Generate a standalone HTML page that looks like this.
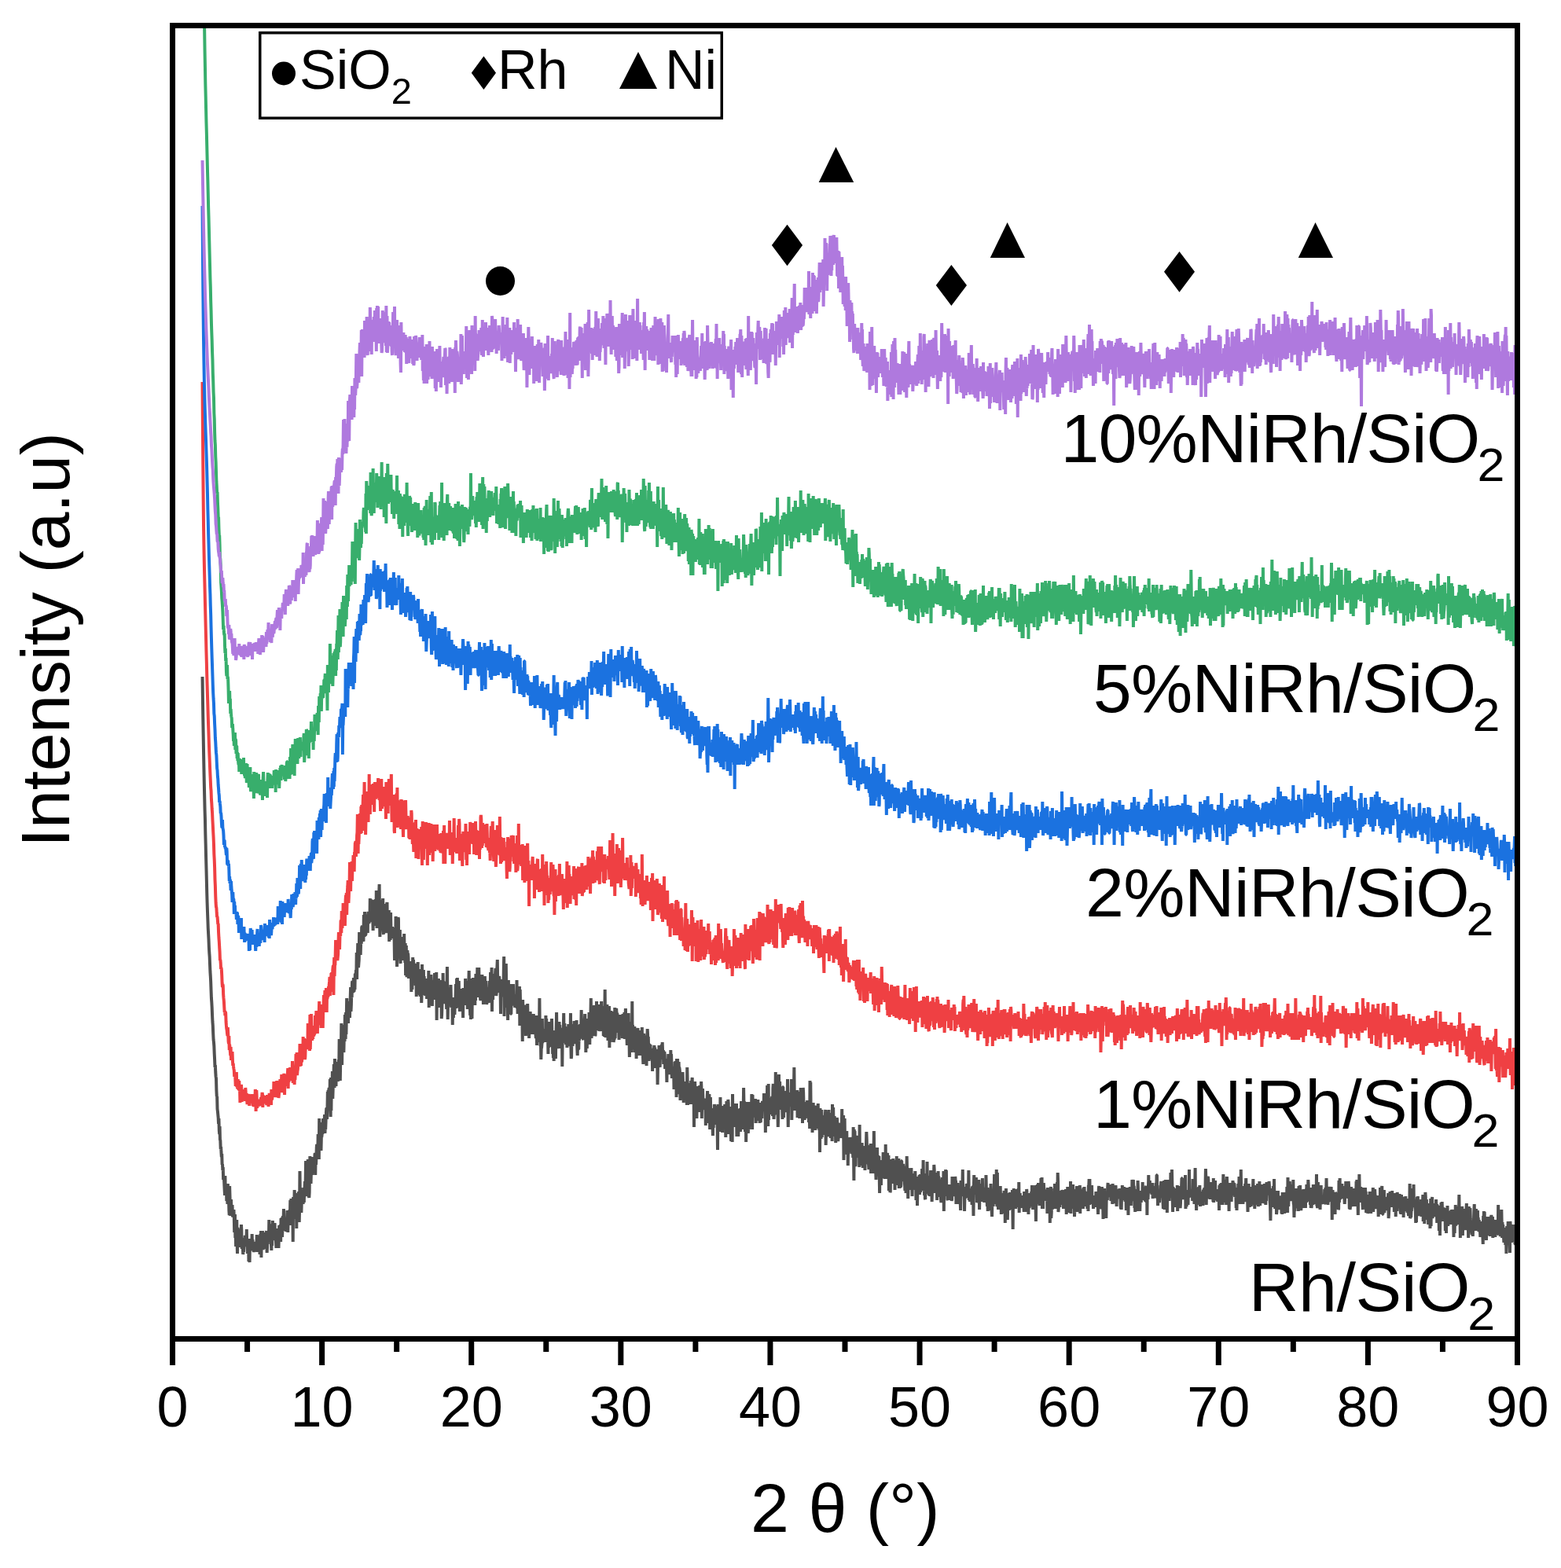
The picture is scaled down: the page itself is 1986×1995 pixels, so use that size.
<!DOCTYPE html>
<html><head><meta charset="utf-8"><title>XRD patterns</title>
<style>
html,body{margin:0;padding:0;background:#fff;}
body{width:1986px;height:1995px;overflow:hidden;}
svg{display:block;}
text{font-family:"Liberation Sans",Arial,sans-serif;fill:#000;}
</style></head>
<body>
<svg xmlns="http://www.w3.org/2000/svg" width="1986" height="1995" viewBox="0 0 1986 1995">
<defs><clipPath id="pa"><rect x="219.5" y="32.5" width="1711" height="1671"/></clipPath></defs>
<g clip-path="url(#pa)">
<path transform="translate(257.522,0) scale(0.38022,1)" vector-effect="non-scaling-stroke" fill="none" stroke="#505050" stroke-width="4" stroke-linejoin="bevel" d="M0,861l1,27 1,25 1,22 1,22 1,20 1,19 1,17 1,17 1,12 1,19 1,14 1,16 1,14 1,15 1,16 1,13 1,11 1,10 1,11 1,7 1,7 1,10 1,7 1,5 1,10 1,9 1,6 1,7 1,11 1,10 1,5 1,7 1,10 1,8 1,5 1,10 1,8 1,3 1,5 1,10 1,7 1,10 1,-3 1,9 1,6 1,2 1,15 1,8 1,0 1,16 1,3 1,4 1,4 1,8 1,-7 1,15 1,5 1,-10 1,17 1,1 1,11 1,-3 1,7 1,6 1,-4 1,14 1,-1 1,8 1,-4 1,16 1,-1 1,-3 1,9 1,8 1,7 1,-25 1,22 1,-2 1,-3 1,-7 1,22 1,-22 1,18 1,8 1,-26 1,13 1,-9 1,16 1,14 1,6 1,-37 1,13 1,14 1,11 1,-11 1,-10 1,12 1,-1 1,0 1,-4 1,14 1,1 1,-2 1,1 1,-8 1,10 1,19 1,-12 1,-11 1,30 1,-7 1,18 1,-20 1,-4 1,-10 1,30 1,13 1,-33 1,2 1,14 1,-14 1,7 1,0 1,6 1,10 1,-10 1,10 1,-13 1,8 1,-24 1,7 1,24 1,-14 1,12 1,0 1,9 1,-5 1,2 1,-11 1,-6 1,0 1,2 1,-6 1,6 1,5 1,3 1,-6 1,-16 1,19 1,3 1,9 1,-5 1,-12 1,-1 1,28 1,-13 1,11 1,3 1,-30 1,13 1,0 1,1 1,0 1,-3 1,0 1,-17 1,13 1,-6 1,9 1,-6 1,11 1,2 1,-5 1,0 1,-2 1,-6 1,3 1,-3 1,9 1,-4 1,6 1,-20 1,22 1,-17 1,1 1,5 1,-4 1,8 1,-9 1,-5 1,2 1,22 1,-13 1,-13 1,12 1,-16 1,34 1,-34 1,20 1,0 1,-20 1,17 1,7 1,-6 1,-2 1,7 1,-9 1,2 1,-5 1,8 1,-17 1,18 1,-14 1,-6 1,15 1,13 1,-7 1,-16 1,12 1,-12 1,4 1,2 1,-25 1,25 1,-13 1,4 1,-9 1,0 1,5 1,19 1,8 1,-18 1,12 1,-15 1,-17 1,21 1,3 1,-9 1,7 1,3 1,-16 1,-6 1,13 1,-1 1,-1 1,13 1,8 1,-23 1,11 1,3 1,-3 1,3 1,-16 1,12 1,13 1,-13 1,-16 1,13 1,7 1,-11 1,-10 1,22 1,-30 1,18 1,-6 1,-13 1,25 1,-10 1,-17 1,19 1,-12 1,-16 1,12 1,10 1,4 1,-6 1,-2 1,4 1,-8 1,15 1,-12 1,1 1,2 1,-18 1,3 1,25 1,-14 1,-8 1,6 1,-10 1,8 1,-11 1,10 1,-22 1,32 1,-21 1,-13 1,15 1,-3 1,5 1,-15 1,17 1,36 1,-57 1,18 1,-8 1,5 1,-24 1,7 1,18 1,-7 1,19 1,-28 1,9 1,31 1,-43 1,-2 1,9 1,-1 1,10 1,-9 1,-11 1,11 1,28 1,-17 1,-48 1,30 1,-9 1,17 1,-10 1,25 1,-13 1,-1 1,-9 1,-3 1,4 1,11 1,-10 1,-11 1,19 1,-14 1,-4 1,-9 1,2 1,-2 1,-26 1,45 1,-6 1,-10 1,14 1,-8 1,-2 1,-35 1,26 1,9 1,12 1,2 1,-7 1,-32 1,-14 1,33 1,-8 1,10 1,-15 1,3 1,-22 1,23 1,-13 1,9 1,0 1,-9 1,4 1,-6 1,9 1,-5 1,-15 1,-2 1,28 1,-25 1,12 1,-9 1,-13 1,-4 1,9 1,1 1,3 1,-26 1,7 1,5 1,20 1,-52 1,34 1,-14 1,11 1,-13 1,9 1,14 1,-17 1,0 1,-3 1,-16 1,15 1,-11 1,-9 1,8 1,-4 1,11 1,-12 1,-8 1,24 1,-7 1,2 1,-10 1,-11 1,-6 1,0 1,14 1,-12 1,-23 1,18 1,-20 1,19 1,-20 1,-2 1,16 1,-4 1,-23 1,31 1,17 1,-50 1,42 1,-35 1,1 1,3 1,-19 1,35 1,-12 1,-19 1,5 1,-18 1,14 1,16 1,-37 1,15 1,7 1,10 1,3 1,-26 1,-5 1,14 1,-12 1,-1 1,18 1,6 1,-20 1,-8 1,9 1,-35 1,24 1,-16 1,45 1,-24 1,-10 1,-6 1,-33 1,42 1,11 1,-34 1,17 1,-1 1,-33 1,31 1,4 1,-17 1,-7 1,10 1,-34 1,20 1,11 1,-34 1,28 1,-21 1,-25 1,25 1,-14 1,15 1,-22 1,28 1,-26 1,13 1,-15 1,2 1,19 1,-15 1,-11 1,-13 1,31 1,-8 1,-16 1,6 1,-19 1,-2 1,1 1,14 1,-3 1,-16 1,18 1,-2 1,-10 1,9 1,-20 1,0 1,5 1,-10 1,9 1,-31 1,34 1,-33 1,6 1,-19 1,24 1,7 1,-5 1,-5 1,-35 1,9 1,2 1,-8 1,26 1,-14 1,-5 1,5 1,-21 1,-1 1,-1 1,17 1,-4 1,2 1,5 1,-34 1,9 1,8 1,-21 1,10 1,20 1,0 1,-2 1,-15 1,-4 1,17 1,-21 1,9 1,13 1,-23 1,-4 1,7 1,8 1,-2 1,-5 1,5 1,-30 1,10 1,13 1,-15 1,-6 1,1 1,4 1,10 1,-12 1,17 1,19 1,-25 1,19 1,-14 1,-19 1,12 1,-10 1,24 1,-27 1,34 1,-10 1,-35 1,38 1,10 1,-32 1,25 1,-38 1,28 1,-26 1,29 1,-31 1,-11 1,41 1,26 1,-39 1,20 1,-10 1,-6 1,13 1,14 1,-39 1,25 1,-3 1,-24 1,42 1,4 1,-39 1,37 1,-22 1,-3 1,23 1,-17 1,2 1,17 1,-2 1,-5 1,-30 1,-2 1,38 1,-27 1,15 1,-16 1,13 1,-13 1,40 1,-35 1,13 1,0 1,20 1,-35 1,20 1,-1 1,11 1,0 1,-12 1,10 1,-7 1,12 1,-7 1,-7 1,10 1,6 1,26 1,-37 1,12 1,16 1,-47 1,5 1,9 1,15 1,35 1,-27 1,12 1,-19 1,-29 1,2 1,46 1,-10 1,-20 1,34 1,-36 1,37 1,6 1,-30 1,-4 1,27 1,-25 1,27 1,-27 1,28 1,-9 1,-7 1,-5 1,16 1,-29 1,23 1,-1 1,15 1,-25 1,41 1,-27 1,-11 1,35 1,5 1,-25 1,-9 1,13 1,-9 1,6 1,26 1,-15 1,-3 1,3 1,-4 1,12 1,2 1,-17 1,7 1,32 1,-26 1,-8 1,31 1,-27 1,-14 1,24 1,-21 1,7 1,11 1,-5 1,-8 1,3 1,1 1,24 1,-25 1,3 1,36 1,-35 1,29 1,-2 1,-19 1,-17 1,26 1,4 1,4 1,-11 1,16 1,3 1,-33 1,35 1,-17 1,-9 1,4 1,30 1,-12 1,-37 1,26 1,-2 1,0 1,-4 1,-13 1,32 1,-24 1,8 1,-2 1,-2 1,21 1,-5 1,-14 1,-3 1,7 1,19 1,-11 1,2 1,-7 1,1 1,6 1,-27 1,47 1,-33 1,3 1,27 1,-15 1,-3 1,-8 1,-13 1,24 1,14 1,-29 1,31 1,-33 1,5 1,17 1,-7 1,10 1,-19 1,-4 1,-11 1,9 1,2 1,-5 1,24 1,-13 1,-18 1,61 1,-45 1,-6 1,34 1,0 1,-32 1,-4 1,7 1,29 1,-20 1,-6 1,10 1,17 1,-35 1,14 1,-14 1,49 1,-5 1,-12 1,-14 1,11 1,-38 1,33 1,-22 1,0 1,9 1,4 1,13 1,2 1,-6 1,-16 1,22 1,-11 1,18 1,-29 1,-25 1,31 1,36 1,-23 1,-9 1,15 1,-5 1,-1 1,-13 1,8 1,2 1,-11 1,-7 1,17 1,12 1,-5 1,-2 1,0 1,29 1,-32 1,11 1,12 1,-26 1,3 1,11 1,8 1,-18 1,0 1,-4 1,-17 1,31 1,-18 1,-20 1,21 1,-22 1,10 1,14 1,-13 1,27 1,-34 1,23 1,4 1,12 1,-7 1,-10 1,-2 1,-2 1,16 1,-24 1,16 1,-9 1,5 1,-7 1,32 1,-38 1,13 1,0 1,4 1,-2 1,-1 1,8 1,-34 1,20 1,-17 1,20 1,-19 1,3 1,12 1,20 1,-12 1,-4 1,15 1,-32 1,-16 1,23 1,2 1,20 1,12 1,-47 1,52 1,-13 1,-10 1,-6 1,28 1,-32 1,-8 1,8 1,-20 1,24 1,-8 1,6 1,1 1,-20 1,32 1,-31 1,25 1,-34 1,27 1,-16 1,11 1,-9 1,-21 1,14 1,16 1,8 1,-29 1,-9 1,17 1,9 1,-6 1,-2 1,22 1,2 1,-3 1,-23 1,14 1,-4 1,-17 1,31 1,-11 1,-7 1,25 1,-9 1,2 1,4 1,-6 1,-27 1,11 1,19 1,-24 1,11 1,5 1,14 1,-2 1,-6 1,-14 1,15 1,-6 1,-9 1,20 1,-11 1,-17 1,27 1,-21 1,12 1,-29 1,20 1,-12 1,-1 1,-13 1,56 1,-32 1,6 1,11 1,-16 1,8 1,-25 1,21 1,-8 1,12 1,-4 1,-22 1,-6 1,11 1,24 1,-4 1,0 1,-33 1,-9 1,28 1,4 1,-3 1,13 1,-7 1,-14 1,4 1,14 1,0 1,-2 1,32 1,-34 1,5 1,-15 1,9 1,12 1,1 1,-10 1,8 1,-4 1,-26 1,-19 1,76 1,-20 1,-11 1,-23 1,7 1,36 1,-56 1,33 1,17 1,-10 1,9 1,-12 1,35 1,-46 1,-5 1,23 1,16 1,-20 1,16 1,-22 1,-8 1,35 1,3 1,0 1,-27 1,-9 1,0 1,13 1,12 1,-1 1,-26 1,23 1,-2 1,1 1,-1 1,-2 1,11 1,-6 1,1 1,-12 1,15 1,-6 1,-27 1,36 1,-10 1,17 1,-15 1,2 1,4 1,-2 1,-6 1,-18 1,50 1,-46 1,18 1,14 1,-4 1,3 1,4 1,7 1,-13 1,37 1,-53 1,17 1,-7 1,-2 1,12 1,16 1,-29 1,1 1,20 1,-2 1,20 1,-12 1,-10 1,-7 1,8 1,-5 1,-15 1,19 1,-2 1,0 1,-2 1,29 1,-13 1,4 1,-20 1,-5 1,10 1,8 1,-8 1,3 1,16 1,-8 1,-17 1,8 1,-3 1,12 1,-18 1,14 1,12 1,-8 1,-13 1,5 1,10 1,6 1,5 1,-13 1,-16 1,38 1,-15 1,1 1,-1 1,-18 1,10 1,8 1,11 1,-13 1,-43 1,40 1,8 1,13 1,-7 1,24 1,-14 1,-1 1,-5 1,-32 1,31 1,-3 1,-15 1,15 1,-2 1,-11 1,4 1,-1 1,7 1,-9 1,14 1,-34 1,23 1,-19 1,16 1,14 1,-6 1,-2 1,3 1,20 1,-36 1,28 1,-33 1,15 1,8 1,-13 1,14 1,8 1,-26 1,15 1,-4 1,-21 1,24 1,-8 1,29 1,-30 1,35 1,-30 1,34 1,-19 1,-1 1,4 1,2 1,7 1,4 1,-28 1,-12 1,-19 1,31 1,15 1,-5 1,-3 1,-7 1,-4 1,5 1,9 1,-29 1,34 1,-30 1,18 1,-7 1,4 1,-10 1,-1 1,12 1,-11 1,48 1,-39 1,-4 1,2 1,-8 1,-19 1,30 1,8 1,-25 1,21 1,-17 1,16 1,5 1,2 1,-1 1,-16 1,21 1,-18 1,11 1,5 1,-14 1,-14 1,26 1,-24 1,3 1,-3 1,26 1,-13 1,-29 1,40 1,18 1,-3 1,-33 1,9 1,6 1,5 1,-12 1,-16 1,25 1,-2 1,-27 1,13 1,9 1,-4 1,7 1,4 1,-4 1,-9 1,-17 1,26 1,11 1,8 1,-28 1,0 1,20 1,0 1,-15 1,4 1,-20 1,18 1,-19 1,9 1,0 1,-5 1,-22 1,17 1,16 1,-6 1,-5 1,11 1,4 1,1 1,-22 1,11 1,-5 1,-8 1,-9 1,19 1,-11 1,41 1,-31 1,-2 1,-2 1,30 1,-38 1,10 1,-8 1,8 1,1 1,15 1,-34 1,19 1,22 1,-29 1,4 1,-10 1,-24 1,34 1,17 1,-22 1,-19 1,28 1,-3 1,13 1,-2 1,-16 1,9 1,-30 1,39 1,-12 1,12 1,-1 1,-18 1,1 1,-10 1,-16 1,26 1,4 1,-17 1,24 1,-8 1,5 1,-17 1,-13 1,34 1,-2 1,-10 1,-4 1,2 1,2 1,-5 1,-21 1,38 1,-31 1,16 1,0 1,8 1,-25 1,38 1,-7 1,1 1,7 1,-28 1,-32 1,47 1,14 1,-2 1,-23 1,6 1,5 1,-28 1,15 1,1 1,30 1,-30 1,30 1,-21 1,-23 1,53 1,-43 1,21 1,15 1,-30 1,-10 1,31 1,-13 1,-17 1,2 1,9 1,19 1,-17 1,13 1,13 1,-5 1,2 1,-2 1,-39 1,39 1,-12 1,-6 1,-13 1,-7 1,6 1,15 1,-15 1,5 1,3 1,17 1,-13 1,2 1,20 1,-22 1,13 1,-23 1,19 1,-3 1,1 1,-8 1,-8 1,10 1,-2 1,21 1,-2 1,-29 1,26 1,-15 1,13 1,-13 1,-13 1,34 1,-8 1,-22 1,-9 1,19 1,-9 1,12 1,13 1,12 1,-24 1,23 1,-2 1,-22 1,-16 1,35 1,-3 1,24 1,-12 1,-9 1,13 1,-37 1,17 1,-6 1,28 1,-16 1,-49 1,61 1,-31 1,24 1,-17 1,10 1,6 1,-6 1,-15 1,33 1,-14 1,-5 1,10 1,-16 1,33 1,-22 1,2 1,0 1,-16 1,-3 1,19 1,2 1,14 1,-12 1,-20 1,22 1,4 1,3 1,-9 1,-20 1,32 1,-25 1,18 1,-29 1,32 1,-21 1,26 1,10 1,-8 1,-31 1,3 1,1 1,21 1,-4 1,-2 1,2 1,4 1,2 1,14 1,-23 1,3 1,-27 1,7 1,9 1,-6 1,19 1,12 1,-20 1,-1 1,0 1,9 1,-9 1,14 1,-1 1,0 1,6 1,-9 1,2 1,22 1,-24 1,11 1,-9 1,-7 1,0 1,-4 1,11 1,-8 1,3 1,23 1,-19 1,18 1,-12 1,9 1,-20 1,11 1,34 1,-24 1,2 1,-10 1,9 1,-27 1,5 1,17 1,6 1,-16 1,3 1,-2 1,3 1,-14 1,-3 1,19 1,-22 1,11 1,4 1,-5 1,18 1,-9 1,6 1,-13 1,4 1,18 1,-2 1,-11 1,12 1,-2 1,0 1,20 1,-27 1,12 1,0 1,-8 1,-13 1,26 1,-5 1,-3 1,0 1,1 1,-12 1,16 1,-28 1,25 1,-20 1,16 1,15 1,-13 1,-2 1,14 1,-10 1,-2 1,1 1,26 1,-11 1,-2 1,-22 1,25 1,-26 1,25 1,-21 1,42 1,-49 1,40 1,-5 1,-35 1,21 1,24 1,-4 1,-37 1,15 1,-8 1,3 1,5 1,34 1,-22 1,-5 1,-1 1,14 1,1 1,-21 1,32 1,-34 1,12 1,10 1,17 1,-27 1,9 1,14 1,-9 1,8 1,-1 1,-10 1,5 1,4 1,-12 1,22 1,-48 1,15 1,33 1,-14 1,-14 1,14 1,10 1,-22 1,19 1,-12 1,1 1,1 1,16 1,-30 1,11 1,14 1,-25 1,-4 1,29 1,-7 1,-2 1,5 1,-15 1,53 1,-53 1,8 1,-13 1,14 1,27 1,-20 1,8 1,-14 1,32 1,-22 1,-19 1,28 1,-16 1,14 1,-6 1,2 1,-1 1,-14 1,-8 1,34 1,-14 1,6 1,-10 1,-21 1,10 1,37 1,-29 1,6 1,-15 1,13 1,3 1,2 1,2 1,-7 1,1 1,8 1,5 1,-6 1,26 1,-21 1,0 1,-11 1,23 1,-27 1,-8 1,9 1,22 1,-23 1,33 1,-17 1,-20 1,17 1,28 1,-36 1,-5 1,25 1,11 1,-4 1,-18 1,8 1,2 1,12 1,13 1,-30 1,20 1,-22 1,13 1,-21 1,3 1,16 1,-17 1,24 1,-19 1,9 1,-2 1,-3 1,6 1,13 1,28 1,-58 1,21 1,-7 1,-9 1,16 1,-15 1,11 1,18 1,-44 1,31 1,3 1,-19 1,20 1,-2 1,-9 1,21 1,-34 1,26 1,-11 1,-11 1,12 1,-3 1,16 1,-31 1,18 1,-4 1,28 1,-37 1,30 1,-39 1,29 1,-7 1,7 1,-14 1,-17 1,5 1,39 1,-15 1,-15 1,24 1,-22 1,0 1,-7 1,33 1,11 1,-40 1,17 1,9 1,15 1,-61 1,34 1,7 1,-29 1,26 1,-3 1,7 1,-18 1,14 1,-14 1,16 1,-6 1,-7 1,-15 1,42 1,-7 1,-4 1,-21 1,5 1,27 1,-13 1,-22 1,13 1,1 1,-5 1,-10 1,30 1,-9 1,-11 1,-19 1,13 1,8 1,12 1,-17 1,20 1,-13 1,-12 1,-28 1,22 1,-5 1,18 1,7 1,14 1,-19 1,-16 1,48 1,-28 1,-8 1,0 1,-15 1,27 1,-3 1,16 1,-7 1,-3 1,5 1,-21 1,-2 1,5 1,-17 1,15 1,-3 1,14 1,-10 1,-26 1,26 1,19 1,-44 1,14 1,10 1,-18 1,10 1,8 1,-19 1,22 1,1 1,-23 1,17 1,14 1,-17 1,8 1,2 1,-12 1,16 1,-8 1,-19 1,20 1,5 1,-1 1,-20 1,14 1,12 1,-15 1,12 1,2 1,-19 1,9 1,-13 1,18 1,-16 1,-6 1,6 1,0 1,5 1,1 1,-22 1,7 1,13 1,2 1,-6 1,34 1,-20 1,-17 1,11 1,8 1,-14 1,-28 1,24 1,0 1,28 1,-54 1,46 1,-24 1,15 1,-17 1,6 1,13 1,-14 1,13 1,-16 1,-4 1,2 1,-4 1,5 1,20 1,-35 1,-6 1,22 1,23 1,-9 1,3 1,-1 1,-27 1,12 1,-38 1,27 1,17 1,-30 1,-7 1,10 1,21 1,13 1,19 1,-16 1,-40 1,-11 1,33 1,12 1,-36 1,15 1,1 1,6 1,-3 1,9 1,8 1,-14 1,9 1,17 1,-41 1,0 1,21 1,18 1,-23 1,12 1,-19 1,17 1,-21 1,18 1,-4 1,0 1,13 1,-4 1,-23 1,20 1,-35 1,37 1,24 1,-30 1,-1 1,-6 1,11 1,-18 1,16 1,-13 1,-2 1,7 1,-2 1,-23 1,52 1,-26 1,-25 1,38 1,-15 1,4 1,7 1,-22 1,-28 1,39 1,5 1,11 1,-24 1,7 1,9 1,-9 1,1 1,7 1,-17 1,35 1,-33 1,13 1,-5 1,-5 1,18 1,6 1,7 1,-12 1,-14 1,19 1,-32 1,21 1,7 1,1 1,-23 1,-5 1,44 1,-30 1,-15 1,6 1,17 1,17 1,-16 1,17 1,-13 1,3 1,8 1,-19 1,10 1,-9 1,-3 1,18 1,-20 1,13 1,-12 1,10 1,-6 1,23 1,-14 1,0 1,22 1,-61 1,24 1,-22 1,38 1,6 1,3 1,-4 1,-16 1,37 1,-20 1,-7 1,-11 1,21 1,-12 1,1 1,10 1,0 1,-13 1,28 1,-30 1,-1 1,20 1,-2 1,0 1,-6 1,7 1,-8 1,-14 1,32 1,-23 1,11 1,14 1,-9 1,37 1,-56 1,9 1,12 1,18 1,-22 1,-15 1,35 1,-28 1,10 1,15 1,-21 1,3 1,13 1,-9 1,7 1,-17 1,11 1,-13 1,-6 1,45 1,-18 1,6 1,-25 1,13 1,-3 1,-16 1,26 1,-17 1,7 1,-18 1,34 1,-3 1,-6 1,-17 1,5 1,23 1,-20 1,7 1,-2 1,-17 1,36 1,-47 1,29 1,-4 1,-21 1,26 1,3 1,-6 1,-12 1,17 1,9 1,-12 1,20 1,-12 1,-1 1,9 1,-28 1,2 1,15 1,0 1,13 1,-4 1,-12 1,1 1,-6 1,-1 1,-1 1,19 1,-18 1,3 1,7 1,-8 1,4 1,-25 1,35 1,-9 1,8 1,3 1,-29 1,57 1,-29 1,1 1,-25 1,32 1,-2 1,-9 1,8 1,15 1,-21 1,-7 1,30 1,-14 1,-5 1,33 1,-28 1,-3 1,6 1,-9 1,9 1,0 1,-11 1,6 1,8 1,1 1,3 1,3 1,-6 1,4 1,-12 1,2 1,17 1,-39 1,31 1,37 1,-65 1,44 1,-42 1,28 1,17 1,-2 1,-31 1,-5 1,-1 1,28 1,-14 1,6 1,3 1,2 1,2 1,-5 1,-22 1,40 1,-54 1,52 1,-24 1,6 1,-4 1,2 1,5 1,-4 1,-10 1,26 1,-19 1,25 1,-19 1,-7 1,15 1,6 1,-23 1,9 1,22 1,-31 1,2 1,13 1,-17 1,-16 1,10 1,27 1,3 1,0 1,-3 1,-20 1,24 1,7 1,-24 1,21 1,-16 1,7 1,2 1,-23 1,38 1,-30 1,10 1,-5 1,13 1,-1 1,-5 1,18 1,-14 1,-9 1,-31 1,33 1,0 1,-7 1,0 1,19 1,6 1,11 1,-10 1,-23 1,13 1,-21 1,27 1,-5 1,-12 1,7 1,-2 1,-4 1,24 1,23 1,-28 1,3 1,-11 1,-6 1,32 1,-32 1,10 1,-7 1,9 1,-7 1,8 1,-23 1,15 1,18 1,-29 1,4 1,26 1,-12 1,9 1,-41 1,30 1,-18 1,-1 1,23 1,10 1,-33 1,5 1,7 1,6 1,-15 1,45 1,-21 1,-11 1,-2 1,36 1,-1 1,-34 1,11 1,12 1,-30 1,7 1,24 1,-25 1,4 1,-11 1,7 1,19 1,-19 1,-5 1,8 1,30 1,-19 1,-9 1,9 1,4 1,-4 1,-24 1,27 1,-7 1,14 1,-27 1,30 1,-19 1,-15 1,38 1,-23 1,11 1,-6 1,16 1,0 1,0 1,-4 1,-29 1,0 1,23 1,-14 1,17 1,-3 1,-19 1,5 1,-2 1,4 1,8 1,11 1,8 1,-28 1,5 1,26 1,-8 1,-7 1,-32 1,17 1,14 1,-9 1,32 1,-23 1,2 1,-16 1,0 1,5 1,1 1,5 1,7 1,-1 1,9 1,-28 1,19 1,0 1,17 1,-22 1,7 1,-14 1,15 1,0 1,-12 1,2 1,5 1,7 1,-20 1,24 1,-14 1,27 1,-5 1,-23 1,-2 1,37 1,-22 1,-1 1,-11 1,3 1,12 1,-3 1,-17 1,25 1,-11 1,-15 1,23 1,-13 1,11 1,-16 1,11 1,-23 1,24 1,-23 1,20 1,-32 1,30 1,9 1,-3 1,9 1,-27 1,31 1,1 1,-33 1,5 1,2 1,7 1,3 1,-32 1,36 1,-9 1,-9 1,23 1,-15 1,17 1,-7 1,-10 1,18 1,-5 1,-15 1,-13 1,13 1,14 1,-10 1,23 1,-17 1,-1 1,2 1,-15 1,9 1,-6 1,-19 1,6 1,30 1,-14 1,4 1,-16 1,10 1,16 1,-8 1,-7 1,24 1,-18 1,-4 1,18 1,-33 1,26 1,-19 1,4 1,1 1,9 1,0 1,3 1,-2 1,14 1,4 1,-12 1,1 1,-13 1,-8 1,19 1,-6 1,9 1,-30 1,51 1,-45 1,15 1,11 1,-27 1,10 1,-17 1,7 1,-6 1,24 1,2 1,-7 1,18 1,1 1,-15 1,-3 1,0 1,-2 1,20 1,-12 1,-7 1,2 1,8 1,-10 1,8 1,-4 1,16 1,-2 1,-29 1,14 1,10 1,-13 1,14 1,-5 1,3 1,-8 1,5 1,2 1,-22 1,6 1,-1 1,30 1,-15 1,1 1,-2 1,-8 1,-3 1,18 1,-13 1,22 1,-16 1,-1 1,-3 1,1 1,2 1,16 1,9 1,-38 1,15 1,5 1,-17 1,3 1,2 1,-22 1,34 1,-8 1,0 1,2 1,2 1,23 1,-24 1,8 1,-15 1,9 1,-7 1,2 1,-8 1,1 1,14 1,3 1,-3 1,-12 1,11 1,-31 1,38 1,-11 1,3 1,10 1,-17 1,15 1,-15 1,11 1,-11 1,8 1,13 1,-23 1,0 1,4 1,6 1,27 1,-36 1,-16 1,15 1,-9 1,11 1,6 1,-11 1,4 1,-13 1,22 1,-10 1,20 1,-1 1,-20 1,5 1,5 1,8 1,-26 1,17 1,21 1,-21 1,3 1,-2 1,-13 1,23 1,-7 1,-1 1,6 1,1 1,-29 1,26 1,-12 1,8 1,-9 1,-1 1,19 1,-10 1,-3 1,0 1,4 1,-1 1,-25 1,16 1,7 1,10 1,7 1,-24 1,30 1,-19 1,4 1,-11 1,0 1,22 1,-18 1,1 1,14 1,6 1,-34 1,14 1,2 1,19 1,7 1,-26 1,4 1,6 1,3 1,-16 1,13 1,-17 1,-21 1,14 1,17 1,7 1,-33 1,5 1,19 1,-35 1,42 1,5 1,-43 1,40 1,-10 1,17 1,-12 1,-5 1,4 1,9 1,-8 1,-2 1,-16 1,21 1,-5 1,20 1,-20 1,-1 1,-5 1,14 1,-10 1,-5 1,24 1,2 1,-23 1,-6 1,23 1,-21 1,39 1,-32 1,12 1,-24 1,13 1,12 1,-7 1,-10 1,32 1,-18 1,-11 1,-4 1,4 1,17 1,-22 1,8 1,-9 1,22 1,-15 1,11 1,-3 1,-12 1,13 1,3 1,-22 1,19 1,31 1,-41 1,10 1,-21 1,19 1,-11 1,14 1,-9 1,-12 1,25 1,-14 1,-9 1,12 1,-11 1,14 1,-5 1,-3 1,11 1,-21 1,24 1,-32 1,39 1,-15 1,-5 1,-5 1,14 1,-8 1,0 1,13 1,-16 1,2 1,7 1,7 1,-13 1,4 1,-2 1,8 1,8 1,-26 1,8 1,1 1,7 1,10 1,-16 1,2 1,10 1,-25 1,5 1,3 1,5 1,2 1,-8 1,25 1,-27 1,6 1,13 1,-3 1,-8 1,4 1,5 1,-9 1,7 1,-17 1,11 1,-19 1,8 1,-3 1,26 1,-18 1,8 1,-13 1,8 1,-1 1,-7 1,19 1,-27 1,24 1,22 1,-37 1,9 1,-17 1,16 1,-18 1,25 1,-12 1,-15 1,6 1,-3 1,14 1,12 1,-13 1,-9 1,4 1,10 1,-27 1,32 1,-2 1,-31 1,40 1,-31 1,16 1,15 1,-31 1,-2 1,8 1,0 1,10 1,-4 1,0 1,0 1,4 1,-8 1,13 1,-3 1,-11 1,30 1,-33 1,22 1,-16 1,12 1,1 1,4 1,6 1,-24 1,40 1,-27 1,-13 1,-6 1,40 1,-7 1,-18 1,8 1,6 1,-13 1,-6 1,5 1,9 1,-9 1,-13 1,21 1,-27 1,11 1,21 1,-10 1,0 1,-2 1,10 1,-12 1,-20 1,24 1,-36 1,11 1,39 1,-6 1,-16 1,4 1,2 1,10 1,-19 1,-2 1,3 1,8 1,2 1,-7 1,12 1,-19 1,10 1,-7 1,-3 1,24 1,-17 1,-7 1,11 1,-11 1,17 1,3 1,2 1,-23 1,10 1,22 1,-22 1,16 1,3 1,-32 1,28 1,-5 1,2 1,8 1,-13 1,-4 1,6 1,-11 1,9 1,-27 1,41 1,-25 1,12 1,-3 1,-2 1,0 1,0 1,-19 1,12 1,19 1,-24 1,0 1,34 1,-10 1,4 1,-17 1,3 1,5 1,-2 1,-7 1,-15 1,8 1,-8 1,33 1,-21 1,2 1,5 1,-3 1,6 1,-13 1,-10 1,36 1,-27 1,3 1,-4 1,3 1,6 1,8 1,-20 1,15 1,-11 1,21 1,-27 1,15 1,6 1,-22 1,16 1,0 1,-10 1,6 1,13 1,-8 1,-7 1,2 1,7 1,9 1,-5 1,-1 1,9 1,-33 1,1 1,-9 1,33 1,-33 1,24 1,8 1,-23 1,8 1,5 1,10 1,-24 1,20 1,4 1,-6 1,0 1,12 1,-11 1,-3 1,-3 1,10 1,-10 1,10 1,-6 1,11 1,-20 1,9 1,3 1,1 1,7 1,-8 1,6 1,11 1,-12 1,-20 1,-4 1,22 1,-11 1,7 1,-5 1,16 1,-1 1,-25 1,15 1,-6 1,-11 1,21 1,-8 1,6 1,22 1,-13 1,-2 1,-16 1,-8 1,25 1,-16 1,4 1,-5 1,5 1,25 1,-29 1,0 1,5 1,1 1,-16 1,-6 1,13 1,4 1,-6 1,-3 1,1 1,6 1,3 1,-16 1,11 1,10 1,-6 1,-13 1,11 1,3 1,9 1,-26 1,25 1,-12 1,7 1,5 1,-17 1,1 1,7 1,9 1,-14 1,-9 1,8 1,11 1,8 1,-18 1,2 1,2 1,0 1,-8 1,5 1,7 1,-1 1,-1 1,-11 1,4 1,-1 1,18 1,5 1,-12 1,13 1,-20 1,0 1,-11 1,16 1,-7 1,6 1,4 1,-8 1,-9 1,11 1,0 1,1 1,7 1,-10 1,0 1,21 1,-7 1,-13 1,-9 1,5 1,9 1,5 1,16 1,-28 1,5 1,-6 1,5 1,-5 1,-7 1,22 1,-10 1,12 1,-19 1,8 1,5 1,-27 1,6 1,21 1,-6 1,-21 1,12 1,-4 1,6 1,22 1,-23 1,28 1,-24 1,-5 1,24 1,-7 1,5 1,6 1,-10 1,2 1,-31 1,10 1,13 1,-3 1,6 1,-13 1,17 1,9 1,-15 1,3 1,-3 1,4 1,-8 1,-7 1,7 1,-1 1,-17 1,19 1,-3 1,2 1,-8 1,11 1,2 1,-14 1,10 1,5 1,0 1,-18 1,-1 1,11 1,-11 1,37 1,-35 1,0 1,15 1,-11 1,-20 1,23 1,-9 1,5 1,-12 1,8 1,7 1,1 1,-11 1,4 1,-1 1,10 1,-3 1,-12 1,20 1,-14 1,11 1,-13 1,12 1,-4 1,2 1,5 1,-1 1,-3 1,0 1,-15 1,12 1,-22 1,0 1,20 1,1 1,18 1,-9 1,5 1,-15 1,8 1,7 1,-6 1,-2 1,-3 1,-11 1,1 1,-6 1,19 1,-7 1,-4 1,11 1,-10 1,17 1,9 1,-15 1,-12 1,-9 1,37 1,-16 1,-17 1,23 1,-28 1,12 1,3 1,-2 1,-8 1,37 1,-29 1,8 1,-4 1,-17 1,11 1,8 1,8 1,-14 1,8 1,-8 1,10 1,-32 1,32 1,-13 1,1 1,-24 1,19 1,17 1,18 1,-31 1,0 1,12 1,-2 1,-9 1,4 1,-2 1,10 1,2 1,10 1,-8 1,-3 1,-5 1,8 1,-20 1,33 1,-20 1,12 1,-23 1,19 1,-7 1,-6 1,-5 1,-2 1,28 1,-6 1,-12 1,1 1,-10 1,-11 1,0 1,13 1,4 1,-10 1,20 1,-3 1,-3 1,-21 1,17 1,2 1,-13 1,-10 1,43 1,-13 1,-11 1,21 1,-5 1,-7 1,-3 1,6 1,7 1,-14 1,-3 1,8 1,-36 1,31 1,-5 1,4 1,-2 1,6 1,-3 1,0 1,-2 1,6 1,-10 1,15 1,-28 1,20 1,3 1,-18 1,8 1,19 1,-15 1,-8 1,-23 1,36 1,-3 1,5 1,16 1,-22 1,1 1,-8 1,6 1,1 1,8 1,-2 1,-14 1,3 1,20 1,-25 1,18 1,9 1,-10 1,-4 1,11 1,-10 1,-4 1,-2 1,14 1,-5 1,9 1,-20 1,1 1,-2 1,8 1,-10 1,17 1,-6 1,-14 1,-21 1,12 1,34 1,-16 1,3 1,-7 1,9 1,-24 1,-1 1,4 1,18 1,6 1,-2 1,-6 1,-13 1,22 1,-11 1,3 1,-1 1,-4 1,-3 1,2 1,-8 1,17 1,-5 1,13 1,-30 1,31 1,-13 1,-1 1,-7 1,0 1,-7 1,25 1,-11 1,10 1,1 1,-14 1,2 1,-1 1,15 1,-10 1,1 1,6 1,-9 1,23 1,-32 1,23 1,2 1,-27 1,21 1,-6 1,6 1,-22 1,16 1,-13 1,6 1,19 1,-16 1,-23 1,9 1,3 1,23 1,-18 1,-10 1,29 1,-9 1,1 1,-12 1,23 1,-16 1,-20 1,9 1,3 1,7 1,10 1,-16 1,2 1,29 1,-22 1,-7 1,6 1,-13 1,19 1,4 1,-16 1,17 1,-14 1,6 1,-11 1,0 1,-8 1,18 1,-5 1,0 1,-9 1,0 1,5 1,12 1,-2 1,-10 1,10 1,16 1,-18 1,21 1,-17 1,9 1,-19 1,18 1,-25 1,15 1,-6 1,-18 1,7 1,26 1,-6 1,8 1,-11 1,-33 1,33 1,-8 1,0 1,1 1,-3 1,-2 1,23 1,-8 1,-12 1,2 1,15 1,-6 1,-2 1,-15 1,9 1,-8 1,-8 1,30 1,-13 1,-1 1,-6 1,18 1,15 1,-16 1,3 1,-23 1,16 1,0 1,14 1,-16 1,-10 1,9 1,-4 1,20 1,-8 1,-3 1,-2 1,7 1,-14 1,-4 1,-11 1,33 1,-7 1,1 1,-6 1,17 1,-28 1,23 1,-21 1,4 1,-8 1,14 1,-4 1,8 1,-11 1,-9 1,21 1,8 1,-6 1,-8 1,5 1,-23 1,15 1,16 1,-8 1,-14 1,19 1,-11 1,9 1,-22 1,9 1,9 1,0 1,3 1,-6 1,-2 1,7 1,4 1,-25 1,13 1,1 1,4 1,9 1,-25 1,20 1,-24 1,10 1,3 1,3 1,-4 1,1 1,2 1,1 1,-17 1,5 1,10 1,11 1,5 1,19 1,-29 1,-9 1,10 1,5 1,-5 1,-13 1,10 1,1 1,-14 1,2 1,25 1,-36 1,25 1,-4 1,17 1,-8 1,-15 1,22 1,-19 1,27 1,-3 1,-19 1,9 1,-6 1,-11 1,20 1,-6 1,4 1,3 1,3 1,-4 1,-11 1,1 1,4 1,-6 1,-1 1,22 1,-14 1,15 1,-28 1,7 1,-4 1,1 1,1 1,2 1,-4 1,24 1,-12 1,-15 1,2 1,14 1,-2 1,-12 1,16 1,-25 1,10 1,23 1,-45 1,25 1,12 1,-12 1,-6 1,-1 1,-13 1,8 1,14 1,-6 1,6 1,-2 1,5 1,-21 1,14 1,0 1,0 1,-6 1,-14 1,30 1,2 1,16 1,-17 1,9 1,-11 1,-10 1,9 1,-17 1,14 1,-3 1,-10 1,24 1,-2 1,-6 1,3 1,9 1,-19 1,-13 1,4 1,18 1,-5 1,-18 1,29 1,-12 1,15 1,-5 1,-17 1,6 1,-9 1,-1 1,6 1,8 1,9 1,-24 1,17 1,-7 1,-3 1,14 1,-15 1,18 1,-18 1,-6 1,17 1,-23 1,3 1,10 1,2 1,-3 1,-18 1,7 1,19 1,1 1,-17 1,14 1,-1 1,9 1,-19 1,23 1,-18 1,18 1,-5 1,-21 1,8 1,6 1,8 1,-26 1,10 1,11 1,-1 1,-16 1,1 1,14 1,-15 1,13 1,8 1,-10 1,-28 1,40 1,0 1,3 1,-6 1,-27 1,33 1,-11 1,6 1,-12 1,-1 1,0 1,20 1,-14 1,-5 1,-12 1,19 1,-5 1,2 1,8 1,-2 1,-8 1,2 1,-1 1,6 1,0 1,-6 1,-10 1,18 1,0 1,-20 1,15 1,-8 1,-19 1,22 1,11 1,-18 1,0 1,19 1,-23 1,2 1,6 1,10 1,0 1,-12 1,2 1,5 1,-5 1,-5 1,-3 1,19 1,-10 1,33 1,-24 1,-14 1,8 1,3 1,1 1,0 1,1 1,-7 1,9 1,16 1,-28 1,1 1,11 1,6 1,-5 1,5 1,-14 1,-2 1,10 1,0 1,10 1,-1 1,-36 1,28 1,-15 1,-16 1,27 1,-6 1,-2 1,-10 1,3 1,8 1,-13 1,15 1,2 1,-3 1,5 1,-4 1,-12 1,2 1,12 1,9 1,-9 1,-7 1,8 1,-21 1,8 1,7 1,3 1,-3 1,1 1,-10 1,7 1,9 1,-22 1,6 1,9 1,20 1,-9 1,10 1,-3 1,-18 1,4 1,-12 1,25 1,-5 1,-1 1,1 1,-3 1,-2 1,1 1,9 1,-21 1,-2 1,11 1,12 1,-10 1,-4 1,11 1,-8 1,-21 1,10 1,-12 1,20 1,-2 1,9 1,18 1,-29 1,7 1,-4 1,-26 1,22 1,0 1,11 1,-12 1,-5 1,20 1,-7 1,-8 1,1 1,5 1,12 1,6 1,-28 1,26 1,-12 1,3 1,7 1,-21 1,20 1,-23 1,9 1,-4 1,27 1,-1 1,-9 1,-2 1,-11 1,24 1,-4 1,-5 1,-11 1,-2 1,3 1,15 1,-24 1,11 1,16 1,-8 1,9 1,-14 1,1 1,10 1,-8 1,-3 1,-9 1,-10 1,31 1,-20 1,-3 1,17 1,-18 1,-5 1,8 1,6 1,3 1,3 1,5 1,-12 1,5 1,-4 1,-6 1,11 1,0 1,16 1,-14 1,-13 1,14 1,-9 1,19 1,-34 1,11 1,0 1,8 1,-2 1,-16 1,-3 1,22 1,14 1,0 1,-20 1,9 1,-14 1,-6 1,29 1,-6 1,-11 1,0 1,14 1,-6 1,-7 1,6 1,-3 1,-4 1,-3 1,17 1,-14 1,-8 1,32 1,-6 1,-7 1,-7 1,3 1,-17 1,15 1,3 1,-5 1,7 1,-12 1,10 1,-19 1,17 1,-6 1,-8 1,10 1,4 1,-6 1,16 1,-17 1,17 1,-2 1,-14 1,22 1,-30 1,20 1,-5 1,8 1,-24 1,4 1,3 1,9 1,1 1,-1 1,-2 1,-5 1,-7 1,10 1,10 1,5 1,-16 1,17 1,-25 1,22 1,-19 1,14 1,-13 1,0 1,5 1,20 1,-22 1,14 1,-5 1,2 1,0 1,3 1,-19 1,13 1,4 1,-10 1,10 1,-14 1,18 1,-15 1,5 1,11 1,3 1,-17 1,-1 1,17 1,-40 1,44 1,-1 1,-24 1,24 1,-9 1,1 1,-29 1,19 1,4 1,-3 1,1 1,1 1,-27 1,28 1,-5 1,6 1,-4 1,5 1,3 1,16 1,-27 1,26 1,-20 1,-7 1,-5 1,24 1,-25 1,25 1,-5 1,-10 1,-1 1,12 1,-3 1,6 1,-7 1,-6 1,11 1,-18 1,22 1,-9 1,-12 1,1 1,8 1,-16 1,34 1,-5 1,-21 1,10 1,19 1,-13 1,-15 1,-12 1,6 1,29 1,-9 1,-17 1,21 1,-11 1,-3 1,2 1,1 1,22 1,-27 1,5 1,19 1,1 1,-25 1,32 1,-10 1,-28 1,35 1,-34 1,22 1,-19 1,-6 1,27 1,-4 1,-5 1,3 1,-3 1,-2 1,-8 1,17 1,-6 1,-2 1,-4 1,3 1,-13 1,13 1,-7 1,24 1,-23 1,5 1,5 1,8 1,-3 1,-5 1,23 1,-23 1,4 1,25 1,-38 1,20 1,-6 1,-18 1,7 1,16 1,-24 1,13 1,12 1,-12 1,5 1,-10 1,1 1,0 1,3 1,10 1,-6 1,21 1,-15 1,-3 1,21 1,-25 1,-7 1,10 1,-13 1,17 1,9 1,-8 1,-11 1,3 1,7 1,7 1,-16 1,0 1,16 1,-9 1,1 1,2 1,-13 1,6 1,13 1,-13 1,0 1,5 1,2 1,22 1,-35 1,10 1,20 1,-21 1,4 1,-19 1,26 1,-1 1,-1 1,-10 1,6 1,-5 1,10 1,-9 1,9 1,-23 1,11 1,-26 1,28 1,10 1,-11 1,28 1,-35 1,7 1,-6 1,4 1,1 1,-11 1,6 1,31 1,-24 1,13 1,-23 1,12 1,7 1,-7 1,-4 1,4 1,2 1,9 1,4 1,-26 1,-8 1,20 1,2 1,7 1,4 1,-18 1,29 1,-19 1,-21 1,29 1,-7 1,0 1,-20 1,14 1,5 1,-3 1,9 1,6 1,3 1,-3 1,-15 1,20 1,-15 1,6 1,-11 1,-12 1,-9 1,26 1,-9 1,7 1,10 1,-26 1,-2 1,21 1,1 1,-6 1,-3 1,-11 1,16 1,-7 1,13 1,5 1,-15 1,10 1,-2 1,5 1,9 1,-9 1,1 1,1 1,-13 1,4 1,4 1,10 1,0 1,11 1,-36 1,12 1,-18 1,13 1,-12 1,30 1,-5 1,-19 1,15 1,5 1,10 1,-9 1,-8 1,-2 1,8 1,-3 1,-8 1,-8 1,24 1,-19 1,5 1,12 1,-9 1,12 1,-23 1,20 1,-22 1,-2 1,5 1,12 1,-8 1,-7 1,27 1,-23 1,9 1,4 1,-7 1,9 1,3 1,-8 1,12 1,-17 1,-5 1,14 1,-12 1,14 1,-5 1,-4 1,11 1,0 1,-37 1,28 1,5 1,4 1,-11 1,-6 1,14 1,6 1,-29 1,6 1,10 1,-21 1,21 1,15 1,-20 1,13 1,-10 1,14 1,2 1,7 1,-13 1,11 1,-7 1,-9 1,21 1,-22 1,8 1,25 1,-17 1,-18 1,12 1,-8 1,4 1,-14 1,18 1,-18 1,20 1,0 1,6 1,14 1,-40 1,5 1,2 1,5 1,15 1,-12 1,-3 1,-5 1,5 1,2 1,4 1,-14 1,15 1,7 1,-2 1,-17 1,22 1,0 1,-5 1,-16 1,-2 1,16 1,-11 1,-3 1,23"/>
<path transform="translate(257.522,0) scale(0.38022,1)" vector-effect="non-scaling-stroke" fill="none" stroke="#EF4043" stroke-width="4" stroke-linejoin="bevel" d="M0,486l1,56 1,49 1,43 1,36 1,24 1,21 1,17 1,17 1,17 1,16 1,16 1,15 1,16 1,14 1,16 1,13 1,13 1,12 1,14 1,12 1,11 1,12 1,11 1,9 1,10 1,9 1,8 1,9 1,4 1,11 1,5 1,7 1,5 1,9 1,7 1,8 1,7 1,9 1,13 1,7 1,10 1,15 1,8 1,13 1,9 1,5 1,1 1,7 1,5 1,-1 1,5 1,5 1,-1 1,11 1,7 1,5 1,7 1,6 1,11 1,-1 1,4 1,8 1,-2 1,3 1,7 1,10 1,5 1,-4 1,2 1,11 1,5 1,4 1,7 1,7 1,-2 1,6 1,-5 1,2 1,11 1,5 1,4 1,2 1,4 1,3 1,-11 1,8 1,10 1,3 1,-10 1,18 1,-7 1,4 1,5 1,5 1,-11 1,17 1,-4 1,-3 1,5 1,-9 1,11 1,7 1,-3 1,4 1,3 1,2 1,8 1,-5 1,0 1,7 1,10 1,-13 1,6 1,-11 1,19 1,-3 1,5 1,-7 1,-5 1,13 1,0 1,-8 1,-3 1,13 1,-3 1,18 1,-19 1,2 1,3 1,-9 1,6 1,16 1,-10 1,-2 1,-4 1,12 1,1 1,-2 1,-4 1,5 1,1 1,-7 1,9 1,-17 1,5 1,7 1,1 1,-6 1,9 1,5 1,-4 1,-1 1,4 1,-2 1,-10 1,6 1,9 1,-14 1,7 1,-2 1,-3 1,-1 1,7 1,1 1,0 1,-10 1,7 1,4 1,4 1,-2 1,1 1,2 1,-2 1,-10 1,5 1,-4 1,-11 1,5 1,23 1,-20 1,-7 1,10 1,13 1,-9 1,2 1,-4 1,1 1,8 1,-2 1,-6 1,6 1,1 1,-8 1,3 1,0 1,-6 1,11 1,-8 1,-3 1,-6 1,2 1,17 1,-16 1,9 1,-5 1,6 1,0 1,-9 1,3 1,3 1,0 1,-1 1,-2 1,5 1,4 1,-4 1,-9 1,7 1,-2 1,2 1,8 1,-13 1,1 1,-5 1,3 1,-2 1,13 1,-8 1,-6 1,15 1,-20 1,13 1,0 1,-3 1,-5 1,0 1,-2 1,7 1,-20 1,11 1,4 1,-5 1,-8 1,9 1,-3 1,9 1,3 1,-8 1,-13 1,10 1,-5 1,10 1,6 1,-9 1,10 1,-4 1,-5 1,-11 1,6 1,-10 1,16 1,-7 1,8 1,-8 1,-15 1,17 1,1 1,5 1,-19 1,0 1,6 1,-8 1,-3 1,2 1,25 1,-23 1,-3 1,3 1,3 1,9 1,-3 1,-1 1,-6 1,0 1,-6 1,-7 1,26 1,-19 1,11 1,-10 1,1 1,-1 1,-9 1,9 1,4 1,3 1,-3 1,4 1,-6 1,-3 1,-16 1,11 1,17 1,-12 1,5 1,-9 1,-4 1,22 1,-15 1,9 1,-8 1,-8 1,-17 1,19 1,-14 1,-7 1,29 1,-5 1,-2 1,-6 1,-1 1,3 1,-3 1,-2 1,5 1,-29 1,29 1,-15 1,12 1,2 1,-18 1,13 1,-1 1,-14 1,0 1,5 1,-22 1,15 1,5 1,-7 1,-11 1,10 1,17 1,-3 1,-14 1,-8 1,7 1,0 1,-8 1,3 1,8 1,2 1,-33 1,32 1,-9 1,9 1,-12 1,4 1,11 1,-46 1,44 1,-15 1,-21 1,-9 1,29 1,-14 1,19 1,-8 1,-5 1,11 1,-9 1,5 1,0 1,-6 1,4 1,-1 1,-23 1,10 1,1 1,-3 1,-14 1,10 1,9 1,-3 1,13 1,-23 1,1 1,-3 1,2 1,-4 1,-14 1,23 1,6 1,0 1,-25 1,9 1,21 1,-22 1,4 1,-6 1,11 1,-1 1,14 1,-21 1,-2 1,-19 1,8 1,-5 1,4 1,-13 1,28 1,-27 1,14 1,-18 1,17 1,14 1,-30 1,13 1,-6 1,3 1,0 1,-13 1,4 1,-6 1,-4 1,-6 1,24 1,-21 1,15 1,-2 1,-21 1,24 1,-25 1,17 1,8 1,-28 1,-4 1,-2 1,38 1,-35 1,-13 1,24 1,-14 1,0 1,-14 1,-18 1,17 1,-6 1,-10 1,5 1,0 1,20 1,-4 1,-4 1,-16 1,-12 1,18 1,-1 1,5 1,-16 1,-4 1,3 1,-19 1,-1 1,16 1,-28 1,13 1,9 1,-9 1,0 1,-23 1,11 1,-4 1,10 1,-4 1,-7 1,23 1,-20 1,-13 1,-6 1,6 1,-9 1,28 1,-16 1,-14 1,-6 1,-8 1,9 1,20 1,-9 1,-14 1,1 1,-30 1,34 1,-16 1,19 1,-24 1,-6 1,7 1,-15 1,25 1,-17 1,-2 1,-3 1,-11 1,8 1,-6 1,19 1,-25 1,2 1,-13 1,-1 1,-2 1,20 1,-19 1,10 1,-18 1,-4 1,-23 1,35 1,15 1,-33 1,21 1,-10 1,-22 1,18 1,-25 1,7 1,19 1,-16 1,-19 1,34 1,-36 1,12 1,-4 1,1 1,-11 1,-11 1,46 1,-40 1,0 1,-22 1,33 1,15 1,1 1,18 1,-18 1,-16 1,-6 1,19 1,-21 1,3 1,-16 1,14 1,25 1,-28 1,6 1,-39 1,51 1,-14 1,14 1,-16 1,-15 1,-7 1,25 1,-8 1,-13 1,12 1,-8 1,18 1,-16 1,-11 1,15 1,-6 1,27 1,-26 1,-12 1,17 1,-3 1,7 1,-1 1,-17 1,13 1,-1 1,-15 1,9 1,10 1,-24 1,7 1,8 1,5 1,8 1,-25 1,22 1,5 1,12 1,-26 1,-7 1,-8 1,28 1,10 1,-26 1,15 1,6 1,2 1,-18 1,14 1,-9 1,-12 1,17 1,1 1,-17 1,19 1,21 1,-47 1,30 1,3 1,-11 1,4 1,-8 1,22 1,-31 1,11 1,-24 1,31 1,1 1,-28 1,11 1,19 1,-13 1,-10 1,-17 1,39 1,22 1,-32 1,12 1,0 1,-6 1,3 1,1 1,-13 1,46 1,3 1,-32 1,21 1,-35 1,9 1,19 1,-31 1,-1 1,23 1,-31 1,51 1,-13 1,-6 1,6 1,-20 1,0 1,25 1,2 1,-11 1,-2 1,-6 1,27 1,-38 1,9 1,5 1,-13 1,3 1,4 1,29 1,11 1,-19 1,-27 1,15 1,6 1,-1 1,-1 1,13 1,-33 1,19 1,11 1,7 1,-5 1,-3 1,-2 1,-7 1,11 1,-3 1,-6 1,26 1,0 1,-20 1,14 1,8 1,-12 1,-2 1,6 1,-29 1,4 1,27 1,-3 1,15 1,-25 1,22 1,0 1,13 1,-37 1,7 1,9 1,0 1,-17 1,6 1,-9 1,49 1,-32 1,2 1,-8 1,9 1,11 1,-15 1,4 1,30 1,-16 1,-9 1,-9 1,6 1,-10 1,14 1,-12 1,-1 1,5 1,-9 1,17 1,32 1,-42 1,-14 1,35 1,-14 1,28 1,-21 1,7 1,-23 1,-11 1,19 1,12 1,-21 1,-10 1,14 1,2 1,2 1,4 1,33 1,-32 1,-8 1,-7 1,25 1,-32 1,41 1,-20 1,-20 1,23 1,-4 1,18 1,-37 1,24 1,-3 1,12 1,-27 1,5 1,37 1,-19 1,-28 1,25 1,-15 1,1 1,-7 1,30 1,-21 1,10 1,-1 1,-22 1,11 1,20 1,-31 1,24 1,-4 1,10 1,1 1,1 1,-10 1,3 1,-13 1,2 1,20 1,-20 1,22 1,-1 1,-24 1,18 1,-18 1,16 1,-16 1,16 1,-3 1,-16 1,42 1,-15 1,-34 1,26 1,-10 1,33 1,-28 1,6 1,-8 1,11 1,-16 1,-4 1,5 1,1 1,14 1,-7 1,-7 1,0 1,-6 1,14 1,-30 1,25 1,19 1,-21 1,-4 1,10 1,-14 1,3 1,19 1,-17 1,35 1,-20 1,-8 1,-7 1,5 1,-28 1,34 1,9 1,-4 1,-14 1,14 1,1 1,-11 1,6 1,10 1,-8 1,-12 1,6 1,1 1,-23 1,23 1,-4 1,-27 1,6 1,47 1,-23 1,17 1,-24 1,26 1,-13 1,-17 1,13 1,17 1,11 1,-25 1,-13 1,-6 1,21 1,5 1,-13 1,-3 1,12 1,-5 1,-1 1,-26 1,16 1,30 1,-26 1,33 1,-28 1,-9 1,8 1,4 1,-18 1,13 1,-10 1,26 1,-26 1,7 1,-22 1,2 1,17 1,-11 1,8 1,7 1,4 1,-26 1,16 1,11 1,-18 1,-9 1,9 1,31 1,-22 1,21 1,-25 1,20 1,-36 1,16 1,5 1,22 1,-17 1,8 1,-21 1,0 1,23 1,2 1,-2 1,-1 1,-23 1,36 1,-27 1,15 1,-7 1,-34 1,-3 1,5 1,21 1,16 1,-18 1,15 1,-29 1,9 1,-4 1,13 1,-16 1,15 1,9 1,-14 1,-6 1,7 1,-11 1,3 1,26 1,-6 1,-24 1,16 1,10 1,5 1,-2 1,5 1,-14 1,1 1,-3 1,19 1,-3 1,13 1,-9 1,-26 1,-9 1,2 1,7 1,21 1,-28 1,-8 1,26 1,13 1,0 1,12 1,-23 1,-7 1,4 1,-14 1,9 1,27 1,11 1,-11 1,-13 1,-7 1,7 1,-29 1,33 1,3 1,-12 1,2 1,-23 1,34 1,0 1,-48 1,29 1,13 1,18 1,-34 1,11 1,21 1,-13 1,-10 1,-3 1,7 1,-11 1,25 1,-26 1,20 1,5 1,4 1,-15 1,-1 1,5 1,-3 1,14 1,-17 1,28 1,12 1,-47 1,15 1,-21 1,26 1,-5 1,-8 1,-11 1,14 1,28 1,-6 1,-16 1,-14 1,8 1,-10 1,-8 1,6 1,21 1,-4 1,-1 1,-18 1,-4 1,33 1,-18 1,21 1,-26 1,23 1,-9 1,-9 1,0 1,32 1,-13 1,-16 1,6 1,-24 1,45 1,-4 1,-24 1,12 1,-44 1,52 1,-7 1,-2 1,8 1,-7 1,-17 1,4 1,8 1,15 1,-12 1,-9 1,15 1,-22 1,46 1,-24 1,-17 1,16 1,13 1,-6 1,21 1,-47 1,42 1,-22 1,13 1,12 1,-39 1,-3 1,15 1,-17 1,-4 1,29 1,15 1,-22 1,14 1,44 1,-45 1,-8 1,2 1,9 1,-9 1,14 1,-6 1,10 1,-10 1,-3 1,-11 1,-6 1,16 1,-1 1,9 1,-4 1,-4 1,37 1,-26 1,12 1,-30 1,28 1,3 1,-10 1,-18 1,30 1,-27 1,-11 1,-1 1,24 1,-8 1,18 1,-1 1,9 1,-13 1,-3 1,-1 1,-11 1,0 1,1 1,14 1,-15 1,11 1,16 1,-47 1,21 1,-2 1,14 1,-20 1,11 1,41 1,-50 1,18 1,4 1,-6 1,-12 1,30 1,-40 1,13 1,11 1,-6 1,25 1,-20 1,30 1,-26 1,22 1,-15 1,-10 1,0 1,18 1,-21 1,7 1,-10 1,-17 1,35 1,2 1,-25 1,23 1,-10 1,-22 1,13 1,22 1,5 1,-9 1,33 1,-33 1,-15 1,-10 1,41 1,-27 1,2 1,-6 1,0 1,6 1,12 1,1 1,-3 1,8 1,-19 1,-8 1,14 1,-28 1,40 1,-4 1,0 1,-22 1,8 1,7 1,-14 1,-2 1,12 1,5 1,-11 1,23 1,16 1,-22 1,-11 1,-2 1,27 1,-18 1,4 1,-6 1,-11 1,29 1,-24 1,5 1,-32 1,59 1,-19 1,-12 1,-10 1,2 1,-15 1,30 1,-19 1,18 1,0 1,20 1,-23 1,1 1,2 1,-15 1,5 1,8 1,11 1,-6 1,-14 1,20 1,-22 1,-15 1,42 1,-22 1,-6 1,-11 1,11 1,29 1,-24 1,31 1,-30 1,15 1,-15 1,-7 1,0 1,2 1,-13 1,-1 1,22 1,12 1,-15 1,-2 1,-13 1,28 1,-2 1,-30 1,17 1,-6 1,-16 1,42 1,-6 1,-12 1,14 1,-26 1,10 1,15 1,-23 1,8 1,-18 1,22 1,6 1,-29 1,2 1,9 1,20 1,-26 1,-5 1,9 1,17 1,-37 1,18 1,20 1,-18 1,-4 1,15 1,-29 1,45 1,-22 1,-12 1,6 1,-3 1,-3 1,-13 1,13 1,-21 1,42 1,-34 1,5 1,-1 1,20 1,-13 1,22 1,-26 1,8 1,-3 1,-4 1,20 1,1 1,1 1,-37 1,24 1,-21 1,0 1,-9 1,12 1,21 1,10 1,5 1,-36 1,4 1,11 1,-1 1,1 1,-27 1,22 1,10 1,-4 1,-5 1,-9 1,9 1,23 1,-15 1,8 1,8 1,-37 1,24 1,-3 1,12 1,-22 1,1 1,-6 1,11 1,-6 1,2 1,6 1,-9 1,-8 1,7 1,-2 1,14 1,11 1,-22 1,-28 1,41 1,-9 1,-12 1,10 1,29 1,-46 1,5 1,15 1,-42 1,36 1,20 1,-6 1,-2 1,-10 1,3 1,39 1,-34 1,16 1,-36 1,21 1,2 1,-3 1,-32 1,24 1,26 1,-12 1,-18 1,22 1,-37 1,33 1,-3 1,-13 1,-5 1,-9 1,20 1,27 1,-12 1,-6 1,7 1,-20 1,15 1,-47 1,33 1,1 1,5 1,-1 1,11 1,-17 1,22 1,-16 1,15 1,-10 1,11 1,-5 1,-15 1,11 1,-20 1,19 1,5 1,-9 1,2 1,16 1,3 1,4 1,-27 1,2 1,17 1,2 1,-37 1,52 1,-11 1,-32 1,33 1,-21 1,5 1,-12 1,3 1,6 1,7 1,-16 1,15 1,-9 1,3 1,-4 1,4 1,30 1,-43 1,5 1,17 1,-6 1,-7 1,20 1,-21 1,17 1,13 1,-5 1,-11 1,4 1,3 1,6 1,-21 1,31 1,-7 1,15 1,-13 1,3 1,-54 1,34 1,32 1,-20 1,-11 1,16 1,-8 1,5 1,-15 1,17 1,14 1,-17 1,3 1,-15 1,16 1,-12 1,-12 1,13 1,2 1,12 1,5 1,-15 1,-2 1,14 1,-21 1,8 1,2 1,1 1,-6 1,31 1,-9 1,-15 1,-17 1,13 1,15 1,-34 1,61 1,-35 1,1 1,10 1,-28 1,20 1,0 1,10 1,-23 1,22 1,8 1,-11 1,-12 1,-3 1,-13 1,17 1,15 1,14 1,-6 1,3 1,-23 1,1 1,-15 1,12 1,-6 1,13 1,13 1,-11 1,-2 1,14 1,12 1,-6 1,-37 1,47 1,-30 1,-13 1,15 1,19 1,-49 1,54 1,-14 1,5 1,-26 1,12 1,-8 1,32 1,-26 1,16 1,-14 1,-13 1,35 1,5 1,5 1,-28 1,9 1,9 1,-4 1,-2 1,30 1,-37 1,18 1,-19 1,27 1,-22 1,-10 1,25 1,-9 1,-6 1,3 1,-5 1,16 1,-2 1,19 1,-32 1,29 1,-11 1,-26 1,40 1,-44 1,31 1,-32 1,30 1,-8 1,2 1,-22 1,16 1,27 1,-7 1,-9 1,0 1,-7 1,29 1,-20 1,16 1,-35 1,0 1,40 1,-30 1,10 1,9 1,7 1,-4 1,0 1,15 1,-19 1,10 1,-12 1,2 1,24 1,-29 1,-31 1,36 1,2 1,23 1,-30 1,-11 1,18 1,24 1,-30 1,23 1,-11 1,3 1,-20 1,12 1,-12 1,12 1,-10 1,25 1,-22 1,4 1,-27 1,17 1,48 1,-39 1,-17 1,22 1,-2 1,-4 1,3 1,-2 1,20 1,-30 1,20 1,9 1,-24 1,44 1,-30 1,-2 1,-6 1,19 1,-33 1,30 1,23 1,-25 1,7 1,-24 1,24 1,-21 1,4 1,7 1,26 1,-34 1,-18 1,29 1,9 1,-2 1,-5 1,16 1,-7 1,0 1,-17 1,-14 1,42 1,-33 1,29 1,-1 1,-32 1,8 1,15 1,7 1,-26 1,9 1,-9 1,-3 1,18 1,-7 1,-21 1,33 1,-10 1,0 1,-13 1,29 1,-6 1,0 1,-5 1,7 1,17 1,-19 1,1 1,-10 1,16 1,-12 1,-7 1,26 1,-17 1,-10 1,3 1,2 1,-7 1,35 1,-12 1,-26 1,35 1,-21 1,9 1,-9 1,11 1,0 1,5 1,2 1,-47 1,28 1,7 1,-3 1,-17 1,15 1,3 1,-26 1,17 1,21 1,-20 1,8 1,3 1,7 1,3 1,4 1,-12 1,1 1,-4 1,4 1,-4 1,12 1,0 1,-29 1,-12 1,37 1,-13 1,-14 1,34 1,8 1,-37 1,3 1,4 1,-2 1,9 1,-14 1,15 1,-5 1,20 1,-16 1,13 1,9 1,-14 1,2 1,-16 1,7 1,31 1,-13 1,-18 1,-6 1,3 1,17 1,-43 1,31 1,-21 1,37 1,-39 1,32 1,-17 1,4 1,23 1,-23 1,9 1,-4 1,-21 1,15 1,13 1,-8 1,-2 1,-13 1,31 1,-29 1,32 1,-22 1,7 1,-30 1,21 1,-15 1,14 1,16 1,-12 1,-2 1,10 1,-30 1,18 1,-10 1,23 1,-25 1,32 1,6 1,-57 1,26 1,-20 1,39 1,-29 1,21 1,-5 1,-17 1,-9 1,36 1,-23 1,11 1,16 1,-20 1,-4 1,-10 1,20 1,-18 1,-12 1,14 1,-1 1,-14 1,19 1,14 1,-3 1,19 1,-12 1,-13 1,-32 1,31 1,14 1,-21 1,23 1,-33 1,16 1,8 1,11 1,-24 1,27 1,-32 1,-21 1,23 1,21 1,-25 1,27 1,-26 1,29 1,-57 1,62 1,-61 1,27 1,-16 1,21 1,-8 1,-1 1,12 1,5 1,-19 1,22 1,-42 1,9 1,-5 1,26 1,6 1,-20 1,-3 1,-8 1,26 1,6 1,-24 1,5 1,-3 1,5 1,7 1,-38 1,23 1,19 1,-24 1,30 1,2 1,-33 1,1 1,30 1,-42 1,8 1,-8 1,23 1,5 1,1 1,-3 1,-24 1,36 1,-17 1,-5 1,29 1,-22 1,3 1,7 1,16 1,-29 1,10 1,-43 1,19 1,43 1,-1 1,-31 1,-10 1,-7 1,2 1,9 1,-17 1,23 1,-1 1,-15 1,-1 1,1 1,10 1,3 1,11 1,-32 1,19 1,5 1,4 1,8 1,-18 1,23 1,15 1,-26 1,15 1,-8 1,-7 1,-10 1,7 1,25 1,-28 1,-12 1,4 1,18 1,-20 1,22 1,-3 1,-7 1,20 1,-41 1,10 1,6 1,8 1,-25 1,11 1,26 1,-24 1,19 1,-16 1,-8 1,18 1,11 1,-19 1,-17 1,7 1,5 1,3 1,-10 1,23 1,-24 1,28 1,-28 1,1 1,30 1,-6 1,-14 1,-4 1,6 1,4 1,3 1,11 1,-26 1,12 1,1 1,-20 1,36 1,7 1,-23 1,-25 1,14 1,24 1,-41 1,1 1,21 1,14 1,5 1,3 1,-47 1,25 1,-5 1,0 1,24 1,-4 1,-16 1,14 1,0 1,15 1,-25 1,16 1,-18 1,16 1,-6 1,4 1,-3 1,21 1,-30 1,-2 1,5 1,14 1,4 1,-10 1,-8 1,4 1,-4 1,17 1,-7 1,4 1,-2 1,1 1,14 1,-21 1,12 1,1 1,-15 1,32 1,-19 1,-17 1,28 1,-5 1,3 1,-12 1,-2 1,8 1,-20 1,21 1,-1 1,11 1,-14 1,11 1,-26 1,9 1,21 1,10 1,-7 1,-32 1,7 1,6 1,25 1,-24 1,11 1,4 1,0 1,-8 1,7 1,7 1,-9 1,-2 1,11 1,10 1,13 1,-48 1,19 1,-2 1,-16 1,10 1,-5 1,-4 1,5 1,16 1,-22 1,7 1,5 1,-11 1,-4 1,-5 1,11 1,29 1,-41 1,33 1,-23 1,0 1,22 1,-3 1,1 1,-8 1,11 1,-20 1,13 1,8 1,-13 1,-11 1,33 1,-25 1,-10 1,22 1,8 1,-9 1,-23 1,16 1,4 1,4 1,-27 1,2 1,20 1,-2 1,6 1,10 1,-33 1,4 1,7 1,29 1,-22 1,16 1,-43 1,35 1,10 1,7 1,-27 1,37 1,-36 1,30 1,5 1,-23 1,-16 1,48 1,-23 1,-20 1,23 1,-20 1,17 1,-16 1,-15 1,39 1,-17 1,7 1,4 1,-3 1,-7 1,15 1,3 1,-4 1,-7 1,5 1,20 1,-3 1,-19 1,12 1,0 1,1 1,-7 1,7 1,-11 1,14 1,-1 1,2 1,0 1,-1 1,-17 1,-5 1,18 1,-7 1,15 1,-17 1,2 1,-11 1,16 1,-3 1,20 1,-13 1,17 1,-27 1,-11 1,35 1,-7 1,14 1,-28 1,-14 1,44 1,-17 1,-10 1,35 1,-26 1,-11 1,16 1,-12 1,-3 1,16 1,-4 1,-3 1,1 1,-16 1,27 1,16 1,-21 1,13 1,10 1,-28 1,-6 1,-3 1,6 1,17 1,-12 1,17 1,-23 1,30 1,-25 1,3 1,2 1,-3 1,1 1,9 1,-8 1,7 1,-16 1,1 1,-8 1,27 1,-19 1,16 1,-4 1,1 1,-5 1,11 1,-1 1,15 1,-24 1,-1 1,-11 1,44 1,-37 1,20 1,-1 1,-24 1,7 1,18 1,-10 1,-15 1,18 1,17 1,-14 1,3 1,9 1,11 1,-26 1,-8 1,7 1,-5 1,-11 1,15 1,-10 1,28 1,-17 1,-31 1,20 1,18 1,-12 1,-3 1,4 1,-4 1,19 1,-14 1,-5 1,22 1,-25 1,18 1,-16 1,8 1,-1 1,-8 1,8 1,26 1,-33 1,40 1,-14 1,9 1,-26 1,21 1,-11 1,23 1,-31 1,22 1,-23 1,26 1,-23 1,-9 1,-3 1,10 1,28 1,-36 1,7 1,8 1,2 1,3 1,18 1,-23 1,-15 1,28 1,-15 1,3 1,5 1,19 1,-5 1,-14 1,-5 1,10 1,-15 1,-12 1,14 1,21 1,-21 1,2 1,26 1,0 1,0 1,-28 1,16 1,11 1,-3 1,-18 1,2 1,-6 1,3 1,11 1,0 1,-15 1,19 1,-5 1,14 1,-23 1,9 1,-30 1,38 1,-3 1,4 1,-10 1,0 1,-1 1,17 1,-28 1,11 1,9 1,-12 1,-7 1,8 1,8 1,16 1,-26 1,-20 1,39 1,-12 1,8 1,-9 1,1 1,-23 1,30 1,-20 1,22 1,-32 1,38 1,-16 1,-27 1,30 1,0 1,0 1,-15 1,42 1,-34 1,19 1,-43 1,38 1,-1 1,-6 1,15 1,-22 1,13 1,-7 1,5 1,-16 1,20 1,-1 1,-3 1,1 1,-9 1,-2 1,5 1,7 1,-19 1,13 1,21 1,-10 1,-20 1,26 1,-35 1,18 1,16 1,-5 1,-4 1,-17 1,-7 1,26 1,-3 1,17 1,-27 1,-6 1,6 1,-15 1,18 1,3 1,-1 1,24 1,1 1,-27 1,-2 1,22 1,-3 1,-27 1,6 1,-1 1,-6 1,9 1,-8 1,24 1,-3 1,-27 1,13 1,1 1,24 1,-24 1,18 1,9 1,-30 1,17 1,-5 1,10 1,-27 1,12 1,-16 1,29 1,-32 1,24 1,-20 1,10 1,0 1,10 1,6 1,8 1,2 1,-16 1,-13 1,28 1,-30 1,15 1,-8 1,1 1,10 1,-16 1,12 1,1 1,13 1,1 1,-4 1,-8 1,20 1,-9 1,-27 1,19 1,2 1,-16 1,14 1,-7 1,-7 1,11 1,-8 1,-7 1,15 1,-22 1,36 1,-18 1,5 1,11 1,0 1,-15 1,7 1,8 1,5 1,-26 1,13 1,-16 1,2 1,10 1,-2 1,-10 1,2 1,10 1,-16 1,19 1,-16 1,31 1,-15 1,7 1,-13 1,17 1,-7 1,3 1,-7 1,6 1,-9 1,9 1,-11 1,0 1,5 1,0 1,-2 1,-8 1,6 1,14 1,-9 1,2 1,-10 1,23 1,-19 1,9 1,-7 1,15 1,-33 1,-6 1,20 1,-25 1,20 1,1 1,5 1,11 1,-23 1,22 1,9 1,4 1,-32 1,9 1,27 1,-34 1,25 1,-9 1,2 1,-26 1,3 1,7 1,17 1,3 1,-19 1,13 1,-2 1,-13 1,-1 1,-10 1,9 1,4 1,24 1,-5 1,-12 1,6 1,-13 1,-18 1,30 1,4 1,-16 1,24 1,-2 1,-3 1,-31 1,22 1,7 1,-17 1,4 1,16 1,15 1,-15 1,-6 1,-9 1,-7 1,3 1,15 1,-11 1,22 1,-31 1,2 1,13 1,3 1,-1 1,-14 1,4 1,20 1,-15 1,-1 1,13 1,-3 1,-4 1,19 1,-35 1,20 1,-11 1,18 1,-22 1,18 1,-12 1,34 1,-26 1,22 1,-33 1,1 1,11 1,-24 1,9 1,28 1,-4 1,-16 1,16 1,-8 1,0 1,-16 1,22 1,-18 1,24 1,-29 1,41 1,-37 1,-8 1,3 1,17 1,-1 1,-11 1,17 1,13 1,-21 1,8 1,1 1,0 1,-30 1,38 1,-18 1,2 1,12 1,-44 1,40 1,-6 1,16 1,-15 1,11 1,-3 1,-26 1,13 1,-8 1,8 1,-10 1,-7 1,16 1,-2 1,9 1,14 1,-24 1,2 1,16 1,-2 1,-30 1,18 1,-18 1,8 1,4 1,4 1,-2 1,6 1,1 1,15 1,-9 1,-22 1,28 1,-12 1,-17 1,2 1,12 1,0 1,3 1,-21 1,13 1,28 1,-44 1,5 1,16 1,2 1,-10 1,9 1,-3 1,-9 1,10 1,-4 1,8 1,4 1,-18 1,9 1,-11 1,8 1,5 1,7 1,-17 1,16 1,-8 1,-2 1,0 1,-4 1,11 1,-18 1,19 1,-11 1,23 1,-23 1,10 1,4 1,1 1,9 1,1 1,-20 1,-4 1,22 1,-12 1,-6 1,2 1,10 1,-1 1,-34 1,16 1,3 1,-6 1,25 1,1 1,-16 1,18 1,-19 1,19 1,-6 1,-7 1,4 1,-12 1,19 1,-17 1,11 1,-16 1,1 1,10 1,0 1,13 1,-16 1,6 1,0 1,19 1,-21 1,-15 1,-4 1,12 1,5 1,-15 1,0 1,2 1,11 1,7 1,-16 1,-1 1,24 1,5 1,-14 1,-12 1,-1 1,15 1,-28 1,2 1,29 1,-28 1,8 1,32 1,-29 1,21 1,-19 1,-9 1,18 1,-6 1,10 1,-26 1,23 1,-3 1,6 1,-6 1,-14 1,26 1,-4 1,0 1,-4 1,-2 1,-11 1,-14 1,2 1,16 1,-24 1,19 1,17 1,-21 1,33 1,-41 1,27 1,-30 1,26 1,15 1,-23 1,-11 1,2 1,20 1,3 1,-6 1,-10 1,-7 1,3 1,-2 1,-7 1,31 1,2 1,1 1,4 1,-27 1,-14 1,24 1,-6 1,-10 1,18 1,-10 1,13 1,-3 1,-15 1,10 1,-6 1,10 1,-5 1,-10 1,16 1,-8 1,1 1,3 1,24 1,-21 1,-6 1,-5 1,-12 1,19 1,0 1,-6 1,14 1,-3 1,3 1,-11 1,20 1,-10 1,-14 1,7 1,12 1,-19 1,22 1,-19 1,-16 1,29 1,-14 1,6 1,-2 1,14 1,-13 1,10 1,-19 1,10 1,-7 1,6 1,25 1,-34 1,14 1,-9 1,9 1,-14 1,3 1,-14 1,34 1,-13 1,2 1,-18 1,32 1,-4 1,-17 1,7 1,-6 1,14 1,-36 1,27 1,1 1,7 1,-22 1,4 1,-4 1,23 1,-6 1,7 1,-2 1,-2 1,-21 1,11 1,18 1,-11 1,-15 1,1 1,5 1,2 1,4 1,-1 1,5 1,7 1,-5 1,-19 1,35 1,-26 1,-5 1,20 1,4 1,-10 1,9 1,-17 1,0 1,-10 1,24 1,-10 1,17 1,-22 1,16 1,-11 1,18 1,-19 1,16 1,-28 1,7 1,-1 1,17 1,-35 1,10 1,16 1,-3 1,0 1,5 1,-8 1,10 1,8 1,-26 1,25 1,-23 1,-6 1,13 1,0 1,4 1,-16 1,12 1,-6 1,19 1,-12 1,-8 1,-4 1,11 1,22 1,-41 1,11 1,22 1,-3 1,-13 1,1 1,-4 1,-5 1,7 1,9 1,-2 1,-21 1,15 1,-5 1,21 1,-29 1,2 1,-2 1,55 1,-20 1,-22 1,13 1,-30 1,17 1,28 1,-28 1,-13 1,8 1,0 1,5 1,0 1,-3 1,-12 1,17 1,0 1,-18 1,24 1,-8 1,22 1,-14 1,-13 1,-3 1,30 1,-6 1,-7 1,3 1,-25 1,29 1,-15 1,1 1,13 1,-6 1,-23 1,25 1,-10 1,16 1,-12 1,5 1,-17 1,1 1,-3 1,17 1,-14 1,7 1,28 1,-14 1,18 1,-35 1,-2 1,5 1,13 1,-17 1,33 1,-33 1,26 1,-28 1,2 1,14 1,-5 1,-4 1,-1 1,8 1,-10 1,28 1,-12 1,-3 1,-18 1,44 1,-29 1,-11 1,-3 1,-19 1,21 1,-16 1,6 1,32 1,-19 1,-6 1,29 1,-27 1,31 1,-27 1,8 1,-9 1,-2 1,9 1,14 1,-15 1,-13 1,-8 1,34 1,-22 1,-4 1,17 1,1 1,1 1,-14 1,-15 1,29 1,-7 1,0 1,-10 1,16 1,-5 1,2 1,11 1,-17 1,-1 1,0 1,-15 1,15 1,15 1,-2 1,-16 1,-7 1,19 1,-5 1,1 1,16 1,-20 1,15 1,-9 1,6 1,-18 1,8 1,4 1,-5 1,2 1,-4 1,24 1,-46 1,35 1,-8 1,-14 1,5 1,-10 1,25 1,1 1,-3 1,14 1,-39 1,5 1,10 1,13 1,-3 1,-17 1,12 1,9 1,-26 1,23 1,4 1,2 1,0 1,-16 1,-21 1,9 1,5 1,8 1,11 1,-8 1,3 1,13 1,-35 1,22 1,4 1,8 1,10 1,-13 1,-24 1,19 1,-17 1,15 1,-12 1,1 1,9 1,-10 1,8 1,-2 1,7 1,-13 1,-6 1,-7 1,26 1,2 1,-20 1,-9 1,29 1,-7 1,8 1,-8 1,14 1,-10 1,-5 1,12 1,-25 1,13 1,2 1,-5 1,7 1,-8 1,-15 1,42 1,-23 1,-3 1,-13 1,17 1,-3 1,-14 1,30 1,-3 1,-31 1,30 1,-18 1,18 1,-3 1,6 1,-6 1,11 1,-21 1,0 1,0 1,-1 1,30 1,-23 1,13 1,-12 1,-4 1,12 1,-18 1,15 1,7 1,-13 1,0 1,-6 1,13 1,2 1,2 1,-17 1,5 1,-10 1,14 1,4 1,-7 1,-3 1,6 1,-1 1,2 1,-14 1,-1 1,4 1,-5 1,14 1,19 1,-22 1,-20 1,10 1,-2 1,17 1,-3 1,17 1,-19 1,-3 1,16 1,-25 1,11 1,13 1,-10 1,2 1,-16 1,-7 1,14 1,15 1,-17 1,-7 1,-5 1,39 1,-39 1,11 1,-7 1,21 1,-27 1,3 1,19 1,-21 1,24 1,8 1,-12 1,-31 1,22 1,4 1,19 1,2 1,-6 1,-11 1,-3 1,1 1,-6 1,2 1,-2 1,7 1,15 1,-31 1,37 1,-14 1,3 1,-11 1,0 1,15 1,-19 1,-6 1,10 1,-6 1,22 1,-14 1,5 1,-6 1,0 1,13 1,-10 1,14 1,-38 1,26 1,5 1,-11 1,-20 1,20 1,-3 1,19 1,-2 1,-1 1,-9 1,1 1,-1 1,10 1,-12 1,7 1,3 1,-11 1,3 1,-10 1,-5 1,6 1,-2 1,-9 1,19 1,8 1,1 1,7 1,-20 1,28 1,-29 1,6 1,13 1,-34 1,23 1,0 1,20 1,-31 1,9 1,-31 1,28 1,-18 1,4 1,21 1,-15 1,-7 1,23 1,-7 1,-6 1,-13 1,9 1,-7 1,12 1,-1 1,2 1,-6 1,4 1,14 1,-16 1,16 1,-1 1,-1 1,-29 1,30 1,-8 1,4 1,-9 1,0 1,-9 1,-2 1,18 1,-14 1,4 1,17 1,4 1,-16 1,-22 1,27 1,7 1,-10 1,-5 1,-8 1,15 1,29 1,-24 1,-11 1,-7 1,16 1,-21 1,10 1,3 1,0 1,8 1,-6 1,-13 1,-10 1,25 1,-32 1,15 1,39 1,-32 1,25 1,-24 1,12 1,4 1,5 1,-17 1,-10 1,13 1,-17 1,0 1,29 1,-21 1,24 1,-1 1,-23 1,5 1,2 1,15 1,-12 1,14 1,-14 1,14 1,-15 1,17 1,-5 1,6 1,-4 1,-31 1,41 1,-20 1,-18 1,9 1,-3 1,18 1,-12 1,4 1,11 1,-29 1,1 1,19 1,-20 1,27 1,-23 1,2 1,20 1,9 1,-18 1,-5 1,-11 1,12 1,-1 1,-8 1,7 1,16 1,-9 1,-31 1,48 1,-6 1,-27 1,29 1,-28 1,20 1,-4 1,-13 1,15 1,-3 1,1 1,-17 1,24 1,-12 1,19 1,-6 1,-2 1,-20 1,35 1,-19 1,-4 1,-7 1,7 1,13 1,-36 1,28 1,-19 1,4 1,15 1,1 1,-9 1,7 1,13 1,-16 1,-13 1,8 1,0 1,20 1,-20 1,-15 1,4 1,29 1,-8 1,-19 1,-3 1,25 1,-24 1,12 1,12 1,-2 1,-18 1,17 1,-25 1,21 1,-10 1,-15 1,37 1,-17 1,7 1,-10 1,38 1,-15 1,-20 1,25 1,-12 1,8 1,-42 1,27 1,-16 1,11 1,-3 1,8 1,-27 1,19 1,-12 1,29 1,-9 1,4 1,5 1,-3 1,-16 1,8 1,-23 1,17 1,1 1,1 1,7 1,-4 1,20 1,-8 1,-11 1,-4 1,-2 1,20 1,-23 1,20 1,-24 1,12 1,-13 1,20 1,-3 1,-8 1,-13 1,-13 1,25 1,18 1,-23 1,14 1,-13 1,18 1,-18 1,25 1,-25 1,7 1,24 1,-17 1,-2 1,-2 1,6 1,-16 1,-2 1,31 1,-17 1,2 1,-3 1,2 1,12 1,-11 1,-3 1,-6 1,9 1,11 1,-19 1,1 1,19 1,-11 1,10 1,-24 1,3 1,-3 1,16 1,-22 1,24 1,-7 1,6 1,4 1,2 1,-38 1,34 1,6 1,-18 1,13 1,-1 1,2 1,-21 1,27 1,-30 1,22 1,1 1,-1 1,-1 1,13 1,-9 1,-4 1,9 1,-30 1,12 1,-9 1,-1 1,26 1,-10 1,16 1,-10 1,-43 1,30 1,-2 1,-2 1,27 1,-26 1,19 1,-14 1,0 1,-6 1,27 1,-20 1,-12 1,14 1,-18 1,32 1,-30 1,6 1,11 1,-15 1,29 1,-17 1,1 1,0 1,-1 1,2 1,21 1,-25 1,-9 1,26 1,-3 1,-17 1,0 1,20 1,-13 1,-2 1,-1 1,-6 1,14 1,-23 1,3 1,-8 1,14 1,-6 1,16 1,-12 1,7 1,9 1,-6 1,-9 1,2 1,-3 1,9 1,1 1,14 1,-6 1,-5 1,-11 1,11 1,-16 1,-10 1,28 1,4 1,-47 1,48 1,-31 1,7 1,18 1,-8 1,1 1,-12 1,28 1,-17 1,0 1,21 1,-18 1,6 1,3 1,-9 1,-16 1,23 1,-15 1,23 1,-2 1,-49 1,60 1,-39 1,18 1,2 1,-6 1,5 1,12 1,-12 1,-6 1,3 1,-1 1,-1 1,1 1,-1 1,12 1,-18 1,-4 1,27 1,-17 1,18 1,-14 1,-11 1,15 1,17 1,-31 1,5 1,-14 1,21 1,-5 1,27 1,-51 1,32 1,-5 1,6 1,-10 1,6 1,-10 1,2 1,15 1,-39 1,42 1,-21 1,7 1,15 1,0 1,-12 1,-3 1,-17 1,18 1,-4 1,-3 1,-7 1,12 1,6 1,-13 1,-12 1,25 1,-18 1,4 1,3 1,-2 1,-7 1,3 1,9 1,-5 1,7 1,8 1,4 1,-25 1,4 1,4 1,0 1,7 1,-3 1,-22 1,3 1,21 1,10 1,0 1,-8 1,-1 1,-19 1,-3 1,17 1,33 1,-20 1,-16 1,-4 1,2 1,-2 1,23 1,-27 1,18 1,-12 1,10 1,9 1,-11 1,0 1,-10 1,1 1,27 1,-26 1,5 1,-11 1,18 1,-15 1,13 1,-7 1,-4 1,13 1,4 1,-22 1,25 1,-9 1,7 1,3 1,-18 1,2 1,6 1,10 1,-40 1,46 1,-21 1,-17 1,17 1,-9 1,33 1,-27 1,-2 1,3 1,-7 1,13 1,5 1,-5 1,-12 1,20 1,-11 1,-2 1,15 1,-10 1,-34 1,38 1,-28 1,8 1,10 1,6 1,2 1,-9 1,14 1,-5 1,-8 1,-15 1,24 1,-19 1,4 1,3 1,-1 1,-19 1,26 1,-11 1,3 1,17 1,11 1,-17 1,-11 1,1 1,21 1,-13 1,-14 1,40 1,-17 1,-16 1,0 1,-11 1,-6 1,26 1,-12 1,25 1,-22 1,6 1,11 1,-26 1,22 1,-25 1,47 1,-43 1,5 1,39 1,-34 1,14 1,-9 1,-25 1,27 1,-12 1,31 1,-33 1,33 1,-24 1,9 1,25 1,-35 1,1 1,12 1,-20 1,22 1,0 1,-9 1,-21 1,-6 1,17 1,4 1,-22 1,24 1,4 1,0 1,15 1,-21 1,9 1,-13 1,21 1,-14 1,1 1,3 1,-25 1,35 1,-18 1,5 1,0 1,33 1,-31 1,-6 1,6 1,-2 1,-1 1,6 1,10 1,-25 1,18 1,-6 1,2 1,11 1,-13 1,-29 1,38 1,1 1,0 1,-16 1,28 1,-22 1,-8 1,33 1,-52 1,37 1,-2 1,-10 1,-5 1,27 1,-3 1,5 1,-18 1,-1 1,1 1,-16 1,32 1,-2 1,-5 1,-25 1,14 1,7 1,2 1,-15 1,17 1,12 1,-35 1,10 1,-11 1,-2 1,10 1,11 1,2 1,-7 1,13 1,-4 1,-13 1,13 1,-6 1,0 1,-14 1,20 1,-15 1,25 1,-19 1,11 1,-13 1,-15 1,21 1,-13 1,11 1,-4 1,29 1,-27 1,2 1,-1 1,22 1,-17 1,-2 1,19 1,-3 1,-18 1,-16 1,26 1,-8 1,-9 1,15 1,-2 1,-16 1,22 1,-5 1,12 1,-18 1,19 1,-16 1,-2 1,4 1,5 1,-17 1,25 1,-11 1,8 1,-9 1,4 1,-3 1,-19 1,-2 1,14 1,27 1,-36 1,18 1,8 1,-18 1,12 1,-5 1,26 1,-15 1,-28 1,13 1,-13 1,12 1,-7 1,-1 1,28 1,-12 1,1 1,8 1,2 1,-12 1,-25 1,34 1,-7 1,-28 1,17 1,-8 1,-1 1,24 1,-19 1,6 1,-6 1,22 1,-31 1,15 1,12 1,-11 1,-9 1,-8 1,32 1,-7 1,-3 1,-4 1,10 1,-3 1,-24 1,17 1,12 1,5 1,-44 1,35 1,11 1,-13 1,12 1,-20 1,5 1,-5 1,-2 1,13 1,-10 1,13 1,-4 1,-19 1,23 1,-38 1,22 1,-3 1,-5 1,15 1,14 1,-7 1,-5 1,-18 1,20 1,-12 1,0 1,10 1,-12 1,0 1,13 1,-11 1,17 1,-25 1,24 1,-1 1,-6 1,-13 1,21 1,-18 1,22 1,-7 1,-18 1,17 1,3 1,0 1,-7 1,1 1,21 1,-17 1,5 1,-7 1,-19 1,24 1,-9 1,3 1,-3 1,-7 1,3 1,-2 1,14 1,-12 1,2 1,-9 1,26 1,-16 1,4 1,5 1,-15 1,11 1,8 1,16 1,-22 1,-4 1,6 1,-7 1,-13 1,14 1,-2 1,8 1,-36 1,35 1,-3 1,4 1,-7 1,5 1,-19 1,11 1,-3 1,25 1,-7 1,-13 1,-14 1,22 1,5 1,-18 1,13 1,-3 1,9 1,-4 1,-7 1,3 1,20 1,-7 1,6 1,-12 1,1 1,14 1,-22 1,7 1,1 1,-18 1,40 1,-44 1,3 1,6 1,14 1,7 1,10 1,-11 1,-16 1,14 1,-24 1,36 1,-19 1,-26 1,27 1,6 1,-19 1,8 1,2 1,5 1,-15 1,22 1,-11 1,-22 1,13 1,29 1,5 1,-12 1,-7 1,-6 1,-12 1,1 1,35 1,-46 1,31 1,19 1,-14 1,-22 1,13 1,11 1,-19 1,8 1,15 1,-23 1,12 1,6 1,-3 1,-1 1,9 1,3 1,4 1,1 1,-9 1,-13 1,-3 1,20 1,-17 1,-9 1,15 1,-8 1,7 1,-18 1,13 1,20 1,-11 1,-15 1,6 1,16 1,-8 1,3 1,-21 1,18 1,-4 1,1 1,25 1,-28 1,-1 1,6 1,-15 1,8 1,-7 1,15 1,-6 1,-15 1,15 1,-6 1,-11 1,21 1,21 1,-51 1,33 1,20 1,-4 1,5 1,7 1,-17 1,14 1,-2 1,-21 1,-12 1,45 1,-12 1,-15 1,-9 1,-8 1,21 1,-7 1,-5 1,4 1,11 1,-5 1,4 1,-20 1,35 1,-13 1,-4 1,2 1,-13 1,14 1,-3 1,-1 1,18 1,-9 1,-16 1,-7 1,20 1,-14 1,6 1,-1 1,-16 1,26 1,-11 1,-5 1,11 1,-6 1,-4 1,-24 1,33 1,14 1,-13 1,0 1,-2 1,-4 1,-11 1,48 1,-31 1,-1 1,7 1,20 1,-48 1,28 1,-22 1,8 1,7 1,-5 1,6 1,-9 1,40 1,-40 1,-12 1,23 1,1"/>
<path transform="translate(257.522,0) scale(0.38022,1)" vector-effect="non-scaling-stroke" fill="none" stroke="#1B72E0" stroke-width="4" stroke-linejoin="bevel" d="M0,262l1,53 1,51 1,36 1,31 1,26 1,23 1,17 1,15 1,14 1,12 1,11 1,11 1,12 1,12 1,13 1,15 1,15 1,19 1,14 1,17 1,13 1,15 1,13 1,12 1,14 1,10 1,15 1,11 1,16 1,14 1,13 1,12 1,11 1,12 1,12 1,10 1,7 1,6 1,13 1,3 1,10 1,7 1,11 1,5 1,8 1,6 1,3 1,9 1,8 1,2 1,8 1,3 1,8 1,4 1,6 1,3 1,9 1,-2 1,4 1,3 1,9 1,-1 1,4 1,8 1,6 1,1 1,-10 1,10 1,2 1,2 1,6 1,12 1,-6 1,0 1,9 1,-1 1,3 1,-2 1,6 1,4 1,-9 1,4 1,16 1,1 1,-5 1,0 1,7 1,-3 1,8 1,14 1,-6 1,9 1,-5 1,6 1,8 1,-12 1,8 1,4 1,5 1,10 1,-3 1,-10 1,9 1,-1 1,2 1,18 1,-16 1,9 1,-4 1,11 1,-2 1,1 1,0 1,8 1,-10 1,2 1,-1 1,15 1,-8 1,-3 1,5 1,17 1,-14 1,7 1,-2 1,-1 1,-3 1,3 1,0 1,-9 1,27 1,-8 1,-4 1,-1 1,-3 1,11 1,-6 1,5 1,-10 1,10 1,10 1,-12 1,6 1,-3 1,6 1,0 1,-5 1,-3 1,5 1,-1 1,-3 1,6 1,0 1,-7 1,5 1,17 1,-12 1,-3 1,14 1,-17 1,-11 1,3 1,3 1,10 1,4 1,-18 1,19 1,-13 1,8 1,2 1,-1 1,-2 1,1 1,-8 1,8 1,4 1,0 1,9 1,-8 1,-3 1,6 1,-9 1,-8 1,-6 1,20 1,-4 1,1 1,-7 1,4 1,8 1,-9 1,-8 1,3 1,10 1,-14 1,-9 1,2 1,5 1,12 1,-5 1,-5 1,-3 1,6 1,0 1,-3 1,2 1,-4 1,15 1,-24 1,13 1,-6 1,9 1,-6 1,3 1,1 1,-2 1,4 1,-14 1,13 1,-7 1,3 1,7 1,-3 1,4 1,-24 1,7 1,10 1,-12 1,5 1,10 1,-5 1,-11 1,7 1,1 1,-4 1,-1 1,1 1,-11 1,9 1,-7 1,8 1,0 1,-9 1,9 1,-2 1,-3 1,4 1,-7 1,-1 1,2 1,-1 1,7 1,-23 1,13 1,-12 1,9 1,4 1,-2 1,6 1,-5 1,-20 1,10 1,17 1,0 1,-10 1,-12 1,25 1,-29 1,16 1,-3 1,2 1,-10 1,5 1,10 1,-11 1,-7 1,9 1,1 1,-2 1,-5 1,9 1,-5 1,-7 1,9 1,-2 1,1 1,-13 1,6 1,9 1,3 1,-4 1,-2 1,4 1,2 1,6 1,-11 1,-8 1,8 1,-19 1,15 1,-5 1,3 1,3 1,-4 1,-13 1,8 1,-5 1,5 1,2 1,-12 1,13 1,3 1,-14 1,6 1,-19 1,6 1,11 1,-24 1,9 1,-5 1,16 1,-1 1,-16 1,5 1,-24 1,28 1,-5 1,7 1,-32 1,22 1,-7 1,-20 1,15 1,5 1,7 1,-6 1,-8 1,8 1,-6 1,-5 1,-4 1,9 1,-1 1,15 1,-22 1,18 1,-12 1,7 1,-20 1,-1 1,5 1,10 1,-8 1,5 1,-5 1,6 1,-9 1,-8 1,9 1,-5 1,15 1,-19 1,1 1,-5 1,13 1,-4 1,-3 1,-20 1,-4 1,17 1,3 1,6 1,-34 1,15 1,-17 1,6 1,6 1,10 1,-17 1,-3 1,2 1,15 1,10 1,-42 1,11 1,-3 1,15 1,-9 1,10 1,-28 1,9 1,-6 1,-8 1,8 1,-12 1,34 1,-19 1,-17 1,3 1,24 1,-25 1,12 1,-2 1,4 1,-6 1,-10 1,-5 1,-14 1,18 1,1 1,-7 1,1 1,-12 1,36 1,-31 1,-7 1,4 1,4 1,9 1,-37 1,32 1,-14 1,4 1,13 1,-4 1,-18 1,5 1,22 1,-8 1,-7 1,-11 1,9 1,-8 1,-13 1,-7 1,16 1,-3 1,7 1,-23 1,20 1,-24 1,17 1,-12 1,-17 1,-7 1,6 1,-5 1,11 1,-23 1,-13 1,15 1,20 1,-6 1,-31 1,1 1,5 1,-15 1,3 1,-2 1,-12 1,3 1,0 1,7 1,-20 1,15 1,-16 1,0 1,-6 1,65 1,-37 1,-1 1,-9 1,-15 1,2 1,1 1,1 1,0 1,10 1,-61 1,30 1,14 1,-15 1,1 1,19 1,-19 1,19 1,-26 1,2 1,-19 1,-14 1,18 1,5 1,-8 1,-15 1,25 1,-10 1,-3 1,-12 1,30 1,-4 1,-17 1,-8 1,3 1,17 1,13 1,-39 1,-8 1,-20 1,59 1,-53 1,24 1,-7 1,9 1,-30 1,-12 1,21 1,2 1,8 1,-40 1,15 1,0 1,-16 1,14 1,11 1,-13 1,-21 1,22 1,5 1,-6 1,1 1,-34 1,26 1,-1 1,-14 1,2 1,-11 1,24 1,-22 1,-10 1,13 1,-3 1,6 1,-22 1,1 1,12 1,23 1,-25 1,-26 1,19 1,-15 1,-16 1,14 1,0 1,11 1,11 1,-4 1,-6 1,-18 1,7 1,-4 1,18 1,-28 1,0 1,27 1,-13 1,-14 1,8 1,0 1,0 1,8 1,-6 1,-7 1,-5 1,-16 1,17 1,21 1,-13 1,-11 1,5 1,-8 1,15 1,23 1,-3 1,-8 1,-6 1,-13 1,-13 1,16 1,-6 1,17 1,-8 1,-10 1,14 1,33 1,-51 1,28 1,-7 1,-9 1,-9 1,11 1,3 1,8 1,-1 1,-5 1,-12 1,13 1,-10 1,-7 1,26 1,-20 1,-7 1,17 1,-26 1,25 1,7 1,-11 1,9 1,26 1,-9 1,-6 1,-4 1,-15 1,6 1,-2 1,5 1,1 1,-12 1,33 1,-35 1,19 1,9 1,-14 1,-8 1,10 1,25 1,-17 1,-12 1,12 1,-10 1,-21 1,28 1,11 1,2 1,-16 1,-18 1,35 1,-17 1,12 1,5 1,-10 1,-5 1,-7 1,3 1,7 1,-7 1,12 1,-31 1,13 1,13 1,-8 1,2 1,-7 1,24 1,13 1,-34 1,28 1,-34 1,22 1,-28 1,33 1,-6 1,2 1,15 1,-8 1,-8 1,-10 1,12 1,-10 1,4 1,25 1,-7 1,-8 1,5 1,-27 1,21 1,-23 1,14 1,14 1,0 1,5 1,-7 1,-1 1,0 1,18 1,-1 1,-35 1,21 1,16 1,-20 1,6 1,-10 1,-8 1,18 1,-6 1,3 1,-16 1,4 1,14 1,-4 1,14 1,-21 1,24 1,-2 1,-6 1,8 1,-9 1,-1 1,3 1,-16 1,16 1,12 1,-31 1,30 1,-16 1,4 1,6 1,3 1,15 1,-19 1,25 1,-22 1,7 1,3 1,-17 1,-6 1,17 1,8 1,3 1,-15 1,28 1,-24 1,-6 1,24 1,2 1,-28 1,24 1,-27 1,18 1,30 1,-12 1,-7 1,0 1,-19 1,16 1,2 1,-19 1,17 1,5 1,-4 1,3 1,-8 1,-11 1,16 1,-26 1,17 1,24 1,10 1,-18 1,-37 1,50 1,-10 1,-9 1,13 1,-3 1,-22 1,-1 1,31 1,-43 1,39 1,-4 1,9 1,11 1,-5 1,4 1,-10 1,-3 1,8 1,-14 1,-11 1,11 1,-20 1,15 1,34 1,-19 1,-9 1,-5 1,-15 1,16 1,-2 1,10 1,2 1,-2 1,-24 1,45 1,-13 1,-5 1,-4 1,10 1,11 1,-8 1,-23 1,-1 1,-14 1,33 1,8 1,7 1,-14 1,10 1,-23 1,19 1,-8 1,-7 1,-13 1,38 1,-45 1,38 1,-18 1,18 1,-15 1,18 1,-13 1,-10 1,7 1,-14 1,25 1,10 1,-8 1,-4 1,16 1,-33 1,23 1,-7 1,-6 1,14 1,-22 1,13 1,6 1,-19 1,12 1,10 1,6 1,-25 1,25 1,-16 1,5 1,-8 1,18 1,-20 1,13 1,2 1,5 1,-24 1,24 1,-9 1,19 1,-24 1,-3 1,7 1,-3 1,2 1,-15 1,-10 1,8 1,12 1,13 1,-9 1,-9 1,11 1,3 1,36 1,-20 1,-14 1,-22 1,17 1,-1 1,11 1,21 1,-29 1,-25 1,25 1,-21 1,33 1,4 1,-10 1,-24 1,17 1,19 1,-29 1,5 1,11 1,4 1,-6 1,4 1,-2 1,-10 1,6 1,5 1,-18 1,17 1,-1 1,5 1,-2 1,-18 1,-3 1,20 1,-5 1,3 1,-8 1,-10 1,21 1,-5 1,9 1,7 1,0 1,-2 1,-25 1,-15 1,19 1,-8 1,-1 1,26 1,-30 1,33 1,3 1,20 1,-21 1,14 1,-36 1,-1 1,22 1,-30 1,32 1,-19 1,-22 1,50 1,-39 1,48 1,-53 1,8 1,14 1,-2 1,-21 1,22 1,1 1,3 1,-27 1,13 1,7 1,11 1,-8 1,-7 1,-1 1,25 1,-30 1,14 1,-32 1,51 1,-17 1,-29 1,31 1,10 1,-7 1,-10 1,10 1,-21 1,7 1,-2 1,6 1,-15 1,32 1,-20 1,-12 1,11 1,8 1,-4 1,14 1,-20 1,-5 1,17 1,10 1,-29 1,-8 1,12 1,8 1,-13 1,16 1,-13 1,23 1,-27 1,3 1,14 1,8 1,3 1,-21 1,9 1,8 1,11 1,-30 1,-4 1,23 1,-10 1,21 1,-17 1,4 1,-14 1,14 1,13 1,-19 1,-13 1,28 1,-16 1,6 1,-10 1,22 1,-22 1,3 1,7 1,-2 1,-27 1,36 1,-21 1,19 1,-9 1,4 1,-8 1,-4 1,17 1,1 1,10 1,-5 1,-17 1,25 1,14 1,-19 1,-12 1,-10 1,14 1,-19 1,29 1,-15 1,-2 1,11 1,-19 1,-7 1,18 1,22 1,-27 1,23 1,-35 1,24 1,8 1,17 1,-46 1,22 1,-10 1,16 1,-11 1,9 1,-10 1,3 1,13 1,15 1,-17 1,0 1,-7 1,27 1,-46 1,0 1,17 1,16 1,7 1,-4 1,3 1,-7 1,-8 1,-7 1,20 1,-18 1,19 1,5 1,-18 1,3 1,-1 1,17 1,-6 1,-11 1,13 1,17 1,-16 1,-1 1,-7 1,-6 1,12 1,2 1,-5 1,20 1,-18 1,1 1,5 1,5 1,-30 1,27 1,14 1,-31 1,20 1,-11 1,-7 1,17 1,-4 1,-26 1,20 1,18 1,-18 1,-2 1,5 1,-1 1,16 1,-20 1,-4 1,21 1,7 1,-3 1,2 1,-20 1,-10 1,10 1,9 1,-22 1,19 1,12 1,-17 1,35 1,-16 1,-25 1,1 1,6 1,18 1,-3 1,-13 1,10 1,8 1,-3 1,-28 1,7 1,3 1,-11 1,34 1,-20 1,0 1,-2 1,15 1,4 1,1 1,8 1,-28 1,33 1,11 1,-39 1,2 1,13 1,8 1,-19 1,-7 1,38 1,-34 1,-29 1,43 1,6 1,9 1,1 1,18 1,-48 1,-6 1,-6 1,42 1,-28 1,-17 1,-5 1,29 1,-7 1,9 1,-15 1,2 1,15 1,-9 1,11 1,-10 1,-2 1,8 1,-9 1,7 1,3 1,-13 1,5 1,3 1,7 1,-5 1,-1 1,3 1,-10 1,8 1,-14 1,-15 1,29 1,-31 1,23 1,22 1,-11 1,-23 1,23 1,-7 1,-14 1,9 1,-6 1,3 1,8 1,-25 1,31 1,15 1,-29 1,-11 1,7 1,21 1,-23 1,13 1,23 1,-40 1,11 1,-9 1,2 1,6 1,-12 1,16 1,-4 1,12 1,-6 1,-4 1,14 1,-23 1,11 1,-17 1,27 1,-29 1,22 1,-22 1,12 1,-17 1,4 1,-3 1,18 1,1 1,3 1,-5 1,-8 1,11 1,11 1,-25 1,-5 1,17 1,19 1,-28 1,-3 1,-10 1,4 1,-3 1,-1 1,26 1,3 1,-16 1,0 1,9 1,-10 1,1 1,6 1,-9 1,17 1,26 1,-43 1,3 1,-14 1,4 1,7 1,4 1,-8 1,-13 1,20 1,-12 1,12 1,-9 1,1 1,1 1,-27 1,43 1,-28 1,16 1,3 1,-15 1,-11 1,25 1,-20 1,11 1,7 1,-13 1,-16 1,13 1,15 1,-17 1,22 1,-32 1,7 1,-11 1,11 1,32 1,-13 1,-11 1,-5 1,23 1,-17 1,-12 1,33 1,-38 1,20 1,6 1,3 1,13 1,-15 1,-20 1,24 1,-11 1,-21 1,2 1,3 1,-18 1,34 1,1 1,-1 1,-18 1,10 1,16 1,-11 1,-7 1,-8 1,9 1,17 1,-17 1,30 1,1 1,-22 1,-31 1,18 1,19 1,-24 1,-2 1,9 1,35 1,-42 1,-19 1,29 1,1 1,4 1,-9 1,4 1,-11 1,18 1,-13 1,7 1,-17 1,28 1,-15 1,-9 1,6 1,-15 1,6 1,19 1,-3 1,3 1,-2 1,-13 1,5 1,23 1,-26 1,-19 1,20 1,-6 1,4 1,2 1,-14 1,19 1,-8 1,10 1,-17 1,-4 1,7 1,28 1,-46 1,39 1,-15 1,15 1,-20 1,10 1,0 1,24 1,-30 1,5 1,-13 1,14 1,-14 1,9 1,7 1,2 1,-19 1,1 1,27 1,-22 1,9 1,-6 1,-16 1,19 1,0 1,25 1,-47 1,18 1,15 1,-15 1,-21 1,37 1,-6 1,-13 1,-1 1,4 1,12 1,-5 1,-6 1,14 1,9 1,-21 1,29 1,-20 1,8 1,-2 1,1 1,-3 1,-32 1,17 1,24 1,-24 1,15 1,-22 1,13 1,29 1,-17 1,-14 1,3 1,-14 1,29 1,-9 1,13 1,1 1,-14 1,-8 1,-3 1,11 1,5 1,18 1,-30 1,19 1,-19 1,6 1,18 1,-3 1,-13 1,-2 1,24 1,-17 1,-1 1,-10 1,47 1,-8 1,-17 1,23 1,-22 1,-11 1,12 1,12 1,-32 1,31 1,0 1,4 1,-13 1,9 1,-37 1,23 1,14 1,-5 1,-4 1,-19 1,14 1,-20 1,20 1,8 1,-10 1,13 1,-6 1,12 1,-16 1,-16 1,5 1,7 1,11 1,1 1,-10 1,11 1,-9 1,17 1,-25 1,33 1,-11 1,-9 1,-8 1,22 1,-15 1,17 1,16 1,-21 1,1 1,5 1,-14 1,33 1,-28 1,12 1,-4 1,-11 1,26 1,-13 1,-13 1,1 1,-16 1,11 1,26 1,0 1,-23 1,21 1,5 1,-2 1,7 1,-41 1,28 1,-15 1,22 1,-18 1,11 1,10 1,-31 1,12 1,0 1,9 1,-20 1,31 1,15 1,-28 1,10 1,-41 1,20 1,24 1,-4 1,5 1,9 1,-16 1,-4 1,-3 1,8 1,-29 1,48 1,-48 1,8 1,22 1,12 1,-5 1,13 1,-25 1,-2 1,16 1,-22 1,18 1,4 1,-2 1,-31 1,24 1,-23 1,38 1,-16 1,19 1,5 1,-35 1,30 1,-6 1,14 1,-35 1,0 1,7 1,-14 1,26 1,-10 1,12 1,2 1,7 1,-28 1,28 1,0 1,-22 1,5 1,-11 1,36 1,2 1,-28 1,10 1,7 1,4 1,-10 1,23 1,-33 1,24 1,-10 1,3 1,-13 1,-12 1,16 1,13 1,-16 1,-11 1,20 1,2 1,-12 1,12 1,7 1,-2 1,10 1,4 1,-16 1,-10 1,-11 1,36 1,-8 1,9 1,-24 1,13 1,-12 1,-1 1,-7 1,17 1,10 1,4 1,-7 1,-6 1,30 1,-6 1,-6 1,-11 1,15 1,-27 1,-6 1,25 1,-5 1,11 1,-23 1,14 1,-17 1,9 1,11 1,-6 1,-12 1,-6 1,14 1,-7 1,-6 1,20 1,-13 1,29 1,11 1,-12 1,22 1,-52 1,-7 1,21 1,-21 1,26 1,10 1,-2 1,3 1,-15 1,2 1,5 1,-4 1,13 1,-17 1,5 1,-9 1,22 1,-10 1,0 1,-8 1,-17 1,18 1,-22 1,28 1,-16 1,34 1,-25 1,7 1,-5 1,-8 1,-5 1,-13 1,25 1,-18 1,41 1,-31 1,9 1,8 1,-2 1,18 1,-16 1,-6 1,5 1,22 1,-10 1,-35 1,23 1,-9 1,12 1,8 1,-8 1,8 1,14 1,-45 1,23 1,1 1,5 1,-4 1,10 1,-12 1,6 1,-26 1,23 1,-18 1,23 1,16 1,-24 1,6 1,4 1,9 1,-8 1,6 1,-23 1,6 1,-19 1,49 1,-45 1,28 1,-10 1,-1 1,-17 1,15 1,2 1,4 1,-10 1,7 1,-15 1,28 1,-24 1,55 1,-51 1,-4 1,10 1,-4 1,16 1,2 1,-24 1,-1 1,-1 1,16 1,7 1,-5 1,-10 1,2 1,8 1,8 1,-17 1,16 1,-20 1,7 1,12 1,-26 1,-12 1,8 1,13 1,-12 1,12 1,19 1,-22 1,22 1,-7 1,-25 1,27 1,-2 1,1 1,-10 1,1 1,-11 1,-4 1,11 1,9 1,-17 1,29 1,-27 1,10 1,-22 1,38 1,-11 1,7 1,-33 1,35 1,-13 1,-14 1,2 1,-14 1,17 1,13 1,-23 1,16 1,-21 1,-19 1,32 1,21 1,-4 1,-25 1,25 1,-3 1,-9 1,-10 1,17 1,-15 1,-4 1,18 1,-23 1,18 1,10 1,-29 1,11 1,4 1,-30 1,16 1,-1 1,-1 1,-5 1,28 1,-29 1,10 1,9 1,12 1,-42 1,4 1,3 1,9 1,16 1,-14 1,3 1,18 1,-25 1,6 1,24 1,-16 1,-19 1,-1 1,23 1,-30 1,3 1,22 1,7 1,4 1,-35 1,19 1,-50 1,32 1,50 1,-19 1,-11 1,-22 1,-4 1,31 1,-17 1,-9 1,20 1,-1 1,-18 1,3 1,34 1,-42 1,26 1,-23 1,-2 1,-3 1,12 1,1 1,10 1,-20 1,15 1,-13 1,-2 1,17 1,-2 1,-26 1,21 1,-26 1,10 1,35 1,-5 1,-20 1,11 1,8 1,6 1,-1 1,-32 1,9 1,2 1,-34 1,22 1,15 1,-9 1,-5 1,-8 1,8 1,7 1,-4 1,19 1,-4 1,-28 1,29 1,-12 1,9 1,-18 1,20 1,-21 1,22 1,-13 1,-3 1,-14 1,-4 1,32 1,-26 1,-1 1,21 1,-5 1,7 1,-25 1,-10 1,16 1,25 1,-14 1,6 1,2 1,-5 1,0 1,-5 1,6 1,1 1,-13 1,17 1,-8 1,-1 1,-1 1,13 1,-13 1,17 1,-28 1,20 1,-28 1,21 1,-7 1,1 1,-8 1,13 1,8 1,-31 1,22 1,4 1,6 1,-4 1,-18 1,27 1,-25 1,18 1,-4 1,-10 1,-4 1,9 1,21 1,-10 1,-16 1,17 1,12 1,7 1,-51 1,32 1,2 1,-22 1,-14 1,41 1,-22 1,-16 1,8 1,23 1,19 1,-16 1,-24 1,28 1,-41 1,38 1,-1 1,11 1,-10 1,2 1,-14 1,-6 1,5 1,25 1,-32 1,6 1,-5 1,15 1,-2 1,20 1,2 1,-13 1,-3 1,-14 1,-17 1,22 1,-2 1,-15 1,18 1,10 1,-24 1,23 1,-6 1,-12 1,8 1,9 1,-12 1,2 1,18 1,-10 1,0 1,-13 1,16 1,11 1,-32 1,-10 1,12 1,9 1,-12 1,-9 1,45 1,-27 1,-5 1,-28 1,51 1,-33 1,38 1,-10 1,-4 1,-6 1,16 1,-20 1,12 1,-11 1,2 1,25 1,-6 1,-27 1,1 1,12 1,-2 1,8 1,-11 1,-9 1,25 1,-14 1,12 1,-21 1,32 1,-16 1,-1 1,2 1,-26 1,30 1,-16 1,-8 1,20 1,18 1,-32 1,30 1,-50 1,33 1,-11 1,11 1,25 1,-19 1,-29 1,39 1,-33 1,7 1,-4 1,14 1,-2 1,23 1,-16 1,6 1,-11 1,18 1,-27 1,-4 1,32 1,-1 1,-8 1,31 1,-41 1,33 1,2 1,-35 1,25 1,5 1,-11 1,1 1,2 1,-9 1,-6 1,30 1,-6 1,-2 1,8 1,-17 1,3 1,20 1,-10 1,7 1,9 1,9 1,-34 1,5 1,-11 1,10 1,17 1,-13 1,36 1,-34 1,-17 1,12 1,40 1,-39 1,11 1,-9 1,-3 1,30 1,-30 1,-8 1,14 1,2 1,15 1,-4 1,15 1,-18 1,9 1,1 1,7 1,-29 1,12 1,-31 1,26 1,-5 1,5 1,32 1,-7 1,-32 1,43 1,-6 1,-14 1,-4 1,0 1,2 1,9 1,-12 1,17 1,-17 1,-4 1,7 1,7 1,1 1,-5 1,-19 1,2 1,-4 1,19 1,12 1,-8 1,-1 1,-5 1,2 1,-4 1,23 1,-29 1,4 1,18 1,-10 1,13 1,-14 1,12 1,-3 1,-19 1,24 1,9 1,-24 1,7 1,10 1,12 1,-15 1,26 1,-35 1,30 1,-34 1,10 1,-12 1,25 1,-4 1,-30 1,-12 1,62 1,-31 1,-18 1,10 1,6 1,27 1,-15 1,-5 1,-12 1,21 1,-31 1,37 1,-2 1,-18 1,-13 1,12 1,6 1,27 1,-3 1,-30 1,-1 1,-8 1,23 1,-12 1,16 1,-8 1,-7 1,-6 1,-7 1,28 1,-24 1,26 1,-30 1,-11 1,33 1,-8 1,20 1,-12 1,-1 1,12 1,-19 1,17 1,23 1,-28 1,-14 1,11 1,-9 1,6 1,26 1,-34 1,-3 1,23 1,-12 1,3 1,-5 1,11 1,16 1,-11 1,-13 1,1 1,-6 1,0 1,23 1,-5 1,0 1,0 1,-14 1,8 1,7 1,14 1,-17 1,-2 1,-11 1,24 1,-16 1,6 1,2 1,-14 1,13 1,11 1,-25 1,5 1,-4 1,12 1,25 1,-22 1,11 1,-12 1,-8 1,6 1,3 1,-6 1,2 1,2 1,-9 1,27 1,-13 1,-7 1,-5 1,12 1,-14 1,-6 1,11 1,20 1,-18 1,5 1,-14 1,18 1,-13 1,0 1,-2 1,8 1,-11 1,8 1,3 1,-10 1,-12 1,30 1,-21 1,-8 1,24 1,-1 1,15 1,2 1,-43 1,20 1,11 1,-20 1,31 1,-10 1,-12 1,2 1,10 1,22 1,-2 1,-41 1,25 1,-25 1,17 1,-11 1,9 1,-2 1,10 1,-14 1,18 1,-10 1,-9 1,29 1,-14 1,-6 1,4 1,7 1,-10 1,-6 1,6 1,-5 1,1 1,26 1,-10 1,7 1,-23 1,-15 1,17 1,11 1,-12 1,8 1,-14 1,18 1,-11 1,5 1,9 1,-18 1,-4 1,4 1,17 1,-11 1,17 1,-7 1,7 1,-11 1,13 1,-6 1,-32 1,41 1,-7 1,-16 1,-9 1,-8 1,24 1,-12 1,-3 1,2 1,-8 1,31 1,-22 1,11 1,2 1,3 1,-7 1,12 1,-17 1,33 1,-45 1,28 1,18 1,-38 1,29 1,7 1,-30 1,24 1,-25 1,11 1,-7 1,-9 1,-1 1,6 1,-11 1,20 1,0 1,12 1,-9 1,-6 1,-2 1,34 1,-49 1,3 1,43 1,-14 1,-11 1,5 1,5 1,-29 1,14 1,12 1,0 1,5 1,-10 1,-7 1,-3 1,15 1,-8 1,6 1,12 1,-2 1,-30 1,29 1,-26 1,-8 1,46 1,-22 1,-10 1,2 1,16 1,14 1,-9 1,-18 1,-11 1,12 1,14 1,-6 1,-22 1,18 1,6 1,-18 1,22 1,7 1,-7 1,-21 1,7 1,3 1,-3 1,14 1,-9 1,-1 1,4 1,-9 1,-11 1,18 1,-5 1,12 1,-5 1,-6 1,16 1,-13 1,-15 1,34 1,-4 1,-14 1,-19 1,7 1,24 1,-12 1,-4 1,10 1,-12 1,1 1,21 1,-9 1,3 1,-1 1,5 1,-2 1,-20 1,8 1,22 1,-18 1,19 1,-24 1,-13 1,18 1,-7 1,-2 1,-1 1,-15 1,31 1,-8 1,-10 1,-8 1,27 1,-7 1,8 1,-4 1,5 1,-9 1,-17 1,19 1,9 1,-27 1,11 1,23 1,-32 1,30 1,-26 1,-9 1,14 1,-1 1,18 1,-36 1,14 1,0 1,-2 1,14 1,-8 1,6 1,-3 1,16 1,-20 1,8 1,10 1,-4 1,-6 1,10 1,-5 1,1 1,-4 1,10 1,2 1,-20 1,14 1,-1 1,3 1,-16 1,-6 1,12 1,15 1,-24 1,23 1,-11 1,2 1,0 1,-6 1,1 1,10 1,11 1,-16 1,3 1,-15 1,9 1,14 1,0 1,-16 1,3 1,-5 1,-4 1,15 1,-10 1,22 1,-43 1,4 1,6 1,15 1,-2 1,-7 1,-28 1,39 1,-21 1,35 1,-15 1,-10 1,6 1,22 1,-23 1,-9 1,-17 1,28 1,-7 1,22 1,-11 1,11 1,-18 1,-5 1,21 1,-13 1,-6 1,7 1,13 1,-19 1,30 1,-17 1,-20 1,2 1,12 1,-3 1,-1 1,3 1,5 1,-6 1,-4 1,-15 1,41 1,-18 1,5 1,-4 1,13 1,-15 1,14 1,-21 1,4 1,9 1,1 1,7 1,-21 1,12 1,-11 1,-11 1,29 1,-13 1,-10 1,2 1,15 1,-6 1,-1 1,9 1,-8 1,-21 1,31 1,-16 1,2 1,-24 1,-10 1,39 1,-6 1,5 1,3 1,8 1,5 1,-2 1,-25 1,2 1,11 1,15 1,-3 1,-20 1,-8 1,18 1,-6 1,10 1,2 1,-6 1,-14 1,-4 1,11 1,9 1,-6 1,9 1,-13 1,18 1,-9 1,-8 1,-5 1,7 1,3 1,17 1,-17 1,7 1,-32 1,36 1,-13 1,-10 1,-15 1,16 1,29 1,-9 1,-1 1,-14 1,12 1,0 1,-3 1,-15 1,4 1,4 1,39 1,-59 1,42 1,-3 1,-13 1,7 1,-6 1,3 1,-14 1,-16 1,55 1,-11 1,-37 1,29 1,-18 1,11 1,-18 1,0 1,34 1,-27 1,4 1,9 1,10 1,-24 1,13 1,2 1,-16 1,0 1,14 1,-8 1,20 1,-40 1,27 1,-8 1,-14 1,15 1,-16 1,13 1,17 1,-21 1,15 1,-3 1,-10 1,3 1,6 1,1 1,-10 1,4 1,11 1,-21 1,-2 1,18 1,2 1,-33 1,28 1,15 1,-6 1,-14 1,9 1,-24 1,27 1,-4 1,6 1,-12 1,10 1,-13 1,18 1,-7 1,-27 1,2 1,26 1,5 1,3 1,-21 1,9 1,-6 1,-4 1,5 1,17 1,-20 1,26 1,-36 1,12 1,10 1,0 1,-5 1,-21 1,16 1,20 1,-9 1,-1 1,-1 1,-7 1,1 1,-6 1,23 1,-11 1,-1 1,-3 1,-4 1,-14 1,16 1,-8 1,2 1,9 1,13 1,-28 1,13 1,18 1,-33 1,21 1,-12 1,14 1,10 1,-19 1,12 1,-8 1,19 1,-63 1,30 1,9 1,3 1,18 1,-6 1,-18 1,-12 1,30 1,-10 1,-6 1,13 1,11 1,-17 1,13 1,-38 1,31 1,18 1,-14 1,-21 1,-6 1,17 1,-14 1,4 1,-15 1,9 1,18 1,-15 1,-1 1,-6 1,14 1,6 1,-3 1,-35 1,33 1,-11 1,10 1,-12 1,26 1,10 1,-12 1,10 1,-18 1,-6 1,-21 1,16 1,3 1,23 1,-29 1,12 1,7 1,-7 1,-1 1,12 1,-22 1,10 1,3 1,16 1,-3 1,-10 1,4 1,-35 1,28 1,-10 1,-12 1,26 1,-13 1,-3 1,-12 1,22 1,12 1,-12 1,6 1,3 1,-12 1,-4 1,-3 1,4 1,-3 1,7 1,-6 1,18 1,-23 1,29 1,-24 1,-1 1,14 1,-17 1,-13 1,32 1,7 1,-40 1,29 1,-13 1,4 1,21 1,-35 1,10 1,21 1,-12 1,3 1,-14 1,-1 1,0 1,11 1,-7 1,10 1,26 1,-52 1,24 1,-5 1,-11 1,15 1,-13 1,-6 1,16 1,19 1,-22 1,8 1,-13 1,-1 1,-9 1,17 1,6 1,-26 1,-2 1,28 1,-14 1,-11 1,27 1,-11 1,-2 1,5 1,-8 1,41 1,-59 1,20 1,12 1,-2 1,-19 1,11 1,2 1,18 1,3 1,0 1,-17 1,14 1,-9 1,-10 1,-1 1,12 1,-4 1,-10 1,-5 1,0 1,28 1,-20 1,5 1,16 1,0 1,-7 1,-6 1,-10 1,6 1,2 1,5 1,-15 1,17 1,2 1,-8 1,-20 1,-6 1,30 1,-29 1,23 1,31 1,-35 1,-14 1,26 1,-16 1,4 1,-19 1,13 1,23 1,-19 1,-5 1,8 1,2 1,9 1,-3 1,3 1,-26 1,11 1,-19 1,41 1,-25 1,2 1,26 1,-11 1,-14 1,1 1,-2 1,15 1,25 1,-52 1,34 1,-3 1,-20 1,9 1,0 1,-12 1,1 1,25 1,-12 1,-10 1,-6 1,10 1,1 1,10 1,8 1,-18 1,-11 1,15 1,-2 1,-9 1,15 1,-9 1,5 1,-4 1,5 1,2 1,-19 1,22 1,-10 1,-20 1,16 1,18 1,3 1,-25 1,11 1,-18 1,20 1,-32 1,7 1,25 1,1 1,-14 1,13 1,13 1,-20 1,9 1,-17 1,-6 1,37 1,-20 1,-9 1,-13 1,28 1,3 1,6 1,-19 1,13 1,-10 1,-11 1,10 1,-6 1,-4 1,3 1,18 1,-10 1,-9 1,7 1,0 1,0 1,4 1,-11 1,25 1,-30 1,7 1,-10 1,12 1,-2 1,9 1,-20 1,20 1,-22 1,35 1,-21 1,20 1,4 1,-32 1,38 1,-23 1,-27 1,29 1,0 1,18 1,-43 1,-15 1,36 1,-5 1,-6 1,12 1,21 1,-22 1,12 1,-20 1,-7 1,10 1,28 1,-6 1,-7 1,-13 1,8 1,4 1,-26 1,15 1,26 1,-39 1,19 1,-9 1,2 1,16 1,-21 1,19 1,-10 1,14 1,-24 1,25 1,-15 1,-6 1,-2 1,-16 1,36 1,-21 1,24 1,14 1,-48 1,23 1,-12 1,10 1,4 1,-21 1,28 1,-15 1,22 1,-19 1,2 1,-2 1,34 1,-40 1,-23 1,41 1,-11 1,9 1,4 1,5 1,-16 1,3 1,8 1,3 1,-33 1,39 1,-36 1,16 1,12 1,-21 1,0 1,25 1,0 1,-36 1,17 1,5 1,13 1,-12 1,6 1,-6 1,5 1,22 1,-24 1,-2 1,-24 1,6 1,-5 1,16 1,-3 1,-5 1,17 1,-27 1,21 1,-4 1,-8 1,-1 1,5 1,15 1,2 1,-29 1,19 1,-9 1,19 1,4 1,-5 1,-4 1,2 1,-29 1,26 1,-1 1,-6 1,-7 1,-6 1,5 1,2 1,-24 1,31 1,3 1,17 1,0 1,-13 1,-5 1,-1 1,11 1,2 1,-32 1,28 1,-15 1,6 1,-4 1,9 1,-17 1,13 1,-19 1,30 1,-2 1,-14 1,3 1,-6 1,15 1,-1 1,-12 1,3 1,5 1,-12 1,13 1,2 1,23 1,-25 1,-12 1,23 1,-10 1,-10 1,16 1,-17 1,24 1,-8 1,-13 1,3 1,25 1,-27 1,-2 1,13 1,-6 1,-4 1,10 1,-32 1,25 1,16 1,-1 1,-25 1,9 1,9 1,-12 1,9 1,-1 1,-26 1,29 1,-8 1,-2 1,-2 1,-22 1,24 1,13 1,4 1,-14 1,-4 1,-2 1,20 1,9 1,-24 1,-31 1,33 1,16 1,-34 1,6 1,-9 1,21 1,25 1,-15 1,-32 1,3 1,22 1,-9 1,-17 1,24 1,-14 1,15 1,1 1,-3 1,-16 1,2 1,8 1,-5 1,20 1,1 1,-12 1,9 1,7 1,-29 1,6 1,28 1,-25 1,-5 1,7 1,6 1,-24 1,18 1,11 1,-16 1,-1 1,17 1,-21 1,-6 1,13 1,10 1,-12 1,-28 1,23 1,13 1,16 1,-22 1,31 1,-42 1,6 1,7 1,8 1,-13 1,12 1,-11 1,9 1,1 1,-5 1,0 1,-5 1,-6 1,44 1,-46 1,27 1,-4 1,-12 1,-1 1,-8 1,11 1,-16 1,14 1,24 1,-10 1,-31 1,18 1,-6 1,-12 1,30 1,-35 1,27 1,16 1,-3 1,-33 1,11 1,1 1,1 1,12 1,-3 1,13 1,-28 1,12 1,10 1,-9 1,-28 1,24 1,1 1,-2 1,-12 1,20 1,-8 1,-11 1,16 1,-8 1,-5 1,-2 1,-4 1,13 1,-8 1,19 1,-13 1,9 1,-18 1,4 1,6 1,8 1,2 1,-9 1,1 1,4 1,2 1,3 1,-32 1,30 1,-11 1,2 1,-11 1,19 1,5 1,-1 1,-21 1,-11 1,34 1,-21 1,-15 1,31 1,-36 1,37 1,-18 1,28 1,-22 1,-8 1,9 1,-12 1,3 1,12 1,-4 1,-15 1,9 1,26 1,-37 1,23 1,23 1,-40 1,19 1,-9 1,-12 1,21 1,-1 1,-9 1,-9 1,21 1,-5 1,-10 1,-7 1,7 1,-3 1,-1 1,22 1,-16 1,18 1,-3 1,-2 1,-6 1,-7 1,0 1,25 1,-11 1,-17 1,13 1,-15 1,6 1,-12 1,1 1,-1 1,16 1,10 1,-14 1,5 1,-8 1,-3 1,9 1,-17 1,27 1,-4 1,-5 1,-4 1,-6 1,25 1,-21 1,-5 1,-5 1,3 1,7 1,-2 1,12 1,-13 1,-5 1,16 1,-15 1,30 1,-36 1,13 1,-8 1,14 1,12 1,-22 1,-13 1,23 1,-3 1,7 1,-18 1,2 1,-1 1,2 1,6 1,17 1,-11 1,-9 1,-13 1,34 1,-9 1,9 1,-50 1,61 1,-40 1,-1 1,4 1,2 1,23 1,-43 1,34 1,9 1,-3 1,-5 1,3 1,-16 1,-4 1,1 1,-13 1,32 1,-12 1,5 1,14 1,-2 1,-9 1,-17 1,-11 1,31 1,-30 1,16 1,2 1,-7 1,10 1,9 1,7 1,-23 1,-11 1,14 1,-11 1,1 1,15 1,10 1,-11 1,1 1,10 1,-6 1,-21 1,6 1,2 1,22 1,-33 1,14 1,-31 1,26 1,-4 1,-2 1,20 1,-18 1,26 1,-14 1,-6 1,-9 1,33 1,-19 1,20 1,8 1,-29 1,8 1,8 1,-16 1,-20 1,31 1,-18 1,-8 1,7 1,24 1,-29 1,5 1,-6 1,27 1,-6 1,11 1,-8 1,-5 1,11 1,-5 1,-9 1,5 1,15 1,-15 1,-29 1,-6 1,15 1,24 1,-7 1,3 1,-11 1,-1 1,-4 1,4 1,0 1,-1 1,-12 1,-3 1,32 1,-14 1,3 1,-12 1,7 1,6 1,-11 1,-6 1,17 1,0 1,-22 1,3 1,27 1,-26 1,0 1,0 1,13 1,-4 1,11 1,-23 1,6 1,7 1,0 1,-12 1,8 1,-5 1,7 1,-12 1,27 1,-15 1,-2 1,-27 1,23 1,13 1,7 1,-25 1,36 1,5 1,-35 1,22 1,-24 1,16 1,0 1,8 1,-8 1,-7 1,5 1,7 1,-14 1,15 1,-16 1,11 1,9 1,-19 1,11 1,-34 1,24 1,32 1,-37 1,-1 1,23 1,-15 1,-3 1,2 1,18 1,-16 1,-17 1,37 1,0 1,-7 1,-10 1,-12 1,37 1,-48 1,40 1,-1 1,-4 1,-2 1,5 1,-10 1,10 1,-2 1,-7 1,0 1,-1 1,17 1,-30 1,10 1,19 1,-26 1,14 1,-5 1,-18 1,21 1,8 1,-13 1,14 1,-5 1,-2 1,-24 1,27 1,-3 1,4 1,-1 1,-18 1,4 1,-8 1,18 1,-13 1,26 1,-5 1,-26 1,22 1,-14 1,-17 1,30 1,-22 1,10 1,13 1,0 1,25 1,-26 1,-8 1,-9 1,-15 1,19 1,5 1,24 1,-27 1,-15 1,22 1,-2 1,7 1,-7 1,-11 1,-9 1,14 1,2 1,5 1,14 1,-20 1,-4 1,-25 1,41 1,-24 1,11 1,-7 1,13 1,-6 1,0 1,-5 1,18 1,-23 1,9 1,20 1,-28 1,39 1,-30 1,21 1,6 1,-23 1,6 1,12 1,-10 1,25 1,-20 1,-14 1,17 1,-12 1,21 1,-41 1,39 1,4 1,-5 1,-19 1,-26 1,15 1,10 1,18 1,-16 1,-9 1,11 1,13 1,-22 1,6 1,2 1,3 1,5 1,4 1,-34 1,26 1,-8 1,-10 1,14 1,-2 1,-4 1,10 1,-10 1,7 1,-3 1,0 1,-1 1,-4 1,19 1,-7 1,-4 1,6 1,-17 1,25 1,-38 1,16 1,-16 1,13 1,11 1,-3 1,23 1,-21 1,2 1,-6 1,-11 1,21 1,8 1,-31 1,-9 1,2 1,17 1,7 1,5 1,-35 1,8 1,21 1,3 1,-10 1,-2 1,13 1,-14 1,-12 1,37 1,-6 1,-15 1,3 1,-8 1,29 1,-13 1,6 1,-15 1,-10 1,40 1,-22 1,8 1,4 1,6 1,-16 1,-24 1,24 1,-13 1,4 1,16 1,-10 1,-6 1,2 1,7 1,11 1,-1 1,-32 1,23 1,-2 1,5 1,0 1,-1 1,5 1,-10 1,12 1,9 1,-27 1,-10 1,11 1,3 1,-3 1,-7 1,4 1,16 1,2 1,-21 1,8 1,-14 1,8 1,11 1,-7 1,4 1,-15 1,14 1,-18 1,20 1,0 1,-10 1,8 1,6 1,2 1,20 1,-6 1,-23 1,27 1,-20 1,28 1,-25 1,-11 1,13 1,-6 1,17 1,-21 1,-1 1,-23 1,25 1,-5 1,1 1,20 1,-3 1,-9 1,-2 1,-8 1,-3 1,19 1,-3 1,-16 1,12 1,-3 1,3 1,20 1,-28 1,25 1,-4 1,-11 1,10 1,-5 1,-8 1,-19 1,6 1,4 1,7 1,4 1,17 1,-15 1,20 1,-6 1,-1 1,-14 1,2 1,7 1,-11 1,5 1,-21 1,27 1,-3 1,-9 1,22 1,2 1,-13 1,-14 1,14 1,-2 1,7 1,-15 1,11 1,2 1,-2 1,-2 1,-4 1,-6 1,-8 1,-12 1,1 1,15 1,3 1,21 1,-8 1,-16 1,4 1,-3 1,-1 1,32 1,-32 1,14 1,-8 1,-10 1,11 1,-17 1,17 1,12 1,-22 1,25 1,-21 1,2 1,5 1,16 1,-25 1,16 1,-17 1,21 1,17 1,-47 1,18 1,-5 1,2 1,-14 1,21 1,-11 1,3 1,12 1,-9 1,-3 1,30 1,-20 1,-5 1,3 1,1 1,-2 1,8 1,-17 1,27 1,-15 1,13 1,-17 1,24 1,-14 1,-4 1,18 1,-18 1,9 1,-14 1,38 1,-34 1,-5 1,9 1,9 1,-22 1,22 1,-17 1,-3 1,-3 1,27 1,-32 1,7 1,0 1,7 1,5 1,-11 1,-1 1,-19 1,42 1,-9 1,7 1,-6 1,-25 1,30 1,8 1,-36 1,31 1,-22 1,3 1,-9 1,5 1,11 1,6 1,0 1,1 1,-11 1,10 1,2 1,4 1,-5 1,12 1,-18 1,-27 1,35 1,-2 1,5 1,-24 1,25 1,-7 1,-16 1,-3 1,26 1,15 1,-17 1,-18 1,14 1,-15 1,7 1,7 1,-6 1,17 1,-33 1,21 1,11 1,-11 1,10 1,-16 1,14 1,-22 1,13 1,-2 1,10 1,-15 1,8 1,-39 1,34 1,12 1,7 1,-9 1,-5 1,23 1,-23 1,-2 1,6 1,-4 1,-12 1,-7 1,7 1,16 1,4 1,-1 1,-12 1,1 1,16 1,-19 1,3 1,23 1,-16 1,-7 1,-2 1,23 1,-15 1,3 1,0 1,-26 1,14 1,13 1,-4 1,6 1,-15 1,0 1,16 1,15 1,-31 1,11 1,-10 1,-8 1,18 1,-2 1,-27 1,22 1,-1 1,-9 1,8 1,30 1,-47 1,10 1,29 1,-9 1,3 1,-5 1,0 1,-7 1,21 1,-37 1,27 1,-29 1,-2 1,25 1,22 1,-13 1,-7 1,22 1,-22 1,-8 1,17 1,-24 1,43 1,-22 1,-6 1,-5 1,16 1,12 1,-30 1,10 1,1 1,-14 1,26 1,-11 1,-9 1,16 1,-21 1,15 1,-1 1,-14 1,5 1,10 1,-25 1,22 1,5 1,-3 1,-1 1,-16 1,14 1,2 1,9 1,-5 1,11 1,-12 1,3 1,5 1,-8 1,17 1,-37 1,5 1,29 1,-32 1,11 1,1 1,12 1,-13 1,0 1,36 1,-29 1,5 1,8 1,-6 1,-8 1,-7 1,6 1,12 1,-1 1,6 1,0 1,18 1,-10 1,-15 1,2 1,-1 1,-2 1,2 1,1 1,-9 1,-5 1,4 1,15 1,7 1,-10 1,-4 1,9 1,-9 1,4 1,10 1,-33 1,9 1,39 1,-28 1,-6 1,-5 1,9 1,-9 1,7 1,2 1,19 1,-20 1,14 1,-18 1,45 1,-49 1,12 1,4 1,-3 1,12 1,-1 1,-6 1,20 1,-28 1,6 1,-1 1,3 1,4 1,-5 1,-4 1,-1 1,3 1,-7 1,3 1,-6 1,-12 1,34 1,-18 1,22 1,-22 1,16 1,-19 1,29 1,-24 1,-8"/>
<path transform="translate(257.522,0) scale(0.38022,1)" vector-effect="non-scaling-stroke" fill="none" stroke="#38AE6C" stroke-width="4" stroke-linejoin="bevel" d="M0,-246l1,48 1,47 1,43 1,44 1,39 1,33 1,31 1,26 1,20 1,22 1,15 1,17 1,17 1,13 1,16 1,16 1,16 1,13 1,16 1,17 1,13 1,15 1,16 1,16 1,15 1,16 1,11 1,18 1,12 1,16 1,12 1,10 1,15 1,10 1,17 1,10 1,14 1,7 1,20 1,7 1,17 1,11 1,5 1,15 1,7 1,13 1,12 1,6 1,9 1,-2 1,13 1,8 1,11 1,0 1,14 1,9 1,0 1,12 1,17 1,1 1,9 1,21 1,5 1,6 1,9 1,4 1,6 1,7 1,11 1,12 1,-5 1,8 1,4 1,-2 1,16 1,9 1,-6 1,16 1,-4 1,17 1,6 1,-6 1,-8 1,18 1,-3 1,5 1,12 1,17 1,-8 1,3 1,-11 1,14 1,-4 1,19 1,-6 1,7 1,3 1,2 1,12 1,-1 1,-4 1,7 1,6 1,9 1,-7 1,13 1,-14 1,5 1,-8 1,22 1,-14 1,2 1,17 1,-10 1,0 1,16 1,-8 1,11 1,-10 1,11 1,4 1,-7 1,16 1,-17 1,2 1,4 1,9 1,-10 1,-1 1,7 1,9 1,-13 1,-6 1,10 1,7 1,-9 1,6 1,-16 1,17 1,1 1,5 1,-2 1,5 1,-14 1,14 1,-19 1,10 1,15 1,-2 1,-22 1,21 1,-8 1,-3 1,9 1,0 1,11 1,-24 1,9 1,3 1,-14 1,26 1,5 1,-20 1,9 1,-5 1,5 1,-8 1,13 1,-16 1,21 1,-8 1,18 1,-34 1,13 1,-10 1,10 1,5 1,-11 1,-4 1,-2 1,17 1,9 1,-1 1,-10 1,-8 1,5 1,-9 1,-1 1,23 1,-11 1,5 1,-5 1,13 1,1 1,-19 1,4 1,-3 1,17 1,-1 1,-12 1,21 1,-19 1,-10 1,-7 1,16 1,4 1,-8 1,8 1,7 1,-11 1,8 1,7 1,-10 1,-9 1,8 1,0 1,13 1,-22 1,-10 1,15 1,0 1,-7 1,8 1,-3 1,7 1,-17 1,0 1,6 1,-5 1,15 1,-6 1,-5 1,12 1,-9 1,4 1,-1 1,-9 1,0 1,1 1,-9 1,6 1,10 1,-5 1,-11 1,28 1,-29 1,14 1,1 1,4 1,-18 1,7 1,-2 1,12 1,-7 1,0 1,1 1,12 1,-11 1,1 1,-16 1,14 1,-17 1,19 1,-7 1,-10 1,-3 1,10 1,1 1,-6 1,1 1,0 1,-2 1,2 1,4 1,9 1,-6 1,-12 1,20 1,-4 1,-15 1,12 1,-15 1,-3 1,0 1,22 1,-15 1,1 1,-3 1,-5 1,8 1,2 1,12 1,-28 1,23 1,-9 1,-25 1,27 1,6 1,-6 1,-9 1,-1 1,-22 1,23 1,-2 1,-12 1,11 1,-9 1,29 1,-36 1,3 1,-14 1,18 1,5 1,-2 1,-7 1,15 1,-7 1,10 1,-15 1,-18 1,17 1,-10 1,19 1,-15 1,3 1,2 1,-17 1,12 1,13 1,-16 1,4 1,3 1,-10 1,4 1,7 1,-9 1,4 1,-3 1,-10 1,-4 1,37 1,-7 1,-18 1,12 1,1 1,-2 1,-15 1,-13 1,1 1,12 1,18 1,2 1,-22 1,-1 1,17 1,10 1,-36 1,16 1,-4 1,-6 1,-1 1,-1 1,4 1,-19 1,17 1,9 1,-1 1,0 1,-6 1,-3 1,20 1,-26 1,3 1,12 1,-16 1,-18 1,8 1,0 1,2 1,-5 1,16 1,-5 1,-5 1,-13 1,16 1,-2 1,14 1,-37 1,4 1,17 1,-33 1,16 1,-2 1,-4 1,-14 1,11 1,-21 1,33 1,-23 1,7 1,-3 1,1 1,-2 1,3 1,-11 1,4 1,-16 1,0 1,1 1,-3 1,-6 1,9 1,16 1,-4 1,-12 1,9 1,-1 1,30 1,-58 1,24 1,-22 1,33 1,-21 1,8 1,-4 1,6 1,-51 1,23 1,16 1,-21 1,25 1,8 1,-36 1,11 1,13 1,15 1,-13 1,-5 1,-24 1,11 1,-1 1,-12 1,13 1,-12 1,-4 1,34 1,-34 1,27 1,-34 1,2 1,-19 1,8 1,29 1,-25 1,-31 1,47 1,-35 1,5 1,3 1,-28 1,48 1,-6 1,-25 1,8 1,-12 1,-6 1,3 1,-19 1,13 1,-4 1,35 1,-52 1,39 1,-10 1,-11 1,-13 1,34 1,-7 1,-24 1,-5 1,4 1,23 1,-43 1,13 1,14 1,-41 1,18 1,16 1,-25 1,3 1,-24 1,27 1,-26 1,10 1,10 1,-16 1,20 1,-4 1,-6 1,6 1,-19 1,-32 1,44 1,-3 1,-20 1,-7 1,28 1,-26 1,0 1,-3 1,41 1,-48 1,-30 1,36 1,-16 1,-12 1,27 1,-12 1,20 1,-20 1,22 1,-5 1,-16 1,10 1,14 1,-18 1,-34 1,22 1,0 1,14 1,-22 1,17 1,-21 1,1 1,-6 1,2 1,-4 1,6 1,-18 1,-6 1,12 1,2 1,-10 1,11 1,-3 1,19 1,-49 1,51 1,-67 1,7 1,30 1,-20 1,8 1,-3 1,-14 1,-2 1,14 1,11 1,3 1,-7 1,-9 1,23 1,-52 1,33 1,18 1,4 1,-6 1,1 1,-5 1,-14 1,-36 1,26 1,3 1,28 1,-30 1,1 1,15 1,-25 1,15 1,8 1,-13 1,4 1,-26 1,8 1,14 1,22 1,-27 1,-5 1,2 1,22 1,-32 1,24 1,-8 1,7 1,-13 1,13 1,19 1,-25 1,-3 1,-32 1,47 1,-17 1,15 1,-4 1,-14 1,3 1,-11 1,51 1,-16 1,-2 1,6 1,3 1,-8 1,2 1,23 1,-64 1,29 1,-12 1,10 1,-39 1,22 1,29 1,-31 1,28 1,-21 1,10 1,-20 1,14 1,-14 1,32 1,-35 1,32 1,-13 1,6 1,25 1,-26 1,-5 1,10 1,11 1,-19 1,35 1,-23 1,-8 1,-4 1,8 1,11 1,8 1,-15 1,-9 1,8 1,-31 1,49 1,-4 1,-15 1,14 1,-25 1,43 1,-29 1,-4 1,39 1,-45 1,21 1,-18 1,5 1,4 1,-4 1,32 1,-6 1,-25 1,46 1,-37 1,-2 1,9 1,-21 1,37 1,-35 1,-5 1,36 1,-30 1,11 1,-15 1,12 1,9 1,-38 1,35 1,-10 1,33 1,10 1,-22 1,1 1,7 1,1 1,-38 1,2 1,13 1,-13 1,16 1,7 1,-13 1,19 1,15 1,-20 1,6 1,-7 1,0 1,-7 1,-8 1,26 1,8 1,-17 1,3 1,-22 1,17 1,9 1,-6 1,3 1,-16 1,-4 1,16 1,26 1,-28 1,-16 1,13 1,7 1,21 1,-1 1,-28 1,-3 1,11 1,4 1,-15 1,30 1,-21 1,11 1,-7 1,11 1,-10 1,6 1,15 1,-15 1,18 1,-41 1,17 1,-13 1,-6 1,21 1,29 1,-25 1,11 1,-44 1,33 1,-21 1,21 1,12 1,-23 1,23 1,-28 1,13 1,-11 1,11 1,-4 1,-31 1,28 1,-2 1,33 1,-64 1,39 1,11 1,17 1,-9 1,-21 1,23 1,-24 1,-1 1,-2 1,-1 1,29 1,-48 1,2 1,37 1,-7 1,6 1,-17 1,14 1,-14 1,-4 1,1 1,8 1,-1 1,-7 1,30 1,-17 1,-12 1,-15 1,19 1,-24 1,11 1,-3 1,3 1,16 1,-51 1,70 1,-15 1,-14 1,-2 1,20 1,-13 1,28 1,-28 1,-12 1,-8 1,20 1,17 1,-34 1,38 1,-7 1,-17 1,24 1,-46 1,-6 1,37 1,2 1,0 1,-7 1,-21 1,30 1,-14 1,19 1,-10 1,-21 1,27 1,3 1,0 1,-23 1,-5 1,28 1,-13 1,-1 1,17 1,1 1,-8 1,-11 1,26 1,-39 1,16 1,5 1,-26 1,10 1,24 1,-15 1,-15 1,41 1,-22 1,-2 1,26 1,-50 1,14 1,-6 1,34 1,-33 1,48 1,-29 1,-3 1,10 1,-18 1,-11 1,4 1,9 1,-15 1,16 1,-12 1,7 1,1 1,25 1,11 1,-6 1,-31 1,-8 1,27 1,4 1,-6 1,-24 1,14 1,-9 1,20 1,-2 1,-11 1,-10 1,32 1,-24 1,10 1,-5 1,4 1,5 1,-23 1,-2 1,16 1,-59 1,48 1,-7 1,18 1,-6 1,-8 1,-16 1,15 1,-2 1,5 1,2 1,-14 1,19 1,-17 1,14 1,-2 1,15 1,-20 1,25 1,-31 1,-8 1,23 1,-29 1,25 1,0 1,-3 1,3 1,-3 1,16 1,-21 1,-28 1,24 1,18 1,3 1,-5 1,-10 1,-15 1,38 1,-32 1,-8 1,-21 1,66 1,-29 1,-28 1,41 1,-3 1,-35 1,37 1,-11 1,10 1,10 1,-27 1,40 1,-35 1,-8 1,28 1,-29 1,5 1,18 1,-26 1,-7 1,24 1,-4 1,-9 1,23 1,-32 1,29 1,-28 1,24 1,-26 1,29 1,-11 1,-6 1,8 1,-4 1,15 1,-23 1,17 1,-11 1,-5 1,2 1,-9 1,21 1,-3 1,4 1,-30 1,18 1,29 1,-4 1,-20 1,2 1,3 1,13 1,7 1,-18 1,0 1,-4 1,5 1,22 1,-37 1,20 1,-27 1,1 1,-8 1,16 1,31 1,3 1,-13 1,-12 1,17 1,-32 1,-6 1,9 1,10 1,-25 1,16 1,38 1,-29 1,-3 1,-3 1,20 1,0 1,-9 1,-4 1,-30 1,11 1,16 1,-2 1,3 1,-2 1,34 1,-9 1,-34 1,28 1,-5 1,-7 1,-3 1,10 1,23 1,-36 1,5 1,1 1,-23 1,25 1,-12 1,17 1,2 1,21 1,-30 1,-1 1,16 1,19 1,-27 1,5 1,2 1,-1 1,-15 1,-4 1,2 1,4 1,11 1,-18 1,2 1,12 1,-2 1,4 1,-20 1,47 1,-31 1,-1 1,-9 1,20 1,9 1,-16 1,-1 1,-2 1,38 1,-25 1,-14 1,8 1,14 1,-13 1,2 1,-1 1,-5 1,11 1,16 1,-17 1,-11 1,-8 1,12 1,-7 1,-4 1,22 1,-4 1,11 1,-8 1,-13 1,20 1,-8 1,15 1,-35 1,10 1,6 1,23 1,-16 1,-24 1,4 1,21 1,-30 1,13 1,8 1,-3 1,9 1,8 1,-8 1,-22 1,38 1,-4 1,-27 1,7 1,-15 1,41 1,-28 1,14 1,1 1,11 1,-17 1,-6 1,14 1,6 1,-23 1,7 1,-21 1,43 1,-30 1,24 1,-1 1,-2 1,3 1,-25 1,15 1,-14 1,9 1,-9 1,46 1,-31 1,11 1,-24 1,36 1,-27 1,-1 1,-2 1,-18 1,-7 1,33 1,-19 1,12 1,33 1,-34 1,35 1,-25 1,-21 1,25 1,7 1,-4 1,-22 1,-6 1,29 1,15 1,-2 1,-31 1,2 1,8 1,12 1,-10 1,0 1,-6 1,-39 1,21 1,21 1,-26 1,54 1,-42 1,21 1,4 1,4 1,-35 1,15 1,25 1,-21 1,11 1,-49 1,42 1,-3 1,-4 1,-25 1,15 1,7 1,-1 1,-11 1,32 1,-2 1,-19 1,27 1,-40 1,23 1,19 1,-16 1,-10 1,9 1,-9 1,-7 1,-3 1,11 1,-2 1,7 1,-18 1,17 1,10 1,-24 1,33 1,-35 1,0 1,1 1,-9 1,-5 1,5 1,14 1,-9 1,34 1,-25 1,-3 1,-3 1,15 1,-5 1,3 1,8 1,10 1,-36 1,23 1,-9 1,3 1,-13 1,18 1,-1 1,-3 1,-17 1,21 1,-24 1,-9 1,34 1,-14 1,-21 1,12 1,11 1,14 1,-18 1,-9 1,-4 1,-4 1,18 1,-10 1,20 1,-19 1,25 1,-19 1,4 1,-2 1,-1 1,26 1,-35 1,3 1,3 1,13 1,-24 1,35 1,-35 1,5 1,10 1,0 1,-16 1,26 1,14 1,-28 1,11 1,0 1,27 1,-35 1,3 1,-11 1,9 1,-10 1,-1 1,1 1,17 1,-19 1,17 1,-15 1,19 1,-35 1,1 1,25 1,12 1,-29 1,-24 1,47 1,-10 1,-18 1,31 1,-1 1,-29 1,3 1,15 1,0 1,10 1,-13 1,21 1,-34 1,-8 1,3 1,-2 1,9 1,-10 1,23 1,6 1,6 1,-31 1,-12 1,13 1,6 1,-7 1,13 1,1 1,-3 1,-17 1,25 1,-26 1,-23 1,33 1,19 1,-18 1,-23 1,18 1,22 1,-15 1,-4 1,-17 1,17 1,-9 1,32 1,-17 1,7 1,-36 1,24 1,12 1,13 1,-6 1,-31 1,55 1,-45 1,-2 1,0 1,-12 1,11 1,-5 1,4 1,-4 1,6 1,14 1,-20 1,-7 1,25 1,-8 1,10 1,-23 1,11 1,-10 1,-7 1,12 1,5 1,6 1,-21 1,28 1,4 1,-10 1,-11 1,-6 1,26 1,-26 1,31 1,-46 1,-1 1,34 1,-24 1,33 1,-21 1,-1 1,12 1,11 1,-4 1,-14 1,-2 1,16 1,-23 1,-2 1,1 1,60 1,-25 1,-14 1,-12 1,13 1,-31 1,20 1,17 1,-10 1,-20 1,16 1,-2 1,23 1,-8 1,-9 1,29 1,-38 1,24 1,-10 1,-8 1,-6 1,15 1,15 1,-46 1,25 1,12 1,-25 1,1 1,32 1,-25 1,-2 1,12 1,-2 1,5 1,0 1,13 1,-16 1,8 1,-25 1,15 1,-11 1,29 1,-16 1,13 1,-21 1,-10 1,25 1,-14 1,-19 1,17 1,-7 1,32 1,-22 1,12 1,-3 1,11 1,-11 1,1 1,-2 1,-25 1,19 1,-18 1,1 1,18 1,-27 1,22 1,17 1,-15 1,11 1,-26 1,14 1,-37 1,21 1,6 1,36 1,4 1,-58 1,23 1,-5 1,34 1,-10 1,-18 1,17 1,6 1,-27 1,24 1,-5 1,3 1,-36 1,24 1,-34 1,40 1,-16 1,31 1,2 1,-46 1,48 1,-29 1,21 1,-12 1,-7 1,2 1,-3 1,28 1,-19 1,-16 1,25 1,-17 1,15 1,-19 1,17 1,-18 1,2 1,17 1,9 1,-11 1,-3 1,41 1,-41 1,-36 1,48 1,-17 1,-14 1,38 1,-2 1,-18 1,-1 1,7 1,16 1,-29 1,35 1,-16 1,3 1,17 1,-26 1,14 1,-9 1,-45 1,43 1,3 1,-3 1,21 1,-25 1,15 1,-2 1,2 1,-32 1,19 1,0 1,31 1,-29 1,15 1,-5 1,-24 1,4 1,21 1,7 1,13 1,-27 1,-15 1,18 1,-19 1,41 1,-25 1,4 1,29 1,-21 1,-25 1,26 1,-17 1,-8 1,6 1,-8 1,29 1,-21 1,8 1,21 1,-18 1,-4 1,10 1,-10 1,9 1,-3 1,16 1,-18 1,-7 1,7 1,-26 1,30 1,15 1,17 1,-23 1,13 1,-46 1,48 1,-13 1,12 1,-25 1,14 1,-4 1,-8 1,5 1,24 1,-45 1,18 1,12 1,14 1,-37 1,-3 1,-10 1,35 1,-7 1,2 1,-1 1,-24 1,42 1,-2 1,-33 1,9 1,-3 1,3 1,39 1,-13 1,-30 1,47 1,-23 1,-4 1,-14 1,1 1,9 1,45 1,-58 1,5 1,24 1,-10 1,-14 1,53 1,-44 1,-6 1,7 1,11 1,2 1,5 1,-10 1,-10 1,28 1,-24 1,-5 1,19 1,7 1,-24 1,0 1,4 1,-8 1,6 1,17 1,-1 1,-46 1,58 1,-1 1,-37 1,39 1,-42 1,42 1,-29 1,16 1,-5 1,7 1,-29 1,43 1,-12 1,-8 1,16 1,-19 1,32 1,-10 1,10 1,-41 1,14 1,-31 1,31 1,-14 1,-1 1,26 1,-15 1,18 1,-33 1,5 1,16 1,-38 1,17 1,15 1,-28 1,35 1,-22 1,27 1,-22 1,33 1,-48 1,44 1,-40 1,44 1,-22 1,-28 1,39 1,-18 1,6 1,2 1,14 1,-19 1,16 1,-25 1,8 1,16 1,12 1,-18 1,-4 1,10 1,3 1,-22 1,59 1,-51 1,-13 1,19 1,7 1,-7 1,-8 1,8 1,9 1,-17 1,-4 1,16 1,0 1,-19 1,54 1,-22 1,11 1,-9 1,-38 1,54 1,-56 1,10 1,19 1,-13 1,20 1,3 1,-15 1,28 1,-49 1,31 1,4 1,18 1,-16 1,-37 1,33 1,-14 1,8 1,5 1,11 1,-25 1,14 1,9 1,-3 1,1 1,-37 1,30 1,10 1,-23 1,13 1,-13 1,17 1,-6 1,-18 1,21 1,-1 1,-27 1,16 1,-1 1,-15 1,35 1,-27 1,12 1,-33 1,29 1,-18 1,26 1,-10 1,18 1,11 1,-52 1,28 1,-4 1,-6 1,-4 1,11 1,10 1,1 1,7 1,-17 1,16 1,-5 1,5 1,-1 1,-5 1,4 1,-24 1,-21 1,12 1,26 1,-7 1,-8 1,27 1,-9 1,14 1,-42 1,9 1,14 1,7 1,8 1,-16 1,17 1,-4 1,-16 1,18 1,-15 1,1 1,-24 1,4 1,1 1,15 1,-22 1,-11 1,25 1,41 1,-38 1,-17 1,10 1,13 1,8 1,-10 1,21 1,-15 1,-27 1,32 1,-27 1,27 1,-15 1,-34 1,1 1,26 1,5 1,15 1,-9 1,14 1,-12 1,-10 1,-17 1,36 1,-5 1,-1 1,-28 1,28 1,-46 1,37 1,-8 1,-1 1,-46 1,75 1,-48 1,4 1,6 1,-4 1,-20 1,39 1,-14 1,6 1,-27 1,29 1,-5 1,21 1,-33 1,-21 1,32 1,5 1,11 1,-6 1,-25 1,14 1,-19 1,25 1,34 1,-59 1,-7 1,0 1,16 1,11 1,-11 1,-25 1,31 1,6 1,11 1,-14 1,-33 1,39 1,-21 1,-17 1,20 1,3 1,3 1,-18 1,5 1,7 1,5 1,2 1,-28 1,36 1,-37 1,26 1,-6 1,-43 1,30 1,11 1,6 1,-8 1,10 1,-9 1,-3 1,17 1,46 1,-66 1,2 1,12 1,-20 1,26 1,-15 1,29 1,-45 1,18 1,-17 1,21 1,-17 1,-9 1,5 1,3 1,12 1,-17 1,25 1,-14 1,0 1,-2 1,5 1,26 1,-41 1,14 1,3 1,4 1,-16 1,-27 1,46 1,-1 1,4 1,-5 1,-25 1,37 1,-26 1,11 1,25 1,-12 1,-32 1,14 1,21 1,-8 1,-17 1,-19 1,7 1,8 1,8 1,16 1,-2 1,-45 1,19 1,-6 1,3 1,18 1,-10 1,-16 1,40 1,-34 1,-6 1,9 1,36 1,-17 1,-22 1,15 1,-20 1,29 1,-9 1,-42 1,39 1,15 1,-41 1,23 1,-8 1,15 1,-31 1,37 1,-18 1,26 1,-10 1,-17 1,-13 1,7 1,31 1,-6 1,-9 1,1 1,-9 1,-8 1,5 1,-1 1,-7 1,16 1,28 1,-61 1,37 1,-8 1,-19 1,24 1,28 1,-56 1,24 1,-21 1,36 1,-9 1,-6 1,-5 1,17 1,1 1,-31 1,-9 1,21 1,17 1,-16 1,28 1,-25 1,-7 1,12 1,-26 1,6 1,8 1,-3 1,35 1,-10 1,-11 1,-10 1,22 1,3 1,-24 1,-17 1,28 1,-10 1,-3 1,6 1,16 1,-19 1,2 1,-7 1,-3 1,-4 1,26 1,-9 1,-8 1,2 1,11 1,4 1,-9 1,2 1,5 1,-19 1,-11 1,54 1,-22 1,13 1,-37 1,18 1,19 1,4 1,-19 1,11 1,-13 1,-18 1,-3 1,-5 1,13 1,27 1,-22 1,35 1,-12 1,-4 1,-27 1,12 1,15 1,-25 1,27 1,4 1,-9 1,-30 1,27 1,-23 1,42 1,-32 1,1 1,10 1,-10 1,22 1,-8 1,25 1,-52 1,24 1,6 1,-8 1,-15 1,1 1,25 1,-16 1,-17 1,10 1,24 1,5 1,-8 1,13 1,-8 1,3 1,-22 1,9 1,25 1,-7 1,6 1,8 1,-52 1,48 1,2 1,-8 1,4 1,-22 1,28 1,0 1,-4 1,9 1,12 1,-18 1,-9 1,9 1,19 1,-7 1,-13 1,2 1,6 1,-22 1,4 1,22 1,-1 1,-12 1,5 1,-2 1,25 1,-23 1,6 1,-5 1,-13 1,-16 1,23 1,50 1,-47 1,18 1,-6 1,20 1,-30 1,-11 1,-11 1,53 1,-9 1,-45 1,39 1,-16 1,13 1,-10 1,16 1,21 1,-20 1,2 1,-1 1,-7 1,-1 1,20 1,8 1,-11 1,-10 1,10 1,4 1,-11 1,-13 1,23 1,-30 1,28 1,-21 1,-1 1,12 1,-10 1,13 1,4 1,-6 1,9 1,13 1,-17 1,-5 1,11 1,0 1,-26 1,19 1,-13 1,35 1,-35 1,7 1,11 1,-36 1,7 1,19 1,5 1,-17 1,21 1,7 1,1 1,16 1,-13 1,-13 1,24 1,-3 1,-20 1,-6 1,19 1,0 1,16 1,-18 1,13 1,3 1,-13 1,7 1,-31 1,7 1,14 1,-5 1,3 1,5 1,-22 1,37 1,-11 1,6 1,-40 1,13 1,-10 1,9 1,18 1,2 1,11 1,-26 1,25 1,-26 1,21 1,7 1,-31 1,11 1,13 1,2 1,-27 1,-6 1,5 1,27 1,2 1,-6 1,8 1,0 1,-7 1,16 1,-49 1,9 1,3 1,21 1,-34 1,56 1,-3 1,1 1,-49 1,34 1,-6 1,19 1,-23 1,6 1,-24 1,35 1,10 1,-22 1,-34 1,23 1,-9 1,24 1,-10 1,15 1,-2 1,-1 1,11 1,-33 1,34 1,-23 1,-8 1,27 1,-4 1,8 1,3 1,-23 1,17 1,-31 1,20 1,-6 1,-9 1,-10 1,29 1,-31 1,17 1,33 1,0 1,-16 1,-13 1,29 1,-26 1,6 1,6 1,-25 1,-10 1,-4 1,7 1,4 1,11 1,17 1,-15 1,-6 1,20 1,-24 1,32 1,-10 1,15 1,-14 1,-4 1,6 1,-1 1,3 1,-5 1,9 1,-24 1,30 1,-26 1,39 1,-43 1,11 1,33 1,-16 1,-28 1,28 1,-16 1,-15 1,40 1,-21 1,29 1,-34 1,5 1,15 1,-27 1,10 1,-29 1,43 1,7 1,-4 1,-15 1,-19 1,40 1,-32 1,8 1,25 1,-13 1,1 1,22 1,-37 1,18 1,-31 1,14 1,0 1,4 1,-1 1,-26 1,12 1,22 1,-29 1,35 1,5 1,-43 1,2 1,47 1,-12 1,-25 1,1 1,3 1,10 1,-23 1,40 1,-34 1,3 1,13 1,10 1,-13 1,4 1,19 1,-22 1,-1 1,15 1,-5 1,-10 1,-7 1,17 1,0 1,2 1,-19 1,-14 1,4 1,52 1,-41 1,-3 1,3 1,-13 1,5 1,25 1,4 1,-28 1,11 1,-2 1,9 1,-10 1,0 1,-2 1,-1 1,-8 1,20 1,6 1,-32 1,31 1,-21 1,23 1,-5 1,-43 1,10 1,27 1,5 1,-4 1,-14 1,17 1,-38 1,47 1,-8 1,-13 1,18 1,-30 1,26 1,2 1,-11 1,11 1,-15 1,33 1,-60 1,31 1,9 1,7 1,11 1,-24 1,-10 1,12 1,-9 1,9 1,-10 1,-17 1,43 1,-33 1,26 1,4 1,-18 1,21 1,-34 1,7 1,12 1,14 1,-26 1,-3 1,21 1,3 1,-26 1,32 1,11 1,-15 1,4 1,6 1,-30 1,19 1,-17 1,13 1,-2 1,-6 1,-13 1,3 1,-10 1,11 1,4 1,25 1,-6 1,-1 1,-20 1,2 1,8 1,18 1,-37 1,9 1,20 1,-9 1,19 1,-8 1,-16 1,1 1,0 1,4 1,20 1,-18 1,-2 1,21 1,-11 1,22 1,-17 1,-15 1,21 1,-17 1,11 1,-1 1,15 1,0 1,-18 1,3 1,-16 1,1 1,14 1,0 1,-19 1,20 1,-11 1,20 1,-30 1,29 1,-13 1,-12 1,13 1,-7 1,-14 1,0 1,33 1,-14 1,13 1,11 1,-26 1,-2 1,-16 1,26 1,-18 1,-6 1,18 1,14 1,-8 1,-27 1,54 1,-14 1,-10 1,11 1,-21 1,11 1,7 1,-12 1,19 1,-28 1,12 1,-1 1,-21 1,4 1,-4 1,39 1,-18 1,-23 1,13 1,-7 1,34 1,-40 1,39 1,-26 1,13 1,-15 1,-21 1,45 1,-5 1,-3 1,1 1,9 1,-32 1,7 1,14 1,-21 1,6 1,-8 1,30 1,-26 1,26 1,-6 1,-2 1,-11 1,16 1,-31 1,32 1,-34 1,34 1,-12 1,-3 1,13 1,-4 1,-8 1,4 1,-29 1,37 1,-19 1,20 1,-13 1,16 1,-24 1,0 1,16 1,-8 1,-10 1,18 1,-21 1,3 1,14 1,-4 1,0 1,5 1,-18 1,17 1,-3 1,1 1,-4 1,-22 1,40 1,-40 1,18 1,10 1,21 1,-42 1,23 1,-3 1,3 1,-17 1,24 1,-21 1,2 1,3 1,10 1,-17 1,11 1,-1 1,-4 1,-15 1,20 1,5 1,-3 1,14 1,-17 1,16 1,-11 1,0 1,15 1,-18 1,-10 1,22 1,-6 1,-20 1,3 1,17 1,5 1,-16 1,16 1,-17 1,23 1,-48 1,41 1,0 1,-8 1,-19 1,15 1,-18 1,33 1,-38 1,26 1,-14 1,-17 1,30 1,24 1,-7 1,-26 1,9 1,4 1,14 1,-18 1,21 1,-23 1,7 1,-5 1,-2 1,5 1,-5 1,32 1,-55 1,50 1,-11 1,-8 1,13 1,0 1,-29 1,-9 1,57 1,-24 1,-6 1,30 1,-41 1,-4 1,23 1,-12 1,-6 1,-7 1,12 1,-19 1,36 1,-36 1,5 1,6 1,-13 1,42 1,-36 1,22 1,-27 1,56 1,-32 1,6 1,-15 1,9 1,-20 1,9 1,10 1,-27 1,10 1,30 1,-6 1,-14 1,14 1,-12 1,18 1,-27 1,-13 1,12 1,33 1,-45 1,16 1,5 1,-17 1,19 1,-12 1,14 1,-12 1,19 1,-24 1,-19 1,60 1,-11 1,-23 1,1 1,-11 1,39 1,-42 1,28 1,-4 1,-19 1,33 1,-41 1,25 1,-9 1,6 1,-33 1,24 1,12 1,-29 1,25 1,11 1,-2 1,-32 1,34 1,-33 1,27 1,-39 1,19 1,-16 1,49 1,-14 1,-30 1,3 1,27 1,-6 1,-10 1,5 1,4 1,-11 1,-20 1,12 1,21 1,2 1,5 1,-1 1,-13 1,-2 1,24 1,-38 1,7 1,31 1,-9 1,-24 1,-14 1,4 1,29 1,-16 1,17 1,-34 1,37 1,-22 1,13 1,27 1,-22 1,6 1,-29 1,4 1,-9 1,36 1,-28 1,18 1,19 1,-40 1,16 1,-22 1,30 1,-10 1,16 1,-9 1,11 1,-38 1,6 1,28 1,-6 1,-10 1,-8 1,4 1,-8 1,22 1,-21 1,14 1,-21 1,40 1,-17 1,-7 1,-4 1,-12 1,26 1,6 1,12 1,-24 1,-18 1,7 1,15 1,-15 1,-11 1,42 1,-29 1,4 1,35 1,-44 1,23 1,5 1,-12 1,-6 1,-1 1,8 1,-13 1,29 1,8 1,-59 1,43 1,-11 1,3 1,4 1,-8 1,6 1,-17 1,25 1,3 1,-7 1,9 1,-25 1,20 1,5 1,-25 1,11 1,-9 1,-2 1,34 1,-25 1,-10 1,8 1,4 1,39 1,-24 1,-25 1,11 1,-2 1,-7 1,3 1,-2 1,10 1,10 1,-32 1,6 1,3 1,18 1,-27 1,3 1,21 1,-24 1,-13 1,40 1,-20 1,15 1,-20 1,-10 1,-1 1,54 1,-1 1,-9 1,6 1,-31 1,7 1,-34 1,27 1,14 1,-13 1,36 1,-48 1,18 1,-14 1,4 1,-5 1,10 1,-25 1,37 1,-15 1,-10 1,-8 1,22 1,-8 1,5 1,-7 1,23 1,4 1,-29 1,34 1,-14 1,-8 1,10 1,-18 1,15 1,-8 1,17 1,-23 1,8 1,9 1,2 1,-33 1,46 1,-30 1,-3 1,12 1,-27 1,3 1,13 1,-14 1,42 1,-23 1,1 1,4 1,8 1,-1 1,-19 1,27 1,-2 1,15 1,-27 1,-3 1,-7 1,-11 1,15 1,-17 1,17 1,23 1,-5 1,8 1,-43 1,34 1,-9 1,-1 1,10 1,-10 1,-1 1,-15 1,40 1,-32 1,17 1,-22 1,-2 1,19 1,-12 1,18 1,-12 1,7 1,8 1,-35 1,27 1,-40 1,21 1,1 1,-10 1,19 1,-7 1,-9 1,39 1,-29 1,1 1,-4 1,18 1,-4 1,-12 1,41 1,-18 1,-13 1,-31 1,31 1,-6 1,-5 1,-7 1,28 1,3 1,-23 1,-16 1,2 1,17 1,-11 1,10 1,15 1,0 1,-13 1,-18 1,31 1,-4 1,-20 1,17 1,8 1,16 1,-23 1,8 1,-15 1,11 1,-5 1,11 1,-31 1,19 1,-32 1,13 1,5 1,-2 1,12 1,7 1,9 1,-10 1,0 1,0 1,12 1,-20 1,39 1,-20 1,-16 1,-29 1,25 1,1 1,9 1,0 1,22 1,-43 1,15 1,10 1,7 1,-33 1,38 1,-28 1,-2 1,13 1,9 1,-6 1,3 1,-7 1,10 1,-19 1,8 1,4 1,-4 1,10 1,-21 1,1 1,24 1,-13 1,4 1,3 1,6 1,-28 1,33 1,-36 1,26 1,-30 1,16 1,-1 1,9 1,1 1,-21 1,13 1,-2 1,9 1,-12 1,-5 1,14 1,10 1,-39 1,42 1,-12 1,10 1,-17 1,-5 1,22 1,-15 1,-5 1,9 1,16 1,0 1,5 1,-21 1,-21 1,41 1,-17 1,-19 1,8 1,2 1,-11 1,20 1,3 1,2 1,3 1,-5 1,-27 1,13 1,17 1,-9 1,0 1,-10 1,17 1,-9 1,7 1,5 1,16 1,-15 1,-14 1,-13 1,44 1,-10 1,-39 1,26 1,11 1,-18 1,8 1,-14 1,23 1,-3 1,-22 1,15 1,-18 1,26 1,-27 1,26 1,-19 1,-2 1,26 1,-13 1,0 1,-1 1,-18 1,25 1,-16 1,20 1,9 1,-4 1,-18 1,-10 1,38 1,-27 1,9 1,-31 1,13 1,10 1,-15 1,20 1,-13 1,11 1,-23 1,31 1,2 1,-7 1,-18 1,-11 1,10 1,11 1,-8 1,7 1,24 1,-27 1,-16 1,41 1,-8 1,16 1,-18 1,-3 1,7 1,-1 1,24 1,-48 1,11 1,0 1,-11 1,53 1,-30 1,2 1,6 1,-28 1,20 1,6 1,-21 1,35 1,-15 1,6 1,-13 1,-17 1,-11 1,32 1,-3 1,3 1,-30 1,54 1,-44 1,-2 1,27 1,-24 1,29 1,-10 1,-21 1,-17 1,29 1,8 1,-22 1,22 1,-9 1,-4 1,11 1,-6 1,9 1,-56 1,25 1,31 1,4 1,12 1,-12 1,3 1,-10 1,-19 1,6 1,14 1,-12 1,-8 1,35 1,-33 1,14 1,-23 1,24 1,-10 1,-15 1,46 1,-31 1,3 1,4 1,11 1,-25 1,20 1,-8 1,-34 1,31 1,-34 1,31 1,-16 1,11 1,8 1,-8 1,16 1,-6 1,16 1,-33 1,10 1,-1 1,-13 1,19 1,12 1,-6 1,2 1,-8 1,-7 1,-9 1,10 1,-3 1,10 1,4 1,-5 1,15 1,-11 1,-13 1,3 1,25 1,-27 1,11 1,-7 1,20 1,-36 1,48 1,-29 1,-6 1,26 1,-21 1,2 1,-19 1,26 1,-6 1,-16 1,-5 1,5 1,37 1,-15 1,-23 1,4 1,-6 1,40 1,-12 1,-14 1,16 1,-31 1,29 1,5 1,-33 1,5 1,26 1,3 1,-33 1,-5 1,35 1,-17 1,7 1,0 1,11 1,-46 1,25 1,12 1,-4 1,-18 1,-1 1,48 1,-54 1,52 1,-31 1,-3 1,-13 1,21 1,-2 1,-1 1,-5 1,-7 1,2 1,-2 1,2 1,8 1,-13 1,29 1,-26 1,6 1,8 1,0 1,-9 1,11 1,7 1,-28 1,19 1,-1 1,-11 1,5 1,2 1,-2 1,-12 1,16 1,-9 1,30 1,-25 1,18 1,-31 1,15 1,-16 1,5 1,28 1,-9 1,-30 1,27 1,-22 1,16 1,11 1,-10 1,-9 1,24 1,-18 1,16 1,0 1,-6 1,-21 1,16 1,-11 1,14 1,-5 1,0 1,-1 1,9 1,-6 1,8 1,-1 1,-13 1,-5 1,7 1,-7 1,15 1,-8 1,-17 1,1 1,38 1,-43 1,14 1,5 1,10 1,-33 1,16 1,2 1,30 1,-23 1,23 1,-34 1,-3 1,14 1,-5 1,-9 1,4 1,7 1,18 1,-12 1,-6 1,-11 1,15 1,-6 1,-9 1,5 1,17 1,19 1,-32 1,6 1,9 1,-27 1,22 1,-15 1,14 1,-12 1,-17 1,35 1,-37 1,-3 1,34 1,-22 1,29 1,-22 1,15 1,16 1,-6 1,-10 1,-11 1,13 1,-17 1,5 1,38 1,-46 1,27 1,-15 1,-26 1,30 1,-23 1,16 1,19 1,-54 1,43 1,-27 1,13 1,-1 1,10 1,-6 1,12 1,-13 1,-10 1,42 1,-12 1,-21 1,28 1,-6 1,-4 1,-26 1,9 1,25 1,-10 1,2 1,-25 1,10 1,-6 1,12 1,24 1,-45 1,20 1,1 1,-7 1,-42 1,41 1,-5 1,29 1,-27 1,25 1,-13 1,-36 1,15 1,24 1,-11 1,-9 1,37 1,-36 1,11 1,6 1,1 1,-37 1,27 1,11 1,15 1,-31 1,11 1,15 1,-9 1,-20 1,-2 1,46 1,-13 1,-42 1,28 1,-9 1,-8 1,25 1,-10 1,-13 1,15 1,6 1,-21 1,7 1,24 1,-42 1,32 1,-11 1,-6 1,5 1,13 1,12 1,-8 1,-1 1,-27 1,-8 1,32 1,-2 1,-12 1,11 1,7 1,-1 1,-50 1,18 1,24 1,-13 1,14 1,-29 1,22 1,26 1,-38 1,5 1,-30 1,37 1,-1 1,-9 1,-1 1,-5 1,-1 1,13 1,25 1,-40 1,8 1,-4 1,5 1,14 1,-5 1,-13 1,7 1,-7 1,-3 1,-5 1,26 1,-18 1,3 1,31 1,-46 1,29 1,-2 1,5 1,-8 1,-3 1,12 1,-29 1,-5 1,-17 1,37 1,9 1,-2 1,-28 1,9 1,2 1,6 1,4 1,24 1,3 1,-29 1,33 1,-5 1,-10 1,-12 1,-23 1,50 1,-15 1,-28 1,14 1,-2 1,8 1,-30 1,14 1,6 1,-16 1,15 1,0 1,-6 1,19 1,-53 1,38 1,-8 1,46 1,-29 1,-23 1,26 1,-2 1,16 1,-17 1,18 1,-30 1,1 1,14 1,-4 1,-24 1,13 1,22 1,-32 1,53 1,-53 1,41 1,-31 1,26 1,0 1,-18 1,13 1,-6 1,-3 1,-2 1,0 1,0 1,13 1,-5 1,-11 1,-32 1,43 1,0 1,-3 1,-2 1,-11 1,0 1,12 1,8 1,-18 1,7 1,18 1,-25 1,24 1,-19 1,4 1,3 1,-14 1,1 1,22 1,-12 1,16 1,-18 1,1 1,-5 1,16 1,-19 1,-3 1,18 1,-14 1,-7 1,9 1,-35 1,24 1,51 1,-46 1,16 1,-25 1,41 1,-13 1,-12 1,12 1,18 1,-34 1,8 1,0 1,-30 1,3 1,18 1,-16 1,15 1,2 1,0 1,-5 1,3 1,11 1,-35 1,30 1,-14 1,38 1,-29 1,3 1,0 1,-9 1,21 1,-37 1,41 1,-13 1,23 1,-22 1,-10 1,11 1,-4 1,-3 1,12 1,-2 1,2 1,-9 1,4 1,-18 1,-14 1,41 1,-4 1,-7 1,14 1,-2 1,-12 1,-27 1,17 1,8 1,-4 1,-7 1,-14 1,19 1,8 1,10 1,-16 1,34 1,-39 1,2 1,22 1,9 1,5 1,-13 1,-17 1,34 1,-31 1,17 1,-30 1,18 1,14 1,-33 1,1 1,34 1,-6 1,-8 1,-19 1,9 1,-3 1,16 1,-8 1,-18 1,7 1,4 1,6 1,7 1,-13 1,-13 1,10 1,-10 1,30 1,-23 1,6 1,6 1,-10 1,10 1,-2 1,-6 1,10 1,-13 1,13 1,-5 1,2 1,14 1,-16 1,6 1,-8 1,10 1,-2 1,-12 1,-6 1,19 1,37 1,-20 1,-12 1,-14 1,45 1,-37 1,-14 1,13 1,16 1,-19 1,-15 1,4 1,4 1,18 1,-15 1,8 1,4 1,18 1,-30 1,-11 1,33 1,-34 1,22 1,-18 1,19 1,-35 1,41 1,3 1,-16 1,-2 1,22 1,-15 1,-17 1,15 1,1 1,-6 1,3 1,-4 1,-8 1,-9 1,28 1,-1 1,-31 1,25 1,-7 1,1 1,7 1,4 1,-17 1,14 1,-7 1,6 1,7 1,-5 1,16 1,10 1,-12 1,-8 1,-30 1,39 1,-29 1,15 1,6 1,-8 1,15 1,-14 1,-13 1,9 1,-26 1,39 1,-4 1,2 1,0 1,-39 1,36 1,-28 1,45 1,-4 1,-21 1,29 1,-28 1,0 1,-13 1,8 1,6 1,24 1,-14 1,-32 1,36 1,-33 1,21 1,11 1,-7 1,-21 1,53 1,-34 1,-7 1,14 1,-12 1,23 1,-16 1,-6 1,-8 1,5 1,21 1,-31 1,2 1,-5 1,20 1,10 1,6 1,5 1,-36 1,23 1,4 1,-16 1,-11 1,12 1,12 1,-3 1,-27 1,27 1,31 1,-52 1,33 1,-10 1,-2 1,-10 1,-12 1,40 1,-17 1,3 1,-33 1,11 1,10 1,34 1,-42 1,31 1,-4 1,-25 1,-11 1,12 1,26 1,-12 1,-2 1,-6 1,-8 1,12 1,26 1,-14 1,11 1,-45 1,49 1,0 1,-33 1,9 1,14 1,-13 1,-15 1,9 1,5 1,-9 1,14 1,-11 1,6 1,-22 1,14 1,-5 1,1 1,21 1,-31 1,42 1,-22 1,21 1,-6 1,-31 1,11 1,20 1,-6 1,-20 1,4 1,21 1,-19 1,27 1,-10 1,-18 1,3 1,-4 1,16 1,-11 1,19 1,4 1,-17 1,-13 1,20 1,-13 1,2 1,-8 1,17 1,-22 1,23 1,-22 1,19 1,18 1,-20 1,0 1,-7 1,-8 1,20 1,4 1,-20 1,11 1,-29 1,32 1,-7 1,0 1,10 1,5 1,-28 1,19 1,-3 1,2 1,-24 1,40 1,-32 1,18 1,-4 1,14 1,-13 1,26 1,-29 1,14 1,-24 1,0 1,-6 1,17 1,-34 1,-2 1,30 1,-14 1,22 1,-13 1,6 1,1 1,5 1,-4 1,18 1,-23 1,-13 1,43 1,-34 1,20 1,-10 1,-20 1,20 1,23 1,-8 1,-3 1,-6 1,-29 1,16 1,-2 1,15 1,-7 1,1 1,-3 1,0 1,9 1,-9 1,1 1,-7 1,40 1,-62 1,48 1,5 1,-7 1,-23 1,16 1,-28 1,39 1,-27 1,-2 1,-12 1,29 1,6 1,-31 1,21 1,1 1,24 1,-14 1,9 1,-12 1,16 1,8 1,-27 1,-14 1,27 1,-2 1,-18 1,-4 1,13 1,1 1,23 1,-22 1,-16 1,-3 1,-3 1,36 1,-46 1,20 1,4 1,31 1,-18 1,-12 1,9 1,-28 1,-5 1,9 1,29 1,-3 1,-26 1,-9 1,21 1,-4 1,11 1,-2 1,-23 1,-4 1,38 1,-15 1,-3 1,4 1,12 1,2 1,-16 1,-17 1,25 1,-4 1,-12 1,15 1,-3 1,-11 1,12 1,14 1,-20 1,-2 1,1 1,-2 1,-1 1,24 1,6 1,3 1,-21 1,1 1,6 1,6 1,-31 1,4 1,2 1,10 1,5 1,2 1,-2 1,6 1,-10 1,-4 1,18 1,-11 1,12 1,-7 1,9 1,-31 1,23 1,11 1,-19 1,-9 1,0 1,-8 1,22 1,-23 1,35 1,-38 1,20 1,0 1,-2 1,-20 1,35 1,-4 1,-16 1,-13 1,9 1,-5 1,34 1,-16 1,-10 1,9 1,5 1,2 1,-5 1,-7 1,29 1,-33 1,-7 1,13 1,10 1,-21 1,0 1,21 1,1 1,-4 1,20 1,-31 1,-10 1,19 1,22 1,-9 1,-6 1,-8 1,-4 1,5 1,-13 1,22 1,-2 1,14 1,-42 1,4 1,30 1,-13 1,-2 1,2 1,-9 1,15 1,-5 1,-2 1,14 1,-18 1,31 1,-8 1,-5 1,-4 1,-22 1,24 1,20 1,-21 1,-16 1,24 1,-7 1,12 1,-1 1,-31 1,0 1,-4 1,30 1,3 1,7 1,-3 1,-14 1,0 1,11 1,-4 1,-6 1,12 1,-8 1,-11 1,23 1,-24 1,37 1,-32 1,5 1,9 1,-17 1,-25 1,52 1,-4 1,-40 1,33 1,18 1,-41 1,25 1,-7 1,25 1,-13 1,-30 1,1 1,10 1,-12 1,10 1,33 1,-40 1,16 1,31 1,-3 1,-24 1,-24 1,6 1,17 1,16 1,-2 1,-4 1,-15 1,25 1,-26 1,20"/>
<path transform="translate(257.522,0) scale(0.38022,1)" vector-effect="non-scaling-stroke" fill="none" stroke="#AF79DE" stroke-width="4" stroke-linejoin="bevel" d="M0,204l1,23 1,23 1,20 1,21 1,19 1,16 1,17 1,14 1,16 1,12 1,12 1,13 1,11 1,11 1,11 1,10 1,10 1,8 1,9 1,7 1,8 1,10 1,8 1,8 1,6 1,8 1,7 1,8 1,5 1,11 1,5 1,8 1,8 1,7 1,4 1,11 1,6 1,5 1,4 1,5 1,6 1,9 1,7 1,4 1,12 1,2 1,6 1,5 1,-1 1,9 1,2 1,-1 1,9 1,4 1,2 1,4 1,-6 1,7 1,2 1,6 1,3 1,7 1,2 1,-3 1,10 1,6 1,-2 1,-5 1,7 1,5 1,-4 1,10 1,-2 1,12 1,2 1,-1 1,-2 1,10 1,-2 1,2 1,12 1,-7 1,-1 1,14 1,8 1,1 1,-2 1,10 1,-12 1,17 1,1 1,-12 1,7 1,-8 1,3 1,11 1,-8 1,9 1,3 1,0 1,7 1,7 1,-8 1,6 1,4 1,-11 1,-1 1,-10 1,17 1,4 1,-3 1,10 1,-3 1,-4 1,-5 1,-5 1,6 1,3 1,-4 1,-1 1,0 1,6 1,-14 1,8 1,3 1,3 1,0 1,-5 1,-2 1,-4 1,14 1,-4 1,-2 1,-5 1,-3 1,14 1,-7 1,2 1,8 1,-19 1,4 1,7 1,1 1,-10 1,6 1,-3 1,0 1,5 1,-1 1,6 1,-4 1,5 1,-13 1,7 1,-11 1,-2 1,2 1,12 1,-3 1,-11 1,17 1,-2 1,-7 1,0 1,1 1,-7 1,20 1,-16 1,1 1,-1 1,-2 1,-1 1,7 1,-9 1,1 1,1 1,9 1,-10 1,-1 1,8 1,-9 1,5 1,7 1,-3 1,-3 1,9 1,-12 1,-1 1,-7 1,10 1,4 1,-8 1,15 1,-6 1,0 1,-13 1,8 1,0 1,-14 1,11 1,-1 1,-9 1,12 1,9 1,-8 1,-10 1,3 1,8 1,-12 1,6 1,-2 1,0 1,8 1,-19 1,15 1,-5 1,-3 1,-10 1,12 1,-5 1,-16 1,9 1,1 1,0 1,2 1,-2 1,15 1,-4 1,-8 1,9 1,4 1,-11 1,-13 1,11 1,6 1,-17 1,5 1,6 1,1 1,-4 1,-4 1,-4 1,-4 1,10 1,-1 1,-11 1,-2 1,13 1,-2 1,-14 1,-7 1,12 1,4 1,1 1,-2 1,-18 1,11 1,-4 1,-4 1,26 1,-21 1,1 1,-5 1,7 1,3 1,-12 1,1 1,-4 1,-5 1,6 1,4 1,-4 1,-3 1,-14 1,18 1,-2 1,10 1,-19 1,-7 1,-6 1,11 1,4 1,2 1,-17 1,8 1,13 1,-9 1,-4 1,-1 1,-12 1,1 1,7 1,15 1,-1 1,-13 1,6 1,-2 1,6 1,-18 1,8 1,6 1,-22 1,11 1,2 1,1 1,0 1,0 1,4 1,3 1,-11 1,17 1,-27 1,2 1,5 1,-12 1,-8 1,1 1,24 1,-19 1,-8 1,33 1,-17 1,-2 1,-13 1,12 1,-9 1,7 1,-3 1,-3 1,4 1,-13 1,5 1,-5 1,12 1,3 1,0 1,-31 1,40 1,-23 1,1 1,0 1,-1 1,14 1,-14 1,2 1,6 1,4 1,-28 1,-3 1,-9 1,-1 1,25 1,-3 1,-2 1,3 1,-1 1,10 1,5 1,-30 1,26 1,-5 1,-24 1,11 1,-8 1,-16 1,20 1,-21 1,20 1,-15 1,8 1,14 1,-10 1,-12 1,12 1,5 1,3 1,-24 1,24 1,-17 1,-6 1,21 1,-8 1,0 1,-8 1,-26 1,29 1,0 1,-9 1,23 1,-22 1,20 1,-8 1,-26 1,-3 1,6 1,3 1,9 1,-19 1,-7 1,43 1,-30 1,3 1,19 1,-24 1,-35 1,38 1,-16 1,21 1,-40 1,27 1,7 1,8 1,-8 1,-1 1,-15 1,-2 1,-15 1,27 1,8 1,-15 1,-23 1,-10 1,12 1,30 1,-22 1,-19 1,8 1,16 1,-23 1,1 1,-2 1,-7 1,42 1,-43 1,15 1,12 1,-21 1,-6 1,3 1,1 1,-5 1,-5 1,0 1,6 1,25 1,-36 1,18 1,-17 1,-14 1,-4 1,22 1,-28 1,27 1,-14 1,31 1,-46 1,33 1,3 1,-10 1,-24 1,13 1,-5 1,-7 1,16 1,-18 1,3 1,12 1,-21 1,-6 1,7 1,-13 1,-31 1,27 1,3 1,-18 1,-13 1,35 1,-20 1,19 1,-5 1,15 1,-17 1,3 1,6 1,-30 1,22 1,-1 1,-50 1,10 1,17 1,24 1,-35 1,-17 1,-7 1,28 1,-3 1,-16 1,13 1,-13 1,23 1,-43 1,13 1,23 1,-30 1,-5 1,7 1,32 1,-27 1,17 1,-40 1,10 1,12 1,-9 1,-15 1,-29 1,43 1,1 1,-6 1,-37 1,2 1,12 1,-9 1,31 1,-36 1,11 1,-15 1,-11 1,42 1,-15 1,-16 1,10 1,-37 1,59 1,-44 1,-16 1,12 1,19 1,-5 1,9 1,-1 1,-12 1,14 1,-47 1,36 1,-1 1,-3 1,-9 1,-7 1,-2 1,-19 1,19 1,24 1,6 1,-32 1,-2 1,0 1,6 1,1 1,7 1,15 1,-56 1,15 1,10 1,6 1,7 1,22 1,-44 1,25 1,-12 1,2 1,4 1,9 1,-12 1,-20 1,25 1,0 1,-33 1,32 1,-9 1,-1 1,4 1,26 1,-55 1,30 1,-33 1,30 1,15 1,-44 1,47 1,-10 1,-10 1,-1 1,3 1,1 1,-1 1,17 1,-3 1,-28 1,32 1,12 1,-3 1,-21 1,-30 1,17 1,7 1,0 1,-22 1,34 1,5 1,-36 1,9 1,-4 1,17 1,18 1,-51 1,59 1,-10 1,-36 1,47 1,-7 1,-10 1,-4 1,-19 1,22 1,-21 1,14 1,16 1,-22 1,-4 1,19 1,7 1,0 1,-19 1,26 1,5 1,-32 1,16 1,-39 1,27 1,-14 1,19 1,-12 1,-27 1,48 1,-26 1,36 1,4 1,-13 1,-11 1,5 1,-26 1,25 1,14 1,-4 1,-28 1,42 1,-16 1,-23 1,23 1,-23 1,8 1,9 1,29 1,11 1,-64 1,23 1,-1 1,13 1,-4 1,-15 1,15 1,-15 1,-3 1,23 1,-6 1,-12 1,20 1,-17 1,-5 1,10 1,13 1,-20 1,34 1,-27 1,9 1,8 1,-12 1,-10 1,7 1,19 1,5 1,-9 1,-18 1,-7 1,6 1,2 1,12 1,-4 1,-12 1,24 1,-22 1,13 1,-13 1,29 1,-10 1,-3 1,15 1,-2 1,-35 1,24 1,-20 1,7 1,3 1,-15 1,3 1,21 1,1 1,7 1,-10 1,-4 1,1 1,1 1,-7 1,14 1,-17 1,-1 1,-7 1,26 1,-13 1,8 1,5 1,-15 1,18 1,-2 1,-1 1,-29 1,46 1,-7 1,1 1,18 1,-43 1,47 1,-33 1,18 1,5 1,-35 1,21 1,-13 1,16 1,-29 1,50 1,-20 1,-10 1,-10 1,35 1,-28 1,20 1,-30 1,27 1,-38 1,35 1,-21 1,0 1,31 1,-3 1,-21 1,-2 1,29 1,-41 1,20 1,-7 1,12 1,-1 1,-2 1,-16 1,23 1,4 1,-14 1,34 1,-34 1,7 1,31 1,-35 1,2 1,-21 1,24 1,-7 1,11 1,-22 1,36 1,-10 1,5 1,-19 1,-22 1,33 1,-6 1,-7 1,33 1,-21 1,-2 1,5 1,-2 1,1 1,6 1,-11 1,-9 1,-6 1,17 1,4 1,4 1,-25 1,-11 1,1 1,46 1,-14 1,-10 1,-4 1,39 1,-22 1,-1 1,-20 1,27 1,-25 1,-6 1,34 1,-17 1,6 1,-35 1,18 1,-8 1,17 1,-6 1,1 1,-11 1,33 1,-42 1,27 1,-8 1,17 1,-32 1,31 1,-29 1,17 1,-7 1,40 1,-58 1,10 1,-19 1,12 1,13 1,-3 1,-8 1,3 1,7 1,5 1,24 1,-20 1,-7 1,-5 1,16 1,10 1,-25 1,19 1,-7 1,-42 1,64 1,-16 1,-37 1,-9 1,34 1,-12 1,16 1,-15 1,26 1,-29 1,15 1,4 1,-15 1,18 1,-13 1,-2 1,-4 1,-35 1,22 1,44 1,-35 1,-7 1,9 1,-1 1,36 1,-51 1,6 1,21 1,-39 1,2 1,5 1,8 1,27 1,5 1,-14 1,23 1,-62 1,46 1,-28 1,18 1,-12 1,-19 1,41 1,4 1,-19 1,-18 1,45 1,-70 1,40 1,-17 1,2 1,26 1,-23 1,23 1,-12 1,18 1,-7 1,-2 1,-13 1,-2 1,-15 1,22 1,5 1,-23 1,17 1,-18 1,11 1,-17 1,18 1,17 1,-13 1,-32 1,38 1,-16 1,25 1,-9 1,0 1,-16 1,7 1,-14 1,13 1,11 1,-36 1,18 1,17 1,-28 1,14 1,10 1,-3 1,5 1,2 1,7 1,-24 1,13 1,-2 1,-25 1,12 1,18 1,-6 1,6 1,-12 1,0 1,16 1,-46 1,4 1,27 1,4 1,6 1,0 1,-8 1,-21 1,27 1,-5 1,-19 1,-11 1,19 1,18 1,-11 1,18 1,-24 1,-5 1,2 1,10 1,4 1,9 1,-16 1,-16 1,6 1,16 1,-6 1,5 1,-12 1,3 1,-1 1,-2 1,12 1,24 1,-26 1,2 1,-32 1,38 1,-12 1,25 1,-13 1,15 1,-38 1,27 1,3 1,-20 1,25 1,-40 1,25 1,-11 1,20 1,-43 1,44 1,13 1,-42 1,30 1,-28 1,28 1,4 1,-36 1,45 1,-28 1,3 1,11 1,3 1,-14 1,10 1,0 1,-27 1,21 1,0 1,-3 1,10 1,-19 1,-19 1,38 1,-4 1,-6 1,-8 1,43 1,-33 1,-18 1,21 1,3 1,-29 1,32 1,-43 1,26 1,21 1,4 1,-12 1,7 1,-25 1,14 1,10 1,-38 1,32 1,6 1,8 1,-5 1,4 1,-2 1,-28 1,0 1,6 1,-10 1,33 1,14 1,-6 1,-17 1,14 1,-16 1,7 1,11 1,-34 1,7 1,16 1,40 1,-35 1,2 1,11 1,-30 1,-25 1,15 1,2 1,44 1,-31 1,0 1,0 1,0 1,3 1,2 1,18 1,-15 1,-26 1,36 1,-5 1,-13 1,9 1,-13 1,46 1,-18 1,-13 1,-17 1,23 1,0 1,-8 1,-5 1,35 1,-37 1,21 1,5 1,-36 1,20 1,13 1,-15 1,-24 1,33 1,22 1,-24 1,-2 1,-17 1,9 1,10 1,-27 1,6 1,15 1,-1 1,2 1,-2 1,23 1,-24 1,1 1,-12 1,0 1,11 1,42 1,-22 1,-38 1,45 1,-24 1,-20 1,24 1,-19 1,5 1,-5 1,13 1,-29 1,46 1,11 1,-28 1,3 1,6 1,-10 1,0 1,14 1,6 1,-22 1,17 1,-6 1,-14 1,8 1,-28 1,12 1,22 1,4 1,8 1,6 1,-40 1,22 1,-30 1,24 1,-8 1,16 1,-9 1,3 1,-10 1,9 1,21 1,-9 1,-11 1,-26 1,-2 1,26 1,7 1,3 1,-5 1,-16 1,-14 1,39 1,-4 1,9 1,-44 1,35 1,1 1,-27 1,1 1,-1 1,3 1,11 1,-5 1,27 1,-15 1,-15 1,12 1,-14 1,-24 1,39 1,-14 1,28 1,-21 1,23 1,-9 1,-36 1,49 1,-33 1,6 1,-17 1,8 1,50 1,-39 1,-58 1,82 1,-24 1,-13 1,20 1,-5 1,-16 1,34 1,-16 1,9 1,-15 1,-4 1,3 1,-18 1,1 1,27 1,-15 1,10 1,-9 1,-8 1,24 1,-26 1,-6 1,14 1,17 1,-1 1,-33 1,0 1,8 1,-8 1,15 1,14 1,-19 1,-23 1,-1 1,2 1,18 1,14 1,-33 1,31 1,4 1,29 1,-57 1,19 1,9 1,-4 1,6 1,-7 1,5 1,-14 1,0 1,-26 1,59 1,-54 1,24 1,0 1,-17 1,-12 1,29 1,-31 1,44 1,25 1,-21 1,-64 1,48 1,-6 1,-4 1,16 1,-21 1,16 1,-20 1,-6 1,25 1,8 1,-27 1,35 1,-29 1,-11 1,2 1,1 1,21 1,1 1,-11 1,20 1,-36 1,21 1,-2 1,-39 1,39 1,-13 1,32 1,-32 1,29 1,-13 1,-33 1,42 1,-7 1,-5 1,-8 1,32 1,-34 1,23 1,-9 1,-12 1,-9 1,17 1,-6 1,-18 1,25 1,3 1,-8 1,-29 1,37 1,-14 1,18 1,-19 1,-5 1,8 1,1 1,36 1,-51 1,-8 1,21 1,2 1,-29 1,3 1,12 1,10 1,-1 1,18 1,-14 1,-11 1,11 1,5 1,5 1,-55 1,46 1,5 1,18 1,-29 1,8 1,-28 1,38 1,4 1,-30 1,15 1,-9 1,25 1,-21 1,7 1,0 1,-9 1,9 1,23 1,-26 1,-12 1,31 1,12 1,-16 1,-14 1,-1 1,10 1,7 1,30 1,-9 1,-54 1,29 1,11 1,-12 1,-13 1,-9 1,21 1,1 1,-6 1,-20 1,-16 1,57 1,-42 1,13 1,-20 1,38 1,-23 1,9 1,39 1,-24 1,-11 1,-34 1,44 1,0 1,3 1,-13 1,-26 1,12 1,25 1,-2 1,-4 1,27 1,-19 1,-14 1,0 1,-32 1,19 1,25 1,-44 1,33 1,10 1,-20 1,15 1,-25 1,43 1,-34 1,-30 1,43 1,-15 1,35 1,-15 1,-18 1,32 1,-31 1,-16 1,40 1,4 1,-27 1,20 1,14 1,-41 1,-38 1,58 1,-13 1,20 1,-12 1,-10 1,-10 1,-3 1,10 1,-6 1,29 1,-2 1,-21 1,30 1,-26 1,-2 1,23 1,-10 1,-14 1,23 1,14 1,-48 1,17 1,-30 1,32 1,42 1,-36 1,-6 1,5 1,-19 1,19 1,-8 1,-7 1,27 1,-18 1,8 1,-15 1,14 1,7 1,-10 1,26 1,-26 1,7 1,-8 1,18 1,-25 1,-7 1,17 1,-6 1,-5 1,36 1,-30 1,9 1,-24 1,6 1,10 1,29 1,-31 1,11 1,-36 1,22 1,6 1,18 1,-5 1,-35 1,43 1,-6 1,3 1,-32 1,47 1,-58 1,29 1,1 1,9 1,-5 1,-13 1,36 1,-58 1,20 1,5 1,24 1,-11 1,-33 1,63 1,-37 1,22 1,14 1,-40 1,12 1,-30 1,13 1,38 1,-30 1,20 1,-16 1,12 1,0 1,23 1,-24 1,-7 1,7 1,-19 1,-7 1,-24 1,52 1,-7 1,-9 1,20 1,-8 1,-11 1,17 1,-2 1,3 1,6 1,-12 1,5 1,-13 1,-14 1,13 1,4 1,-17 1,15 1,6 1,-19 1,13 1,5 1,-4 1,21 1,-37 1,53 1,-43 1,36 1,-26 1,29 1,-32 1,-3 1,-15 1,10 1,21 1,-9 1,1 1,-3 1,0 1,11 1,-8 1,-15 1,31 1,-19 1,-1 1,5 1,-11 1,-1 1,-8 1,33 1,-39 1,27 1,-30 1,4 1,40 1,-17 1,11 1,-10 1,-2 1,16 1,-9 1,13 1,-4 1,-29 1,-4 1,42 1,-4 1,-28 1,26 1,-36 1,-4 1,42 1,-24 1,-14 1,3 1,37 1,9 1,-34 1,34 1,-46 1,-26 1,40 1,24 1,-18 1,-10 1,21 1,-18 1,10 1,-23 1,31 1,-27 1,6 1,39 1,-29 1,27 1,-51 1,22 1,8 1,9 1,7 1,-12 1,8 1,-15 1,15 1,-1 1,-9 1,11 1,-16 1,-4 1,-12 1,7 1,15 1,-38 1,38 1,-15 1,22 1,-30 1,16 1,-20 1,10 1,15 1,23 1,-20 1,-6 1,-23 1,29 1,-23 1,31 1,-4 1,4 1,-57 1,20 1,8 1,8 1,0 1,1 1,12 1,6 1,-21 1,-12 1,18 1,4 1,-2 1,-21 1,30 1,-4 1,1 1,-25 1,32 1,-13 1,6 1,-1 1,-23 1,14 1,16 1,-11 1,4 1,-23 1,-7 1,21 1,-40 1,57 1,-29 1,42 1,-41 1,9 1,-18 1,-2 1,27 1,5 1,-32 1,32 1,-19 1,-5 1,17 1,16 1,-23 1,-5 1,13 1,-15 1,21 1,-19 1,7 1,-29 1,22 1,-18 1,51 1,-36 1,14 1,1 1,-8 1,-1 1,19 1,7 1,-6 1,-9 1,-13 1,10 1,7 1,21 1,-23 1,-17 1,-1 1,9 1,1 1,27 1,-18 1,6 1,-22 1,-12 1,64 1,-6 1,-24 1,4 1,-25 1,33 1,28 1,-52 1,8 1,7 1,-21 1,4 1,6 1,-17 1,23 1,-29 1,19 1,-2 1,8 1,-16 1,-14 1,18 1,2 1,24 1,-23 1,15 1,-14 1,0 1,-6 1,-21 1,2 1,-8 1,27 1,30 1,-49 1,38 1,15 1,-30 1,12 1,-17 1,-9 1,-1 1,3 1,19 1,-5 1,-16 1,29 1,-15 1,-19 1,20 1,19 1,-2 1,-38 1,25 1,-7 1,18 1,12 1,-76 1,56 1,-35 1,24 1,21 1,-2 1,-33 1,38 1,-35 1,7 1,-21 1,11 1,-10 1,30 1,-23 1,28 1,-28 1,29 1,-5 1,-14 1,12 1,14 1,2 1,-31 1,4 1,19 1,29 1,-35 1,-31 1,5 1,9 1,7 1,-26 1,-10 1,36 1,-9 1,7 1,-26 1,15 1,27 1,-22 1,-15 1,32 1,-18 1,20 1,-7 1,-11 1,-2 1,22 1,-24 1,15 1,14 1,-31 1,0 1,9 1,-23 1,30 1,-21 1,6 1,-14 1,42 1,3 1,-20 1,8 1,-4 1,12 1,15 1,7 1,-30 1,6 1,-26 1,24 1,6 1,-37 1,12 1,-17 1,19 1,-4 1,-16 1,-7 1,23 1,-22 1,39 1,-24 1,-3 1,16 1,1 1,-20 1,26 1,-5 1,2 1,21 1,-35 1,6 1,-27 1,30 1,-21 1,0 1,12 1,4 1,-7 1,1 1,-6 1,-22 1,55 1,-34 1,10 1,-28 1,12 1,16 1,-11 1,-11 1,10 1,7 1,-11 1,-12 1,38 1,-21 1,31 1,-25 1,-31 1,6 1,1 1,24 1,-35 1,48 1,-34 1,19 1,5 1,-31 1,5 1,13 1,14 1,-6 1,-17 1,19 1,-16 1,10 1,-27 1,43 1,-30 1,-5 1,6 1,7 1,7 1,-22 1,-20 1,64 1,-46 1,29 1,-31 1,-6 1,33 1,-38 1,-23 1,60 1,-5 1,7 1,-12 1,-19 1,-2 1,14 1,5 1,-9 1,9 1,15 1,-15 1,11 1,-23 1,-4 1,-4 1,21 1,-18 1,16 1,-23 1,23 1,12 1,-16 1,-4 1,-12 1,5 1,-5 1,26 1,0 1,-5 1,-13 1,10 1,-10 1,-30 1,12 1,-7 1,18 1,-9 1,15 1,-29 1,26 1,5 1,-15 1,-11 1,0 1,17 1,-4 1,-39 1,55 1,-17 1,3 1,-17 1,26 1,10 1,-40 1,14 1,-4 1,-3 1,-5 1,32 1,-52 1,31 1,-6 1,-22 1,27 1,-26 1,35 1,-2 1,-1 1,13 1,-40 1,10 1,9 1,24 1,-21 1,-6 1,4 1,3 1,-26 1,31 1,-4 1,-21 1,-8 1,-17 1,38 1,-16 1,-8 1,-7 1,0 1,28 1,-35 1,33 1,-10 1,0 1,-8 1,-19 1,60 1,-23 1,-21 1,3 1,-1 1,-45 1,51 1,-19 1,4 1,-30 1,18 1,-5 1,48 1,-39 1,3 1,16 1,-15 1,9 1,2 1,-12 1,-4 1,-20 1,7 1,-17 1,49 1,-18 1,20 1,-21 1,14 1,-39 1,-5 1,25 1,-2 1,14 1,-34 1,-4 1,14 1,15 1,-11 1,-6 1,-7 1,12 1,19 1,-11 1,-22 1,21 1,28 1,-24 1,25 1,-33 1,7 1,41 1,-47 1,11 1,3 1,14 1,-10 1,34 1,-8 1,-2 1,-6 1,8 1,-37 1,36 1,-25 1,19 1,30 1,-8 1,-26 1,22 1,0 1,15 1,-13 1,-16 1,34 1,-43 1,34 1,-8 1,4 1,33 1,-38 1,6 1,20 1,-43 1,17 1,38 1,-14 1,2 1,32 1,-53 1,30 1,-6 1,11 1,-18 1,-14 1,32 1,-21 1,16 1,-13 1,33 1,-14 1,25 1,6 1,-35 1,-2 1,16 1,13 1,5 1,-18 1,8 1,10 1,-8 1,-20 1,22 1,10 1,-33 1,20 1,6 1,-14 1,4 1,6 1,2 1,-1 1,-10 1,4 1,24 1,-35 1,18 1,-30 1,43 1,-35 1,37 1,10 1,-19 1,-10 1,17 1,18 1,-2 1,-29 1,25 1,-18 1,18 1,-7 1,1 1,-3 1,-5 1,22 1,-37 1,7 1,14 1,-1 1,10 1,7 1,-22 1,-10 1,54 1,-74 1,41 1,-1 1,-9 1,38 1,-26 1,-49 1,53 1,6 1,15 1,-23 1,-23 1,12 1,-2 1,-14 1,30 1,8 1,3 1,0 1,-7 1,-16 1,42 1,-34 1,-18 1,22 1,-21 1,18 1,13 1,-23 1,8 1,10 1,-8 1,1 1,-14 1,2 1,19 1,-8 1,6 1,-6 1,-23 1,31 1,-25 1,30 1,-2 1,-4 1,-1 1,18 1,-5 1,-42 1,24 1,23 1,-31 1,-5 1,34 1,-28 1,31 1,-1 1,-25 1,-6 1,50 1,-25 1,-7 1,3 1,21 1,-17 1,-14 1,2 1,20 1,-8 1,-5 1,5 1,-37 1,57 1,-29 1,-7 1,-31 1,45 1,-41 1,66 1,-74 1,49 1,-21 1,31 1,-63 1,33 1,-18 1,24 1,4 1,3 1,11 1,-16 1,-9 1,16 1,-5 1,-1 1,8 1,22 1,-20 1,12 1,-3 1,-28 1,39 1,-16 1,-16 1,15 1,12 1,-11 1,10 1,-28 1,-21 1,18 1,11 1,-5 1,18 1,-41 1,33 1,18 1,-16 1,-9 1,21 1,-45 1,35 1,21 1,-36 1,13 1,-7 1,0 1,11 1,6 1,-44 1,-15 1,48 1,-18 1,1 1,7 1,3 1,-2 1,16 1,-21 1,18 1,-21 1,5 1,-2 1,30 1,-9 1,-6 1,-15 1,-3 1,18 1,6 1,-2 1,-19 1,4 1,-12 1,24 1,-3 1,10 1,-8 1,0 1,-21 1,-11 1,37 1,-18 1,14 1,-44 1,32 1,-12 1,17 1,-53 1,41 1,-6 1,-6 1,-7 1,43 1,-21 1,-5 1,1 1,10 1,-1 1,10 1,-54 1,-4 1,31 1,-19 1,37 1,-20 1,45 1,-39 1,-18 1,13 1,24 1,-10 1,-9 1,-12 1,-11 1,13 1,42 1,-32 1,-21 1,-6 1,30 1,16 1,-6 1,-27 1,-13 1,37 1,-25 1,30 1,-43 1,24 1,-14 1,4 1,35 1,-49 1,-2 1,31 1,7 1,-16 1,25 1,-21 1,-36 1,32 1,22 1,-26 1,-2 1,28 1,21 1,-33 1,-10 1,28 1,-16 1,5 1,-15 1,16 1,-16 1,31 1,-22 1,-11 1,28 1,-31 1,-38 1,23 1,10 1,20 1,9 1,-29 1,25 1,-11 1,-12 1,13 1,-34 1,18 1,31 1,-35 1,27 1,-18 1,9 1,-30 1,39 1,-18 1,-9 1,75 1,-96 1,37 1,3 1,21 1,-45 1,30 1,0 1,-7 1,6 1,-12 1,-4 1,27 1,-34 1,26 1,-21 1,0 1,37 1,-26 1,-17 1,19 1,10 1,-22 1,16 1,-18 1,-11 1,46 1,-7 1,13 1,16 1,-6 1,-23 1,-6 1,-8 1,33 1,-18 1,-7 1,-14 1,8 1,6 1,-1 1,3 1,9 1,22 1,-15 1,-7 1,4 1,10 1,9 1,-45 1,7 1,22 1,23 1,-19 1,3 1,-24 1,21 1,9 1,-32 1,14 1,24 1,-18 1,-15 1,17 1,-11 1,10 1,13 1,-24 1,15 1,-12 1,-29 1,8 1,24 1,15 1,6 1,-53 1,39 1,-27 1,-22 1,37 1,-9 1,29 1,-9 1,-24 1,9 1,30 1,-11 1,5 1,-25 1,-3 1,37 1,0 1,-26 1,-8 1,26 1,-2 1,-39 1,40 1,4 1,-24 1,35 1,-20 1,3 1,-26 1,7 1,11 1,9 1,0 1,-12 1,15 1,-32 1,20 1,-8 1,1 1,14 1,-3 1,9 1,8 1,-46 1,43 1,-22 1,10 1,-3 1,9 1,-24 1,0 1,3 1,5 1,11 1,0 1,-10 1,21 1,-19 1,-9 1,23 1,-33 1,32 1,6 1,-13 1,29 1,-39 1,-19 1,51 1,-23 1,10 1,-8 1,-12 1,21 1,-33 1,37 1,-24 1,17 1,4 1,-3 1,-5 1,18 1,-20 1,-6 1,13 1,-21 1,-5 1,-12 1,37 1,-15 1,30 1,-29 1,20 1,-15 1,-3 1,11 1,-12 1,10 1,-18 1,-6 1,51 1,-28 1,-17 1,14 1,-6 1,8 1,-19 1,20 1,-1 1,6 1,-11 1,0 1,17 1,16 1,-25 1,7 1,-2 1,-17 1,43 1,-55 1,-17 1,37 1,-10 1,-3 1,-11 1,25 1,-14 1,3 1,-12 1,39 1,-32 1,8 1,-1 1,-2 1,7 1,-14 1,37 1,-23 1,-19 1,29 1,8 1,-36 1,-7 1,19 1,1 1,9 1,-23 1,34 1,-9 1,-35 1,30 1,-14 1,1 1,-6 1,43 1,-17 1,-18 1,-3 1,-20 1,75 1,-62 1,39 1,-19 1,-14 1,21 1,-18 1,4 1,18 1,-32 1,42 1,-59 1,50 1,-21 1,-10 1,-12 1,12 1,16 1,-19 1,16 1,16 1,-27 1,13 1,-20 1,15 1,17 1,-43 1,10 1,28 1,12 1,-13 1,3 1,-18 1,-8 1,23 1,-27 1,20 1,-17 1,21 1,-12 1,-26 1,35 1,-4 1,-11 1,1 1,-1 1,-25 1,43 1,-6 1,26 1,-1 1,-23 1,-45 1,26 1,21 1,-24 1,33 1,-10 1,-8 1,-13 1,25 1,-6 1,-32 1,37 1,-34 1,22 1,36 1,-53 1,37 1,-52 1,6 1,1 1,9 1,-6 1,29 1,11 1,-28 1,-11 1,13 1,0 1,-19 1,18 1,0 1,11 1,22 1,-29 1,4 1,12 1,19 1,-34 1,-11 1,15 1,12 1,-10 1,11 1,-22 1,2 1,-9 1,13 1,-8 1,2 1,-19 1,21 1,-3 1,-3 1,4 1,-5 1,14 1,-1 1,-20 1,24 1,-16 1,9 1,8 1,-30 1,-7 1,37 1,-9 1,31 1,-27 1,-9 1,14 1,-6 1,-6 1,33 1,-22 1,-15 1,-7 1,21 1,-3 1,-5 1,4 1,5 1,11 1,15 1,-61 1,11 1,4 1,17 1,5 1,20 1,-40 1,3 1,5 1,0 1,-18 1,22 1,2 1,-18 1,3 1,33 1,-55 1,34 1,11 1,-5 1,-2 1,-1 1,-13 1,10 1,6 1,9 1,-38 1,-22 1,27 1,-4 1,16 1,-6 1,3 1,22 1,-37 1,19 1,-4 1,-9 1,-2 1,-1 1,19 1,-6 1,12 1,23 1,-25 1,-14 1,8 1,-17 1,-4 1,10 1,12 1,-23 1,13 1,-32 1,17 1,41 1,-13 1,28 1,-37 1,10 1,2 1,-27 1,12 1,17 1,-29 1,17 1,31 1,-39 1,-4 1,12 1,-5 1,36 1,-57 1,8 1,34 1,-25 1,3 1,35 1,-55 1,29 1,-1 1,-17 1,-1 1,9 1,17 1,-25 1,-18 1,24 1,-9 1,32 1,-6 1,6 1,-33 1,-3 1,38 1,-21 1,3 1,10 1,-22 1,25 1,-37 1,-14 1,15 1,33 1,-8 1,-52 1,60 1,-29 1,-2 1,36 1,-19 1,16 1,-56 1,37 1,-22 1,33 1,-11 1,10 1,25 1,-21 1,-8 1,14 1,-7 1,2 1,6 1,11 1,-42 1,26 1,-12 1,-4 1,-8 1,2 1,-7 1,30 1,-21 1,8 1,-1 1,0 1,7 1,-12 1,20 1,-40 1,21 1,-1 1,-23 1,32 1,-29 1,1 1,27 1,-13 1,11 1,-21 1,4 1,42 1,-29 1,-15 1,16 1,27 1,-22 1,-4 1,5 1,16 1,0 1,-37 1,46 1,0 1,-37 1,22 1,-39 1,41 1,-42 1,34 1,-21 1,13 1,10 1,1 1,-17 1,10 1,-8 1,-21 1,18 1,16 1,-22 1,19 1,11 1,-35 1,26 1,49 1,-63 1,23 1,-29 1,14 1,-22 1,43 1,-46 1,13 1,11 1,1 1,-30 1,26 1,-2 1,12 1,-3 1,-31 1,8 1,31 1,9 1,-2 1,-49 1,21 1,-10 1,-2 1,33 1,-36 1,17 1,-14 1,39 1,-27 1,13 1,9 1,-10 1,-25 1,24 1,-13 1,6 1,23 1,-14 1,-28 1,28 1,29 1,-10 1,-12 1,4 1,-6 1,-22 1,-5 1,37 1,-17 1,8 1,-2 1,20 1,-4 1,-8 1,-1 1,1 1,-18 1,-18 1,27 1,-2 1,3 1,-5 1,12 1,-1 1,-33 1,13 1,18 1,11 1,13 1,-39 1,7 1,-14 1,24 1,-9 1,-17 1,30 1,18 1,-10 1,-24 1,13 1,-18 1,46 1,-40 1,-1 1,-15 1,32 1,-22 1,4 1,-25 1,20 1,12 1,5 1,3 1,-20 1,17 1,-21 1,-2 1,2 1,19 1,-10 1,15 1,17 1,-30 1,6 1,-12 1,-10 1,17 1,0 1,-15 1,3 1,30 1,-23 1,6 1,14 1,-10 1,-18 1,-7 1,27 1,-8 1,1 1,-3 1,21 1,-15 1,28 1,-33 1,23 1,-6 1,-18 1,18 1,-31 1,-11 1,43 1,-22 1,37 1,-44 1,-15 1,53 1,-35 1,21 1,-16 1,31 1,-41 1,15 1,-16 1,31 1,-6 1,-13 1,10 1,-10 1,-9 1,34 1,-14 1,23 1,-28 1,-9 1,20 1,-7 1,15 1,-18 1,-10 1,18 1,-7 1,4 1,-15 1,6 1,3 1,3 1,10 1,-18 1,13 1,-18 1,5 1,10 1,1 1,-3 1,-7 1,-3 1,-16 1,0 1,28 1,-10 1,27 1,-4 1,-36 1,26 1,-3 1,3 1,-4 1,-25 1,55 1,-35 1,13 1,-34 1,8 1,18 1,5 1,-4 1,-9 1,18 1,-23 1,-8 1,22 1,-26 1,9 1,-2 1,-2 1,1 1,3 1,-12 1,31 1,-16 1,-1 1,18 1,-27 1,-4 1,14 1,14 1,-22 1,1 1,24 1,-39 1,45 1,-34 1,-7 1,14 1,-1 1,-7 1,21 1,-41 1,28 1,-1 1,-22 1,16 1,32 1,-26 1,5 1,-8 1,6 1,-23 1,45 1,-40 1,9 1,34 1,-20 1,30 1,-16 1,-20 1,-7 1,9 1,-2 1,7 1,14 1,-7 1,-24 1,34 1,-9 1,-11 1,13 1,-2 1,3 1,-25 1,13 1,30 1,-49 1,5 1,44 1,-33 1,21 1,-29 1,8 1,29 1,4 1,-22 1,-2 1,17 1,-12 1,-5 1,-30 1,12 1,-4 1,34 1,-20 1,5 1,4 1,-8 1,0 1,-9 1,10 1,-5 1,0 1,50 1,-34 1,-39 1,16 1,20 1,-22 1,10 1,10 1,-21 1,-2 1,10 1,13 1,-29 1,8 1,36 1,24 1,-24 1,-34 1,11 1,-28 1,58 1,-17 1,-13 1,-10 1,8 1,-27 1,19 1,-23 1,-11 1,73 1,-33 1,12 1,-2 1,-9 1,18 1,-30 1,9 1,-9 1,-2 1,-8 1,40 1,-30 1,25 1,-35 1,15 1,21 1,-25 1,38 1,-49 1,31 1,-11 1,-17 1,24 1,-9 1,26 1,-5 1,-10 1,11 1,0 1,-47 1,17 1,16 1,-23 1,4 1,-12 1,42 1,0 1,-12 1,14 1,-20 1,-2 1,11 1,8 1,-1 1,1 1,-1 1,-25 1,11 1,-3 1,6 1,23 1,-42 1,7 1,31 1,-15 1,-3 1,-7 1,-32 1,35 1,-2 1,14 1,-37 1,58 1,-44 1,17 1,-4 1,-1 1,-5 1,0 1,29 1,-38 1,34 1,-25 1,-14 1,-14 1,18 1,8 1,2 1,21 1,-19 1,-19 1,25 1,0 1,-19 1,-11 1,44 1,-1 1,-26 1,-13 1,-13 1,53 1,-33 1,15 1,-26 1,37 1,-47 1,12 1,21 1,-3 1,26 1,-3 1,-7 1,13 1,14 1,-56 1,54 1,-28 1,3 1,-3 1,-17 1,16 1,13 1,-36 1,3 1,14 1,-22 1,41 1,-22 1,-6 1,-12 1,26 1,-5 1,2 1,0 1,-20 1,-6 1,20 1,11 1,0 1,3 1,-10 1,-2 1,16 1,-24 1,-6 1,-4 1,-15 1,1 1,43 1,-28 1,0 1,40 1,-42 1,13 1,6 1,-9 1,23 1,-2 1,-10 1,-13 1,18 1,-5 1,6 1,-17 1,-15 1,-9 1,17 1,-24 1,57 1,-35 1,1 1,11 1,-9 1,1 1,-33 1,61 1,-17 1,16 1,-11 1,7 1,-34 1,8 1,2 1,-3 1,0 1,11 1,-19 1,24 1,-6 1,-32 1,22 1,23 1,-19 1,-3 1,3 1,20 1,-24 1,30 1,-41 1,12 1,-6 1,30 1,-2 1,-8 1,0 1,-29 1,9 1,21 1,-8 1,19 1,-27 1,17 1,2 1,16 1,5 1,-37 1,-12 1,27 1,-27 1,20 1,-9 1,27 1,-63 1,28 1,12 1,6 1,6 1,-24 1,10 1,15 1,-16 1,-22 1,52 1,-23 1,11 1,-16 1,5 1,-31 1,15 1,-25 1,28 1,22 1,-29 1,-3 1,51 1,-51 1,22 1,8 1,-9 1,16 1,-14 1,-32 1,31 1,-28 1,25 1,-3 1,10 1,-29 1,26 1,7 1,5 1,-60 1,38 1,17 1,6 1,-5 1,-21 1,-31 1,27 1,29 1,-51 1,27 1,-19 1,13 1,-9 1,25 1,0 1,-10 1,17 1,-7 1,-11 1,3 1,-10 1,37 1,-23 1,-15 1,-16 1,0 1,20 1,-7 1,-6 1,29 1,-21 1,28 1,1 1,-33 1,-12 1,21 1,1 1,-7 1,6 1,-16 1,32 1,22 1,-43 1,9 1,-5 1,-11 1,43 1,-41 1,14 1,41 1,-36 1,-5 1,21 1,-15 1,-30 1,8 1,17 1,15 1,-13 1,11 1,-12 1,9 1,-19 1,-8 1,20 1,-1 1,0 1,14 1,-24 1,37 1,-15 1,-14 1,2 1,-9 1,10 1,-21 1,25 1,-36 1,14 1,36 1,-3 1,-49 1,29 1,15 1,0 1,-7 1,-16 1,4 1,4 1,-46 1,60 1,-13 1,-6 1,-6 1,-15 1,41 1,4 1,-48 1,11 1,29 1,5 1,-8 1,-17 1,15 1,-10 1,-4 1,-28 1,49 1,-22 1,-3 1,-3 1,-2 1,21 1,-12 1,6 1,24 1,-20 1,-7 1,4 1,-3 1,2 1,-19 1,2 1,24 1,-10 1,1 1,0 1,5 1,-19 1,10 1,-5 1,-2 1,6 1,-8 1,29 1,-18 1,21 1,-35 1,26 1,-17 1,3 1,16 1,15 1,-19 1,14 1,-18 1,0 1,14 1,-16 1,-21 1,12 1,33 1,-26 1,-11 1,4 1,8 1,16 1,-21 1,26 1,-39 1,21 1,0 1,22 1,-7 1,-35 1,33 1,-39 1,41 1,-7 1,3 1,12 1,7 1,-41 1,27 1,3 1,-18 1,-11 1,37 1,-31 1,-8 1,12 1,25 1,-18 1,2 1,-2 1,-6 1,28 1,-22 1,6 1,30 1,-57 1,26 1,-13 1,2 1,26 1,-12 1,-34 1,13 1,23 1,10 1,-4 1,-16 1,15 1,-18 1,6 1,-11 1,14 1,10 1,16 1,-22 1,11 1,-17 1,-6 1,-13 1,36 1,13 1,0 1,-48 1,-19 1,27 1,27 1,-19 1,23 1,-28 1,37 1,-11 1,-28 1,5 1,10 1,-4 1,10 1,-18 1,5 1,-7 1,3 1,31 1,-35 1,0 1,34 1,-52 1,36 1,3 1,-12 1,24 1,-40 1,-10 1,0 1,14 1,6 1,46 1,-32 1,-22 1,7 1,34 1,49 1,-81 1,16 1,-20 1,4 1,-16 1,37 1,-22 1,-12 1,24 1,-10 1,-23 1,29 1,-2 1,3 1,-6 1,-4 1,12 1,-44 1,42 1,20 1,-3 1,1 1,-12 1,-9 1,-9 1,7 1,22 1,-17 1,12 1,-45 1,6 1,15 1,0 1,9 1,11 1,-12 1,-17 1,33 1,-33 1,24 1,5 1,-9 1,-8 1,25 1,-17 1,2 1,-35 1,34 1,7 1,3 1,-16 1,-14 1,32 1,-49 1,36 1,-24 1,54 1,-39 1,16 1,-4 1,-17 1,29 1,3 1,-67 1,23 1,18 1,-15 1,35 1,-4 1,-6 1,-7 1,35 1,-35 1,8 1,-2 1,-1 1,-11 1,4 1,31 1,-35 1,10 1,4 1,-39 1,29 1,-7 1,-1 1,-6 1,18 1,0 1,5 1,7 1,-4 1,-17 1,-11 1,17 1,5 1,15 1,-5 1,8 1,-25 1,2 1,-4 1,11 1,-24 1,14 1,19 1,10 1,-16 1,17 1,-36 1,22 1,-17 1,17 1,13 1,-19 1,-9 1,16 1,-8 1,-5 1,4 1,-29 1,13 1,-31 1,12 1,57 1,-7 1,4 1,-28 1,6 1,20 1,-3 1,-17 1,-24 1,41 1,-3 1,-22 1,-12 1,31 1,-57 1,39 1,-12 1,13 1,16 1,-14 1,17 1,-1 1,23 1,-19 1,-8 1,-1 1,-3 1,-34 1,40 1,-23 1,19 1,-22 1,47 1,-44 1,-17 1,43 1,14 1,-37 1,-6 1,-4 1,16 1,-1 1,44 1,-30 1,-30 1,5 1,9 1,17 1,17 1,-48 1,23 1,5 1,-23 1,41 1,-13 1,16 1,-44 1,16 1,16 1,-21 1,21 1,-21 1,-16 1,49 1,-2 1,-22 1,-19 1,23 1,4 1,-15 1,18 1,21 1,-17 1,-27 1,14 1,13 1,6 1,-21 1,-18 1,8 1,4 1,13 1,-3 1,-41 1,21 1,33 1,-41 1,26 1,-6 1,-34 1,52 1,-29 1,44 1,-26 1,21 1,-9 1,-7 1,-20 1,37 1,-16 1,-23 1,4 1,-28 1,25 1,25 1,1 1,-10 1,15 1,-68 1,8 1,54 1,-24 1,23 1,-28 1,26 1,-20 1,17 1,5 1,2 1,-32 1,11 1,-4 1,16 1,7 1,-24 1,42 1,-27 1,28 1,-7 1,-36 1,9 1,-4 1,-2 1,12 1,-13 1,30 1,-22 1,2 1,-3 1,12 1,-5 1,2 1,-8 1,14 1,-17 1,-1 1,-7 1,28 1,15 1,-30 1,2 1,32 1,-25 1,-10 1,-8 1,43 1,-60 1,47 1,-8 1,-18 1,14 1,24 1,-23 1,-6 1,6 1,-11 1,61 1,-82 1,52 1,-29 1,-3 1,24 1,0 1,-53 1,58 1,-40 1,30 1,-8 1,10 1,-23 1,29 1,-12 1,-5 1,-15 1,17 1,-15 1,7 1,-20 1,25 1,-8 1,-2 1,-1 1,39 1,-23 1,7 1,4 1,-4 1,-19 1,12 1,-3 1,-6 1,-7 1,-28 1,17 1,37 1,2 1,-13 1,24 1,-10 1,-24 1,-3 1,4 1,-13 1,32 1,-6 1,-9 1,14 1,-34 1,4 1,29 1,-3 1,-17 1,46 1,-26 1,-3 1,-9 1,13 1,-18 1,13 1,10 1,-21 1,34 1,-43 1,20 1,10 1,-48 1,17 1,7 1,17 1,-20 1,-8 1,13 1,-1 1,-9 1,27 1,-20 1,24 1,-20 1,36 1,-15 1,-8 1,-8 1,12 1,-15 1,22 1,-7 1,-26 1,16 1,-5 1,39 1,-41 1,49 1,-59 1,-9 1,23 1,3 1,-24 1,22 1,2 1,-6 1,-19 1,17 1,31 1,-35 1,16 1,-1 1,9 1,18 1,-30 1,-7 1,-5 1,23 1,-1 1,-15 1,21 1,-44 1,34 1,-7 1,1 1,-2 1,-10 1,22 1,0 1,9 1,-43 1,39 1,-38 1,26 1,16 1,-2 1,-14 1,4 1,-22 1,21 1,1 1,6 1,-16 1,-9 1,-4 1,2 1,23 1,0 1,-5 1,39 1,-23 1,-23 1,6 1,9 1,-26 1,1 1,14 1,-6 1,-25 1,22 1,-6 1,41 1,-14 1,11 1,-37 1,13 1,-5 1,-26 1,28 1,44 1,-32 1,-22 1,26 1,-19 1,26 1,20 1,-23 1,-10 1,27 1,-1 1,-38 1,27 1,25 1,-66 1,18 1,22 1,17 1,-22 1,3 1,-4 1,17 1,-53 1,-6 1,24 1,-34 1,61 1,-50 1,32 1,-12 1,29 1,27 1,-56 1,17 1,21 1,-31 1,1 1,23 1,1 1,4 1,-19 1,20 1,-7 1,5 1,-34 1,18 1,-13 1,24 1,-10 1,-18 1,35 1,-34 1,43 1,-24 1,-13 1,46 1,-63 1,14 1,16 1,22 1,-30 1,-2 1,0 1,27 1,-13"/>
</g>
<!-- frame -->
<rect x="219.5" y="32.5" width="1711" height="1671" fill="none" stroke="#000" stroke-width="7"/>
<!-- ticks -->
<g stroke="#000" stroke-width="7">
<line x1="219.50" y1="1703.5" x2="219.50" y2="1737"/>
<line x1="314.56" y1="1703.5" x2="314.56" y2="1720"/>
<line x1="409.61" y1="1703.5" x2="409.61" y2="1737"/>
<line x1="504.67" y1="1703.5" x2="504.67" y2="1720"/>
<line x1="599.72" y1="1703.5" x2="599.72" y2="1737"/>
<line x1="694.78" y1="1703.5" x2="694.78" y2="1720"/>
<line x1="789.83" y1="1703.5" x2="789.83" y2="1737"/>
<line x1="884.89" y1="1703.5" x2="884.89" y2="1720"/>
<line x1="979.94" y1="1703.5" x2="979.94" y2="1737"/>
<line x1="1075.00" y1="1703.5" x2="1075.00" y2="1720"/>
<line x1="1170.06" y1="1703.5" x2="1170.06" y2="1737"/>
<line x1="1265.11" y1="1703.5" x2="1265.11" y2="1720"/>
<line x1="1360.17" y1="1703.5" x2="1360.17" y2="1737"/>
<line x1="1455.22" y1="1703.5" x2="1455.22" y2="1720"/>
<line x1="1550.28" y1="1703.5" x2="1550.28" y2="1737"/>
<line x1="1645.33" y1="1703.5" x2="1645.33" y2="1720"/>
<line x1="1740.39" y1="1703.5" x2="1740.39" y2="1737"/>
<line x1="1835.44" y1="1703.5" x2="1835.44" y2="1720"/>
<line x1="1930.50" y1="1703.5" x2="1930.50" y2="1737"/>
</g>
<!-- tick labels -->
<g font-size="72" text-anchor="middle">
<text x="219.50" y="1814.5">0</text>
<text x="409.61" y="1814.5">10</text>
<text x="599.72" y="1814.5">20</text>
<text x="789.83" y="1814.5">30</text>
<text x="979.94" y="1814.5">40</text>
<text x="1170.06" y="1814.5">50</text>
<text x="1360.17" y="1814.5">60</text>
<text x="1550.28" y="1814.5">70</text>
<text x="1740.39" y="1814.5">80</text>
<text x="1930.50" y="1814.5">90</text>
</g>
<text x="955" y="1948.5" font-size="88">2 θ (°)</text>
<text transform="translate(88,1078) rotate(-90)" font-size="88" letter-spacing="-0.36">Intensity (a.u)</text>
<!-- legend -->
<rect x="330.75" y="41.75" width="587.5" height="108.5" fill="none" stroke="#000" stroke-width="3.5"/>
<circle cx="361" cy="93.5" r="15"/>
<text x="381" y="113" font-size="70">SiO<tspan font-size="47" dy="19">2</tspan></text>
<polygon points="615.4,71.6 631,92.8 615.4,114 599.8,92.8"/>
<text x="633" y="113" font-size="70">Rh</text>
<polygon points="812,66 836,113 788,113"/>
<text x="846" y="113" font-size="70">Ni</text>
<!-- peak markers -->
<circle cx="636.5" cy="357.5" r="18.5"/>
<polygon points="1001.5,285.7 1021.1,312 1001.5,338.3 981.9,312"/>
<polygon points="1063.5,187 1086.2,232 1041.7,232"/>
<polygon points="1210.4,337 1230,363 1210.4,389 1190.8,363"/>
<polygon points="1281.6,283 1304,328 1259.8,328"/>
<polygon points="1500.5,320 1520,345.8 1500.5,371.7 1481,345.8"/>
<polygon points="1673.5,283 1696,328 1651.8,328"/>
<!-- curve labels -->
<g font-size="88">
<text x="1349.6" y="588" letter-spacing="-0.93">10%NiRh/SiO</text>
<text x="1390.85" y="906" letter-spacing="-0.74">5%NiRh/SiO</text>
<text x="1380.9" y="1166" letter-spacing="-0.57">2%NiRh/SiO</text>
<text x="1390.9" y="1435" letter-spacing="-0.89">1%NiRh/SiO</text>
<text x="1588.8" y="1668" letter-spacing="-0.38">Rh/SiO</text>
</g>
<g font-size="59">
<text transform="translate(1879.6000000000001,611.6) scale(1.065,1)">2</text>
<text transform="translate(1873.6000000000001,930.3) scale(1.065,1)">2</text>
<text transform="translate(1865.6000000000001,1190.3) scale(1.065,1)">2</text>
<text transform="translate(1872.6000000000001,1459.3) scale(1.065,1)">2</text>
<text transform="translate(1867.2,1692.4) scale(1.065,1)">2</text>
</g>
</svg>
</body></html>
